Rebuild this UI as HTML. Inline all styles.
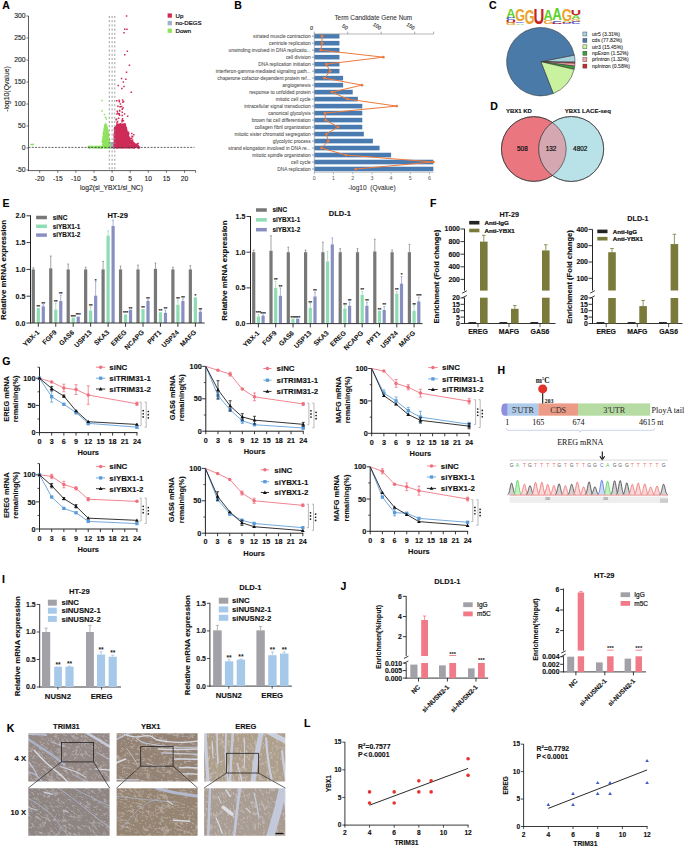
<!DOCTYPE html>
<html><head><meta charset="utf-8"><style>
html,body{margin:0;padding:0;background:#fff;}
body{width:685px;height:848px;overflow:hidden;position:relative;font-family:"Liberation Sans",sans-serif;}
svg{position:absolute;left:0;top:0;display:block;}

</style></head><body>
<svg width="685" height="848" viewBox="0 0 685 848" font-family="Liberation Sans, sans-serif">
<rect x="0" y="0" width="685" height="848" fill="#fff"/>
<text x="2.3" y="9.2" font-size="10.5" font-weight="bold" text-anchor="start" fill="#000" stroke="#000" stroke-width="0.12">A</text>
<path d="M109.2 146.6h1.5v1.5h-1.5zM110.4 143.0h1.5v1.5h-1.5zM108.8 145.7h1.5v1.5h-1.5zM114.1 142.6h1.5v1.5h-1.5zM109.2 145.2h1.5v1.5h-1.5zM111.2 145.4h1.5v1.5h-1.5zM109.7 146.4h1.5v1.5h-1.5zM113.3 147.2h1.5v1.5h-1.5zM112.8 145.8h1.5v1.5h-1.5zM110.8 144.8h1.5v1.5h-1.5zM110.2 146.1h1.5v1.5h-1.5zM110.9 145.4h1.5v1.5h-1.5zM110.1 144.4h1.5v1.5h-1.5zM108.9 146.8h1.5v1.5h-1.5zM109.7 147.2h1.5v1.5h-1.5zM110.9 147.2h1.5v1.5h-1.5zM113.6 146.8h1.5v1.5h-1.5zM114.2 147.2h1.5v1.5h-1.5zM113.3 147.2h1.5v1.5h-1.5zM109.9 146.8h1.5v1.5h-1.5zM110.5 145.7h1.5v1.5h-1.5zM109.2 147.2h1.5v1.5h-1.5zM112.6 145.2h1.5v1.5h-1.5zM109.9 142.1h1.5v1.5h-1.5zM110.4 144.5h1.5v1.5h-1.5zM110.1 146.2h1.5v1.5h-1.5zM113.7 146.7h1.5v1.5h-1.5zM110.9 147.1h1.5v1.5h-1.5zM111.1 143.1h1.5v1.5h-1.5zM111.5 144.1h1.5v1.5h-1.5zM112.6 146.9h1.5v1.5h-1.5zM110.7 145.4h1.5v1.5h-1.5zM109.0 142.0h1.5v1.5h-1.5zM112.6 143.7h1.5v1.5h-1.5zM111.2 145.0h1.5v1.5h-1.5zM108.7 144.7h1.5v1.5h-1.5zM113.5 145.3h1.5v1.5h-1.5zM112.7 146.7h1.5v1.5h-1.5zM111.4 145.1h1.5v1.5h-1.5zM111.3 144.5h1.5v1.5h-1.5zM111.5 147.2h1.5v1.5h-1.5zM109.4 144.7h1.5v1.5h-1.5zM113.3 146.5h1.5v1.5h-1.5zM113.5 147.2h1.5v1.5h-1.5zM110.6 146.9h1.5v1.5h-1.5zM111.8 145.1h1.5v1.5h-1.5zM109.4 147.0h1.5v1.5h-1.5zM113.6 146.6h1.5v1.5h-1.5zM112.6 142.0h1.5v1.5h-1.5zM112.4 145.1h1.5v1.5h-1.5zM109.4 143.0h1.5v1.5h-1.5zM113.3 147.2h1.5v1.5h-1.5zM111.5 147.2h1.5v1.5h-1.5zM113.8 146.7h1.5v1.5h-1.5zM109.8 145.6h1.5v1.5h-1.5zM111.2 147.2h1.5v1.5h-1.5zM111.2 146.1h1.5v1.5h-1.5zM108.8 145.9h1.5v1.5h-1.5zM113.3 146.8h1.5v1.5h-1.5zM109.5 147.0h1.5v1.5h-1.5zM113.9 147.2h1.5v1.5h-1.5zM110.8 143.5h1.5v1.5h-1.5zM110.6 146.9h1.5v1.5h-1.5zM113.7 143.4h1.5v1.5h-1.5zM113.4 142.6h1.5v1.5h-1.5zM109.1 145.2h1.5v1.5h-1.5zM109.4 142.7h1.5v1.5h-1.5zM110.5 144.8h1.5v1.5h-1.5zM112.3 147.2h1.5v1.5h-1.5zM113.6 147.1h1.5v1.5h-1.5zM112.3 147.2h1.5v1.5h-1.5zM108.7 146.6h1.5v1.5h-1.5zM110.2 147.0h1.5v1.5h-1.5zM112.9 144.5h1.5v1.5h-1.5zM109.4 142.8h1.5v1.5h-1.5zM110.6 147.1h1.5v1.5h-1.5zM109.6 146.9h1.5v1.5h-1.5zM108.5 144.7h1.5v1.5h-1.5zM109.2 146.1h1.5v1.5h-1.5zM110.1 147.0h1.5v1.5h-1.5zM113.9 146.5h1.5v1.5h-1.5zM110.9 144.8h1.5v1.5h-1.5zM109.9 142.1h1.5v1.5h-1.5zM112.1 147.2h1.5v1.5h-1.5zM112.6 144.5h1.5v1.5h-1.5zM112.6 146.3h1.5v1.5h-1.5zM113.9 146.9h1.5v1.5h-1.5zM113.1 144.8h1.5v1.5h-1.5zM113.8 146.1h1.5v1.5h-1.5zM114.0 146.5h1.5v1.5h-1.5zM114.0 146.6h1.5v1.5h-1.5zM111.4 146.9h1.5v1.5h-1.5zM111.6 146.0h1.5v1.5h-1.5zM113.4 143.8h1.5v1.5h-1.5zM112.5 147.2h1.5v1.5h-1.5zM110.8 146.2h1.5v1.5h-1.5zM113.7 147.2h1.5v1.5h-1.5zM112.6 142.1h1.5v1.5h-1.5zM108.9 145.9h1.5v1.5h-1.5zM110.4 146.9h1.5v1.5h-1.5zM110.6 147.2h1.5v1.5h-1.5zM110.8 146.8h1.5v1.5h-1.5zM109.2 147.2h1.5v1.5h-1.5zM111.7 142.6h1.5v1.5h-1.5zM111.1 147.1h1.5v1.5h-1.5zM111.3 146.8h1.5v1.5h-1.5zM112.8 147.2h1.5v1.5h-1.5zM112.1 142.8h1.5v1.5h-1.5zM113.2 142.5h1.5v1.5h-1.5zM111.5 146.1h1.5v1.5h-1.5zM110.6 145.2h1.5v1.5h-1.5zM111.1 147.2h1.5v1.5h-1.5zM112.4 144.1h1.5v1.5h-1.5zM113.2 147.2h1.5v1.5h-1.5zM111.5 147.2h1.5v1.5h-1.5zM110.2 147.2h1.5v1.5h-1.5zM112.0 147.1h1.5v1.5h-1.5zM113.6 145.0h1.5v1.5h-1.5zM108.8 146.3h1.5v1.5h-1.5zM108.9 147.2h1.5v1.5h-1.5zM109.5 147.2h1.5v1.5h-1.5zM109.3 147.0h1.5v1.5h-1.5zM110.5 143.7h1.5v1.5h-1.5zM113.0 146.4h1.5v1.5h-1.5zM111.4 147.2h1.5v1.5h-1.5zM111.3 147.2h1.5v1.5h-1.5zM111.7 142.9h1.5v1.5h-1.5zM112.1 147.0h1.5v1.5h-1.5zM111.3 146.3h1.5v1.5h-1.5zM112.6 145.5h1.5v1.5h-1.5zM114.1 143.3h1.5v1.5h-1.5zM113.1 142.5h1.5v1.5h-1.5zM113.1 145.2h1.5v1.5h-1.5zM109.6 147.2h1.5v1.5h-1.5zM111.0 143.8h1.5v1.5h-1.5zM112.8 147.2h1.5v1.5h-1.5zM110.0 147.2h1.5v1.5h-1.5zM109.6 142.9h1.5v1.5h-1.5zM110.0 144.0h1.5v1.5h-1.5zM110.7 144.3h1.5v1.5h-1.5zM112.4 146.0h1.5v1.5h-1.5zM109.7 144.9h1.5v1.5h-1.5zM109.4 145.3h1.5v1.5h-1.5zM113.0 147.1h1.5v1.5h-1.5zM110.9 147.2h1.5v1.5h-1.5zM111.8 147.2h1.5v1.5h-1.5zM110.5 147.2h1.5v1.5h-1.5zM111.0 142.2h1.5v1.5h-1.5zM108.6 146.3h1.5v1.5h-1.5zM109.1 147.1h1.5v1.5h-1.5zM109.3 145.7h1.5v1.5h-1.5zM109.3 147.2h1.5v1.5h-1.5zM112.2 144.8h1.5v1.5h-1.5zM110.3 147.0h1.5v1.5h-1.5zM111.6 147.0h1.5v1.5h-1.5zM109.2 146.0h1.5v1.5h-1.5zM112.1 147.2h1.5v1.5h-1.5zM112.3 147.0h1.5v1.5h-1.5zM109.0 147.2h1.5v1.5h-1.5zM113.4 147.2h1.5v1.5h-1.5zM115.0 147.2h1.5v1.5h-1.5zM105.9 147.0h1.5v1.5h-1.5zM98.9 146.9h1.5v1.5h-1.5zM88.1 147.0h1.5v1.5h-1.5zM116.9 147.2h1.5v1.5h-1.5zM137.8 147.0h1.5v1.5h-1.5zM94.4 146.9h1.5v1.5h-1.5zM89.2 146.9h1.5v1.5h-1.5zM130.1 147.0h1.5v1.5h-1.5zM89.0 147.2h1.5v1.5h-1.5zM129.9 146.9h1.5v1.5h-1.5zM101.5 146.8h1.5v1.5h-1.5zM129.0 147.2h1.5v1.5h-1.5zM132.7 147.2h1.5v1.5h-1.5zM104.3 147.2h1.5v1.5h-1.5zM98.5 147.0h1.5v1.5h-1.5zM90.1 146.8h1.5v1.5h-1.5zM98.5 146.9h1.5v1.5h-1.5zM105.6 146.8h1.5v1.5h-1.5zM116.2 147.0h1.5v1.5h-1.5zM126.4 147.0h1.5v1.5h-1.5zM110.7 147.2h1.5v1.5h-1.5zM128.3 147.0h1.5v1.5h-1.5zM111.3 146.8h1.5v1.5h-1.5zM111.4 146.9h1.5v1.5h-1.5zM96.1 147.1h1.5v1.5h-1.5zM119.8 147.1h1.5v1.5h-1.5zM138.3 146.8h1.5v1.5h-1.5zM120.5 146.9h1.5v1.5h-1.5zM101.6 146.9h1.5v1.5h-1.5zM131.4 147.0h1.5v1.5h-1.5zM116.5 147.0h1.5v1.5h-1.5zM100.4 147.2h1.5v1.5h-1.5zM97.1 147.0h1.5v1.5h-1.5zM120.1 146.9h1.5v1.5h-1.5zM101.4 147.2h1.5v1.5h-1.5zM109.1 147.2h1.5v1.5h-1.5zM100.9 147.0h1.5v1.5h-1.5zM122.5 147.2h1.5v1.5h-1.5zM96.6 147.0h1.5v1.5h-1.5z" fill="#9fb1c6" stroke="none" stroke-width="1"/>
<path d="M106.8 145.9h1.5v1.5h-1.5zM107.9 136.0h1.5v1.5h-1.5zM102.6 140.0h1.5v1.5h-1.5zM106.2 144.9h1.5v1.5h-1.5zM108.5 141.7h1.5v1.5h-1.5zM104.5 145.4h1.5v1.5h-1.5zM104.8 123.1h1.5v1.5h-1.5zM102.7 142.8h1.5v1.5h-1.5zM105.6 131.2h1.5v1.5h-1.5zM102.4 141.8h1.5v1.5h-1.5zM106.0 141.2h1.5v1.5h-1.5zM108.0 141.9h1.5v1.5h-1.5zM103.7 132.2h1.5v1.5h-1.5zM106.1 131.5h1.5v1.5h-1.5zM105.6 141.4h1.5v1.5h-1.5zM103.1 145.1h1.5v1.5h-1.5zM108.9 143.6h1.5v1.5h-1.5zM104.1 139.5h1.5v1.5h-1.5zM101.7 141.1h1.5v1.5h-1.5zM105.1 141.4h1.5v1.5h-1.5zM105.2 127.1h1.5v1.5h-1.5zM104.0 128.4h1.5v1.5h-1.5zM107.4 138.4h1.5v1.5h-1.5zM107.1 138.4h1.5v1.5h-1.5zM102.6 136.7h1.5v1.5h-1.5zM103.2 134.8h1.5v1.5h-1.5zM106.7 128.7h1.5v1.5h-1.5zM105.9 130.7h1.5v1.5h-1.5zM105.6 133.9h1.5v1.5h-1.5zM108.7 139.7h1.5v1.5h-1.5zM102.7 134.7h1.5v1.5h-1.5zM103.7 129.3h1.5v1.5h-1.5zM106.3 147.2h1.5v1.5h-1.5zM102.9 131.7h1.5v1.5h-1.5zM104.4 130.2h1.5v1.5h-1.5zM105.0 144.5h1.5v1.5h-1.5zM106.1 131.9h1.5v1.5h-1.5zM105.2 134.5h1.5v1.5h-1.5zM104.7 126.9h1.5v1.5h-1.5zM106.5 127.1h1.5v1.5h-1.5zM109.2 145.5h1.5v1.5h-1.5zM102.9 141.4h1.5v1.5h-1.5zM103.0 135.1h1.5v1.5h-1.5zM105.9 124.8h1.5v1.5h-1.5zM108.6 145.0h1.5v1.5h-1.5zM106.1 128.4h1.5v1.5h-1.5zM103.6 139.6h1.5v1.5h-1.5zM109.0 144.9h1.5v1.5h-1.5zM106.2 128.7h1.5v1.5h-1.5zM103.4 144.7h1.5v1.5h-1.5zM102.6 140.8h1.5v1.5h-1.5zM105.8 139.2h1.5v1.5h-1.5zM102.4 145.1h1.5v1.5h-1.5zM105.5 126.9h1.5v1.5h-1.5zM103.9 134.9h1.5v1.5h-1.5zM108.7 145.7h1.5v1.5h-1.5zM108.8 143.5h1.5v1.5h-1.5zM102.7 135.7h1.5v1.5h-1.5zM107.5 133.1h1.5v1.5h-1.5zM106.5 145.9h1.5v1.5h-1.5zM102.8 132.6h1.5v1.5h-1.5zM107.0 145.0h1.5v1.5h-1.5zM101.9 139.4h1.5v1.5h-1.5zM104.5 138.9h1.5v1.5h-1.5zM102.6 145.4h1.5v1.5h-1.5zM104.1 126.0h1.5v1.5h-1.5zM106.0 131.9h1.5v1.5h-1.5zM102.3 136.3h1.5v1.5h-1.5zM104.0 147.1h1.5v1.5h-1.5zM108.3 144.1h1.5v1.5h-1.5zM103.4 134.2h1.5v1.5h-1.5zM106.9 144.3h1.5v1.5h-1.5zM106.2 144.0h1.5v1.5h-1.5zM105.4 144.9h1.5v1.5h-1.5zM103.5 136.0h1.5v1.5h-1.5zM105.6 130.8h1.5v1.5h-1.5zM108.6 138.8h1.5v1.5h-1.5zM104.0 142.0h1.5v1.5h-1.5zM107.1 138.0h1.5v1.5h-1.5zM102.9 142.4h1.5v1.5h-1.5zM104.6 126.3h1.5v1.5h-1.5zM104.7 126.8h1.5v1.5h-1.5zM105.0 132.7h1.5v1.5h-1.5zM103.2 137.0h1.5v1.5h-1.5zM107.0 145.1h1.5v1.5h-1.5zM104.8 140.9h1.5v1.5h-1.5zM103.5 138.8h1.5v1.5h-1.5zM102.8 132.8h1.5v1.5h-1.5zM101.5 141.3h1.5v1.5h-1.5zM103.3 142.7h1.5v1.5h-1.5zM108.3 143.9h1.5v1.5h-1.5zM102.7 139.4h1.5v1.5h-1.5zM105.3 126.3h1.5v1.5h-1.5zM101.4 146.6h1.5v1.5h-1.5zM103.9 136.5h1.5v1.5h-1.5zM102.9 139.3h1.5v1.5h-1.5zM103.0 141.1h1.5v1.5h-1.5zM107.1 138.3h1.5v1.5h-1.5zM106.3 141.6h1.5v1.5h-1.5zM105.1 125.6h1.5v1.5h-1.5zM106.1 146.3h1.5v1.5h-1.5zM106.5 146.7h1.5v1.5h-1.5zM108.7 139.8h1.5v1.5h-1.5zM107.4 133.7h1.5v1.5h-1.5zM105.1 134.1h1.5v1.5h-1.5zM104.4 125.9h1.5v1.5h-1.5zM102.6 138.5h1.5v1.5h-1.5zM103.8 146.1h1.5v1.5h-1.5zM104.4 147.2h1.5v1.5h-1.5zM105.0 145.7h1.5v1.5h-1.5zM103.6 144.9h1.5v1.5h-1.5zM104.6 132.7h1.5v1.5h-1.5zM102.2 137.8h1.5v1.5h-1.5zM105.6 128.6h1.5v1.5h-1.5zM103.3 128.4h1.5v1.5h-1.5zM105.6 142.9h1.5v1.5h-1.5zM105.7 137.5h1.5v1.5h-1.5zM103.7 126.8h1.5v1.5h-1.5zM106.8 141.8h1.5v1.5h-1.5zM103.9 136.3h1.5v1.5h-1.5zM107.7 144.9h1.5v1.5h-1.5zM107.0 129.5h1.5v1.5h-1.5zM104.9 123.4h1.5v1.5h-1.5zM102.8 137.0h1.5v1.5h-1.5zM103.5 134.8h1.5v1.5h-1.5zM107.1 145.0h1.5v1.5h-1.5zM104.5 135.0h1.5v1.5h-1.5zM104.2 141.1h1.5v1.5h-1.5zM106.3 136.5h1.5v1.5h-1.5zM102.5 146.0h1.5v1.5h-1.5zM106.7 131.9h1.5v1.5h-1.5zM105.2 134.6h1.5v1.5h-1.5zM104.5 124.5h1.5v1.5h-1.5zM101.7 141.4h1.5v1.5h-1.5zM107.5 139.3h1.5v1.5h-1.5zM103.9 136.4h1.5v1.5h-1.5zM103.6 128.2h1.5v1.5h-1.5zM106.9 138.6h1.5v1.5h-1.5zM107.0 138.3h1.5v1.5h-1.5zM106.2 144.7h1.5v1.5h-1.5zM103.7 133.2h1.5v1.5h-1.5zM106.1 135.6h1.5v1.5h-1.5zM108.1 140.4h1.5v1.5h-1.5zM102.9 131.7h1.5v1.5h-1.5zM103.1 144.7h1.5v1.5h-1.5zM105.9 125.3h1.5v1.5h-1.5zM108.0 140.5h1.5v1.5h-1.5zM106.2 138.7h1.5v1.5h-1.5zM101.9 139.0h1.5v1.5h-1.5zM103.1 131.4h1.5v1.5h-1.5zM106.4 131.5h1.5v1.5h-1.5zM108.5 147.2h1.5v1.5h-1.5zM102.9 144.7h1.5v1.5h-1.5zM104.2 124.3h1.5v1.5h-1.5zM104.9 127.2h1.5v1.5h-1.5zM102.7 138.4h1.5v1.5h-1.5zM107.6 139.9h1.5v1.5h-1.5zM107.0 132.2h1.5v1.5h-1.5zM106.4 146.5h1.5v1.5h-1.5zM104.2 140.3h1.5v1.5h-1.5zM106.8 135.1h1.5v1.5h-1.5zM106.2 137.5h1.5v1.5h-1.5zM103.4 139.9h1.5v1.5h-1.5zM101.9 144.3h1.5v1.5h-1.5zM107.1 142.1h1.5v1.5h-1.5zM105.3 146.8h1.5v1.5h-1.5zM105.4 146.4h1.5v1.5h-1.5zM102.1 144.2h1.5v1.5h-1.5zM104.0 135.3h1.5v1.5h-1.5zM103.0 145.3h1.5v1.5h-1.5zM102.3 142.2h1.5v1.5h-1.5zM108.2 146.9h1.5v1.5h-1.5zM107.9 139.3h1.5v1.5h-1.5zM106.8 136.6h1.5v1.5h-1.5zM105.8 146.6h1.5v1.5h-1.5zM104.8 125.4h1.5v1.5h-1.5zM106.9 135.1h1.5v1.5h-1.5zM108.1 147.1h1.5v1.5h-1.5zM108.0 146.9h1.5v1.5h-1.5zM103.8 139.6h1.5v1.5h-1.5zM102.9 130.8h1.5v1.5h-1.5zM108.5 144.4h1.5v1.5h-1.5zM103.5 137.2h1.5v1.5h-1.5zM105.4 128.7h1.5v1.5h-1.5zM107.7 134.2h1.5v1.5h-1.5zM107.8 143.3h1.5v1.5h-1.5zM107.7 142.5h1.5v1.5h-1.5zM102.5 143.4h1.5v1.5h-1.5zM106.5 131.6h1.5v1.5h-1.5zM108.7 144.2h1.5v1.5h-1.5zM106.8 133.5h1.5v1.5h-1.5zM104.5 141.4h1.5v1.5h-1.5zM108.0 139.2h1.5v1.5h-1.5zM108.5 146.4h1.5v1.5h-1.5zM108.3 146.8h1.5v1.5h-1.5zM103.8 132.4h1.5v1.5h-1.5zM104.5 145.6h1.5v1.5h-1.5zM107.9 134.9h1.5v1.5h-1.5zM107.6 146.4h1.5v1.5h-1.5zM102.5 141.5h1.5v1.5h-1.5zM107.7 146.7h1.5v1.5h-1.5zM104.3 126.0h1.5v1.5h-1.5zM108.1 141.2h1.5v1.5h-1.5zM107.1 138.3h1.5v1.5h-1.5zM107.3 130.7h1.5v1.5h-1.5zM104.6 135.7h1.5v1.5h-1.5zM105.6 129.9h1.5v1.5h-1.5zM104.4 134.2h1.5v1.5h-1.5zM102.8 143.8h1.5v1.5h-1.5zM104.3 125.2h1.5v1.5h-1.5zM104.2 128.6h1.5v1.5h-1.5zM105.2 131.3h1.5v1.5h-1.5zM106.7 131.5h1.5v1.5h-1.5zM102.6 133.0h1.5v1.5h-1.5zM104.6 130.2h1.5v1.5h-1.5zM107.4 142.1h1.5v1.5h-1.5zM104.2 140.8h1.5v1.5h-1.5zM104.8 123.1h1.5v1.5h-1.5zM105.2 144.1h1.5v1.5h-1.5zM104.2 145.1h1.5v1.5h-1.5zM104.4 135.9h1.5v1.5h-1.5zM105.5 143.1h1.5v1.5h-1.5zM105.3 137.0h1.5v1.5h-1.5zM105.1 137.0h1.5v1.5h-1.5zM106.6 132.4h1.5v1.5h-1.5zM103.2 132.6h1.5v1.5h-1.5zM104.9 128.2h1.5v1.5h-1.5zM106.1 134.5h1.5v1.5h-1.5zM102.8 137.7h1.5v1.5h-1.5zM105.9 140.6h1.5v1.5h-1.5zM109.0 146.7h1.5v1.5h-1.5zM104.9 139.2h1.5v1.5h-1.5zM105.8 131.0h1.5v1.5h-1.5zM104.7 138.0h1.5v1.5h-1.5zM107.2 133.4h1.5v1.5h-1.5zM103.0 145.4h1.5v1.5h-1.5zM105.5 124.4h1.5v1.5h-1.5zM106.1 134.4h1.5v1.5h-1.5zM103.5 143.1h1.5v1.5h-1.5zM104.7 126.4h1.5v1.5h-1.5zM107.6 133.6h1.5v1.5h-1.5zM105.9 136.8h1.5v1.5h-1.5zM106.6 138.2h1.5v1.5h-1.5zM107.1 136.7h1.5v1.5h-1.5zM106.7 134.6h1.5v1.5h-1.5zM104.3 129.3h1.5v1.5h-1.5zM106.5 144.9h1.5v1.5h-1.5zM105.3 140.2h1.5v1.5h-1.5zM106.4 143.1h1.5v1.5h-1.5zM103.6 140.9h1.5v1.5h-1.5zM103.4 133.1h1.5v1.5h-1.5zM106.4 128.1h1.5v1.5h-1.5zM104.3 136.5h1.5v1.5h-1.5zM106.4 142.1h1.5v1.5h-1.5zM108.2 145.6h1.5v1.5h-1.5zM108.5 141.6h1.5v1.5h-1.5zM104.0 142.8h1.5v1.5h-1.5zM106.1 133.8h1.5v1.5h-1.5zM105.5 134.4h1.5v1.5h-1.5zM106.1 127.8h1.5v1.5h-1.5zM107.0 129.5h1.5v1.5h-1.5zM107.8 135.5h1.5v1.5h-1.5zM106.3 144.4h1.5v1.5h-1.5zM106.6 141.4h1.5v1.5h-1.5zM108.9 140.0h1.5v1.5h-1.5zM105.1 135.5h1.5v1.5h-1.5zM108.9 143.4h1.5v1.5h-1.5zM103.2 131.3h1.5v1.5h-1.5zM104.1 138.6h1.5v1.5h-1.5zM104.7 132.7h1.5v1.5h-1.5zM104.7 126.2h1.5v1.5h-1.5zM104.1 134.0h1.5v1.5h-1.5zM104.3 139.6h1.5v1.5h-1.5zM105.0 135.5h1.5v1.5h-1.5zM102.7 134.3h1.5v1.5h-1.5zM105.8 132.9h1.5v1.5h-1.5zM107.1 135.9h1.5v1.5h-1.5zM102.2 139.6h1.5v1.5h-1.5zM104.5 136.9h1.5v1.5h-1.5zM103.6 133.5h1.5v1.5h-1.5zM106.1 144.0h1.5v1.5h-1.5zM104.6 143.9h1.5v1.5h-1.5zM105.5 128.9h1.5v1.5h-1.5zM106.5 137.9h1.5v1.5h-1.5zM108.1 145.6h1.5v1.5h-1.5zM104.3 129.8h1.5v1.5h-1.5zM107.9 134.8h1.5v1.5h-1.5zM104.5 129.5h1.5v1.5h-1.5zM105.3 144.4h1.5v1.5h-1.5zM108.3 141.4h1.5v1.5h-1.5zM107.4 146.3h1.5v1.5h-1.5zM105.2 139.7h1.5v1.5h-1.5zM105.2 137.6h1.5v1.5h-1.5zM105.6 136.4h1.5v1.5h-1.5zM107.3 130.8h1.5v1.5h-1.5zM103.4 142.3h1.5v1.5h-1.5zM103.1 139.1h1.5v1.5h-1.5zM104.6 134.6h1.5v1.5h-1.5zM103.3 139.8h1.5v1.5h-1.5zM105.3 147.1h1.5v1.5h-1.5zM106.3 146.3h1.5v1.5h-1.5zM105.9 132.5h1.5v1.5h-1.5zM103.7 146.8h1.5v1.5h-1.5zM102.1 141.2h1.5v1.5h-1.5zM104.0 125.1h1.5v1.5h-1.5zM102.5 141.5h1.5v1.5h-1.5zM105.8 133.9h1.5v1.5h-1.5zM107.5 139.5h1.5v1.5h-1.5zM106.7 132.8h1.5v1.5h-1.5zM102.9 133.1h1.5v1.5h-1.5zM108.7 146.9h1.5v1.5h-1.5zM103.8 139.5h1.5v1.5h-1.5zM106.4 143.9h1.5v1.5h-1.5zM101.7 146.8h1.5v1.5h-1.5zM106.0 125.2h1.5v1.5h-1.5zM105.6 134.6h1.5v1.5h-1.5zM104.5 133.0h1.5v1.5h-1.5zM107.2 135.6h1.5v1.5h-1.5zM105.3 139.7h1.5v1.5h-1.5zM106.3 145.5h1.5v1.5h-1.5zM105.4 136.5h1.5v1.5h-1.5zM106.0 140.1h1.5v1.5h-1.5zM107.8 140.7h1.5v1.5h-1.5zM105.6 136.4h1.5v1.5h-1.5zM105.5 138.1h1.5v1.5h-1.5zM104.9 140.5h1.5v1.5h-1.5zM104.8 140.6h1.5v1.5h-1.5zM103.7 140.4h1.5v1.5h-1.5zM105.6 139.9h1.5v1.5h-1.5zM107.0 139.6h1.5v1.5h-1.5zM88.1 145.6h1.5v1.5h-1.5zM100.2 147.2h1.5v1.5h-1.5zM91.3 146.0h1.5v1.5h-1.5zM92.7 146.1h1.5v1.5h-1.5zM91.4 146.4h1.5v1.5h-1.5zM96.9 146.3h1.5v1.5h-1.5zM91.2 145.8h1.5v1.5h-1.5zM95.7 146.2h1.5v1.5h-1.5zM94.4 145.7h1.5v1.5h-1.5zM100.8 145.7h1.5v1.5h-1.5zM93.3 146.5h1.5v1.5h-1.5zM95.9 145.5h1.5v1.5h-1.5zM98.7 146.3h1.5v1.5h-1.5zM95.0 146.2h1.5v1.5h-1.5zM91.2 146.1h1.5v1.5h-1.5zM87.6 146.6h1.5v1.5h-1.5zM99.4 146.0h1.5v1.5h-1.5zM101.5 146.0h1.5v1.5h-1.5zM89.0 145.9h1.5v1.5h-1.5zM100.8 146.7h1.5v1.5h-1.5zM100.2 147.1h1.5v1.5h-1.5zM89.6 145.8h1.5v1.5h-1.5zM98.1 146.9h1.5v1.5h-1.5zM87.9 146.1h1.5v1.5h-1.5zM90.2 146.3h1.5v1.5h-1.5zM95.2 145.7h1.5v1.5h-1.5zM93.2 147.2h1.5v1.5h-1.5zM100.6 147.2h1.5v1.5h-1.5zM97.9 145.7h1.5v1.5h-1.5zM101.0 147.2h1.5v1.5h-1.5zM96.9 146.8h1.5v1.5h-1.5zM95.6 145.9h1.5v1.5h-1.5zM91.0 147.0h1.5v1.5h-1.5zM89.2 146.0h1.5v1.5h-1.5zM101.0 146.6h1.5v1.5h-1.5zM89.7 146.5h1.5v1.5h-1.5zM92.5 146.1h1.5v1.5h-1.5zM92.7 145.9h1.5v1.5h-1.5zM99.4 145.8h1.5v1.5h-1.5zM95.4 146.9h1.5v1.5h-1.5zM101.2 99.7h1.5v1.5h-1.5zM101.2 110.3h1.5v1.5h-1.5zM103.7 113.8h1.5v1.5h-1.5zM104.8 116.5h1.5v1.5h-1.5zM105.6 118.2h1.5v1.5h-1.5zM30.3 143.7h1.5v1.5h-1.5zM31.7 143.9h1.5v1.5h-1.5zM32.4 143.5h1.5v1.5h-1.5zM88.5 145.5h1.5v1.5h-1.5zM92.2 145.9h1.5v1.5h-1.5z" fill="#8fe35c" stroke="none" stroke-width="1"/>
<path d="M124.9 133.5h1.5v1.5h-1.5zM126.3 132.8h1.5v1.5h-1.5zM118.1 134.6h1.5v1.5h-1.5zM115.7 139.8h1.5v1.5h-1.5zM115.7 127.3h1.5v1.5h-1.5zM131.0 146.2h1.5v1.5h-1.5zM117.4 146.9h1.5v1.5h-1.5zM126.8 145.8h1.5v1.5h-1.5zM118.2 141.3h1.5v1.5h-1.5zM114.1 135.8h1.5v1.5h-1.5zM124.6 126.5h1.5v1.5h-1.5zM126.6 131.5h1.5v1.5h-1.5zM126.1 130.9h1.5v1.5h-1.5zM125.0 140.4h1.5v1.5h-1.5zM121.4 141.6h1.5v1.5h-1.5zM120.7 145.5h1.5v1.5h-1.5zM113.4 142.1h1.5v1.5h-1.5zM115.2 131.7h1.5v1.5h-1.5zM115.6 139.1h1.5v1.5h-1.5zM116.4 141.2h1.5v1.5h-1.5zM115.9 145.8h1.5v1.5h-1.5zM133.7 142.9h1.5v1.5h-1.5zM127.6 136.2h1.5v1.5h-1.5zM118.2 129.2h1.5v1.5h-1.5zM116.7 131.4h1.5v1.5h-1.5zM116.3 136.9h1.5v1.5h-1.5zM118.8 140.6h1.5v1.5h-1.5zM121.1 125.4h1.5v1.5h-1.5zM118.7 137.5h1.5v1.5h-1.5zM118.8 140.9h1.5v1.5h-1.5zM120.9 145.4h1.5v1.5h-1.5zM115.6 132.9h1.5v1.5h-1.5zM119.5 132.4h1.5v1.5h-1.5zM122.8 136.1h1.5v1.5h-1.5zM118.0 143.5h1.5v1.5h-1.5zM119.7 142.6h1.5v1.5h-1.5zM118.4 123.8h1.5v1.5h-1.5zM124.1 144.7h1.5v1.5h-1.5zM119.4 129.9h1.5v1.5h-1.5zM119.9 127.0h1.5v1.5h-1.5zM128.6 140.0h1.5v1.5h-1.5zM117.8 129.5h1.5v1.5h-1.5zM115.1 141.6h1.5v1.5h-1.5zM129.0 140.3h1.5v1.5h-1.5zM113.8 140.6h1.5v1.5h-1.5zM124.7 145.8h1.5v1.5h-1.5zM117.8 138.2h1.5v1.5h-1.5zM127.9 144.0h1.5v1.5h-1.5zM122.6 125.3h1.5v1.5h-1.5zM116.9 146.4h1.5v1.5h-1.5zM113.9 131.6h1.5v1.5h-1.5zM125.6 129.3h1.5v1.5h-1.5zM115.3 133.8h1.5v1.5h-1.5zM122.3 130.4h1.5v1.5h-1.5zM124.0 127.8h1.5v1.5h-1.5zM115.4 131.5h1.5v1.5h-1.5zM124.6 126.6h1.5v1.5h-1.5zM115.5 128.8h1.5v1.5h-1.5zM114.1 132.4h1.5v1.5h-1.5zM125.6 141.6h1.5v1.5h-1.5zM119.9 147.0h1.5v1.5h-1.5zM121.0 130.5h1.5v1.5h-1.5zM118.5 143.1h1.5v1.5h-1.5zM124.6 125.3h1.5v1.5h-1.5zM121.7 130.8h1.5v1.5h-1.5zM118.4 136.6h1.5v1.5h-1.5zM128.2 139.5h1.5v1.5h-1.5zM116.8 135.0h1.5v1.5h-1.5zM120.4 143.1h1.5v1.5h-1.5zM124.8 140.5h1.5v1.5h-1.5zM118.8 137.0h1.5v1.5h-1.5zM121.4 126.6h1.5v1.5h-1.5zM115.2 146.5h1.5v1.5h-1.5zM135.6 146.2h1.5v1.5h-1.5zM121.2 127.7h1.5v1.5h-1.5zM113.8 143.9h1.5v1.5h-1.5zM124.9 146.6h1.5v1.5h-1.5zM116.9 146.1h1.5v1.5h-1.5zM130.8 142.3h1.5v1.5h-1.5zM125.5 142.8h1.5v1.5h-1.5zM113.6 135.6h1.5v1.5h-1.5zM131.6 142.8h1.5v1.5h-1.5zM120.3 138.7h1.5v1.5h-1.5zM123.4 127.7h1.5v1.5h-1.5zM136.5 145.1h1.5v1.5h-1.5zM116.7 136.1h1.5v1.5h-1.5zM123.0 133.2h1.5v1.5h-1.5zM130.0 142.2h1.5v1.5h-1.5zM118.8 125.1h1.5v1.5h-1.5zM121.5 124.8h1.5v1.5h-1.5zM115.5 136.4h1.5v1.5h-1.5zM125.8 146.5h1.5v1.5h-1.5zM134.0 145.7h1.5v1.5h-1.5zM133.8 143.0h1.5v1.5h-1.5zM121.9 127.8h1.5v1.5h-1.5zM116.9 143.6h1.5v1.5h-1.5zM119.0 134.3h1.5v1.5h-1.5zM120.7 129.3h1.5v1.5h-1.5zM121.3 137.9h1.5v1.5h-1.5zM118.7 126.3h1.5v1.5h-1.5zM128.0 142.3h1.5v1.5h-1.5zM127.0 134.9h1.5v1.5h-1.5zM128.8 146.6h1.5v1.5h-1.5zM123.6 127.5h1.5v1.5h-1.5zM127.7 135.2h1.5v1.5h-1.5zM131.0 145.6h1.5v1.5h-1.5zM127.1 137.1h1.5v1.5h-1.5zM120.2 135.6h1.5v1.5h-1.5zM116.6 136.6h1.5v1.5h-1.5zM125.5 139.4h1.5v1.5h-1.5zM118.2 132.0h1.5v1.5h-1.5zM133.2 146.7h1.5v1.5h-1.5zM118.3 141.7h1.5v1.5h-1.5zM122.4 132.0h1.5v1.5h-1.5zM116.0 129.2h1.5v1.5h-1.5zM116.5 134.7h1.5v1.5h-1.5zM119.7 142.4h1.5v1.5h-1.5zM126.9 136.5h1.5v1.5h-1.5zM122.9 137.1h1.5v1.5h-1.5zM126.9 143.3h1.5v1.5h-1.5zM118.6 131.7h1.5v1.5h-1.5zM121.4 124.5h1.5v1.5h-1.5zM119.4 129.3h1.5v1.5h-1.5zM120.0 144.9h1.5v1.5h-1.5zM133.5 144.1h1.5v1.5h-1.5zM123.6 130.4h1.5v1.5h-1.5zM113.8 142.3h1.5v1.5h-1.5zM126.2 130.4h1.5v1.5h-1.5zM118.2 145.5h1.5v1.5h-1.5zM116.1 146.3h1.5v1.5h-1.5zM127.4 134.6h1.5v1.5h-1.5zM127.9 143.6h1.5v1.5h-1.5zM118.1 142.2h1.5v1.5h-1.5zM137.0 144.9h1.5v1.5h-1.5zM125.1 128.4h1.5v1.5h-1.5zM121.7 135.7h1.5v1.5h-1.5zM126.5 136.7h1.5v1.5h-1.5zM128.7 146.9h1.5v1.5h-1.5zM118.0 136.1h1.5v1.5h-1.5zM118.3 143.2h1.5v1.5h-1.5zM126.4 146.9h1.5v1.5h-1.5zM119.9 124.8h1.5v1.5h-1.5zM131.8 145.5h1.5v1.5h-1.5zM122.1 135.7h1.5v1.5h-1.5zM113.6 138.5h1.5v1.5h-1.5zM119.3 124.0h1.5v1.5h-1.5zM126.9 137.7h1.5v1.5h-1.5zM138.4 146.7h1.5v1.5h-1.5zM119.9 137.4h1.5v1.5h-1.5zM114.6 142.4h1.5v1.5h-1.5zM122.9 144.8h1.5v1.5h-1.5zM119.7 124.9h1.5v1.5h-1.5zM127.4 134.7h1.5v1.5h-1.5zM134.0 145.4h1.5v1.5h-1.5zM117.4 135.6h1.5v1.5h-1.5zM117.7 135.0h1.5v1.5h-1.5zM128.9 145.8h1.5v1.5h-1.5zM126.8 132.5h1.5v1.5h-1.5zM122.7 140.2h1.5v1.5h-1.5zM120.6 129.6h1.5v1.5h-1.5zM120.9 146.9h1.5v1.5h-1.5zM119.6 146.2h1.5v1.5h-1.5zM117.3 128.7h1.5v1.5h-1.5zM123.3 125.1h1.5v1.5h-1.5zM132.4 146.0h1.5v1.5h-1.5zM124.3 135.5h1.5v1.5h-1.5zM128.7 144.4h1.5v1.5h-1.5zM118.5 146.0h1.5v1.5h-1.5zM126.8 144.2h1.5v1.5h-1.5zM124.6 130.8h1.5v1.5h-1.5zM125.0 140.8h1.5v1.5h-1.5zM128.2 136.9h1.5v1.5h-1.5zM132.1 141.4h1.5v1.5h-1.5zM116.2 125.3h1.5v1.5h-1.5zM122.5 140.6h1.5v1.5h-1.5zM132.6 142.6h1.5v1.5h-1.5zM119.7 123.1h1.5v1.5h-1.5zM114.3 145.8h1.5v1.5h-1.5zM120.3 136.8h1.5v1.5h-1.5zM129.2 144.7h1.5v1.5h-1.5zM127.2 145.5h1.5v1.5h-1.5zM115.5 130.6h1.5v1.5h-1.5zM122.9 135.5h1.5v1.5h-1.5zM118.7 138.8h1.5v1.5h-1.5zM115.2 144.3h1.5v1.5h-1.5zM133.0 142.0h1.5v1.5h-1.5zM124.2 140.9h1.5v1.5h-1.5zM121.6 133.7h1.5v1.5h-1.5zM124.3 138.2h1.5v1.5h-1.5zM115.8 125.7h1.5v1.5h-1.5zM115.3 145.2h1.5v1.5h-1.5zM127.7 135.3h1.5v1.5h-1.5zM130.8 139.9h1.5v1.5h-1.5zM133.1 145.4h1.5v1.5h-1.5zM118.8 130.9h1.5v1.5h-1.5zM115.4 139.8h1.5v1.5h-1.5zM120.6 143.7h1.5v1.5h-1.5zM122.5 129.4h1.5v1.5h-1.5zM122.7 144.4h1.5v1.5h-1.5zM121.4 137.4h1.5v1.5h-1.5zM119.7 138.3h1.5v1.5h-1.5zM122.7 138.3h1.5v1.5h-1.5zM123.4 137.7h1.5v1.5h-1.5zM118.3 133.4h1.5v1.5h-1.5zM117.8 128.5h1.5v1.5h-1.5zM113.9 134.5h1.5v1.5h-1.5zM127.2 133.3h1.5v1.5h-1.5zM133.9 145.7h1.5v1.5h-1.5zM115.5 145.2h1.5v1.5h-1.5zM115.5 131.6h1.5v1.5h-1.5zM117.0 128.9h1.5v1.5h-1.5zM129.9 141.2h1.5v1.5h-1.5zM119.0 128.4h1.5v1.5h-1.5zM123.4 138.9h1.5v1.5h-1.5zM125.9 134.0h1.5v1.5h-1.5zM124.1 143.6h1.5v1.5h-1.5zM122.9 143.1h1.5v1.5h-1.5zM118.6 136.8h1.5v1.5h-1.5zM120.8 123.4h1.5v1.5h-1.5zM114.9 139.6h1.5v1.5h-1.5zM116.3 131.3h1.5v1.5h-1.5zM133.1 142.8h1.5v1.5h-1.5zM114.9 135.9h1.5v1.5h-1.5zM114.3 144.6h1.5v1.5h-1.5zM118.1 141.9h1.5v1.5h-1.5zM119.3 129.6h1.5v1.5h-1.5zM128.5 141.7h1.5v1.5h-1.5zM118.1 140.3h1.5v1.5h-1.5zM117.7 128.6h1.5v1.5h-1.5zM121.3 133.7h1.5v1.5h-1.5zM120.0 125.4h1.5v1.5h-1.5zM125.7 141.8h1.5v1.5h-1.5zM126.8 134.5h1.5v1.5h-1.5zM130.1 141.4h1.5v1.5h-1.5zM113.6 135.6h1.5v1.5h-1.5zM122.8 127.6h1.5v1.5h-1.5zM117.4 143.4h1.5v1.5h-1.5zM121.6 140.9h1.5v1.5h-1.5zM120.1 134.1h1.5v1.5h-1.5zM117.2 128.3h1.5v1.5h-1.5zM115.4 140.6h1.5v1.5h-1.5zM131.6 144.9h1.5v1.5h-1.5zM125.6 135.7h1.5v1.5h-1.5zM136.7 145.0h1.5v1.5h-1.5zM127.2 134.3h1.5v1.5h-1.5zM117.4 126.7h1.5v1.5h-1.5zM121.3 139.6h1.5v1.5h-1.5zM115.3 139.7h1.5v1.5h-1.5zM125.3 129.6h1.5v1.5h-1.5zM122.5 130.3h1.5v1.5h-1.5zM116.0 137.5h1.5v1.5h-1.5zM113.7 138.0h1.5v1.5h-1.5zM131.5 141.4h1.5v1.5h-1.5zM127.7 136.0h1.5v1.5h-1.5zM129.1 140.1h1.5v1.5h-1.5zM122.9 134.0h1.5v1.5h-1.5zM121.0 138.9h1.5v1.5h-1.5zM123.4 130.8h1.5v1.5h-1.5zM119.9 142.3h1.5v1.5h-1.5zM134.4 145.0h1.5v1.5h-1.5zM116.9 144.9h1.5v1.5h-1.5zM117.9 137.3h1.5v1.5h-1.5zM115.6 141.7h1.5v1.5h-1.5zM117.3 144.2h1.5v1.5h-1.5zM123.7 145.5h1.5v1.5h-1.5zM126.4 131.3h1.5v1.5h-1.5zM123.2 139.1h1.5v1.5h-1.5zM123.9 146.9h1.5v1.5h-1.5zM123.6 130.0h1.5v1.5h-1.5zM113.8 139.1h1.5v1.5h-1.5zM122.1 131.2h1.5v1.5h-1.5zM116.1 137.9h1.5v1.5h-1.5zM117.4 128.4h1.5v1.5h-1.5zM122.3 134.9h1.5v1.5h-1.5zM117.0 129.7h1.5v1.5h-1.5zM118.4 124.0h1.5v1.5h-1.5zM129.3 142.4h1.5v1.5h-1.5zM115.5 141.2h1.5v1.5h-1.5zM121.7 124.4h1.5v1.5h-1.5zM122.6 135.8h1.5v1.5h-1.5zM116.8 125.0h1.5v1.5h-1.5zM127.2 133.4h1.5v1.5h-1.5zM127.6 140.7h1.5v1.5h-1.5zM116.5 126.9h1.5v1.5h-1.5zM120.7 125.1h1.5v1.5h-1.5zM119.5 133.1h1.5v1.5h-1.5zM127.3 145.4h1.5v1.5h-1.5zM114.2 142.8h1.5v1.5h-1.5zM130.1 139.7h1.5v1.5h-1.5zM123.1 132.7h1.5v1.5h-1.5zM133.9 146.8h1.5v1.5h-1.5zM118.4 135.7h1.5v1.5h-1.5zM117.0 137.7h1.5v1.5h-1.5zM127.9 143.0h1.5v1.5h-1.5zM126.6 140.8h1.5v1.5h-1.5zM127.8 139.1h1.5v1.5h-1.5zM129.7 146.3h1.5v1.5h-1.5zM130.5 143.7h1.5v1.5h-1.5zM125.3 137.1h1.5v1.5h-1.5zM123.8 136.6h1.5v1.5h-1.5zM126.8 134.3h1.5v1.5h-1.5zM124.4 125.0h1.5v1.5h-1.5zM121.5 145.9h1.5v1.5h-1.5zM128.5 145.5h1.5v1.5h-1.5zM116.5 136.2h1.5v1.5h-1.5zM126.2 137.5h1.5v1.5h-1.5zM114.7 130.1h1.5v1.5h-1.5zM126.8 141.4h1.5v1.5h-1.5zM121.2 137.5h1.5v1.5h-1.5zM119.4 145.6h1.5v1.5h-1.5zM124.1 127.4h1.5v1.5h-1.5zM119.0 128.9h1.5v1.5h-1.5zM115.9 127.7h1.5v1.5h-1.5zM116.5 134.0h1.5v1.5h-1.5zM137.6 147.2h1.5v1.5h-1.5zM119.6 139.9h1.5v1.5h-1.5zM121.6 145.7h1.5v1.5h-1.5zM123.5 138.5h1.5v1.5h-1.5zM128.3 146.1h1.5v1.5h-1.5zM121.2 135.0h1.5v1.5h-1.5zM125.4 142.2h1.5v1.5h-1.5zM120.9 124.5h1.5v1.5h-1.5zM125.4 143.0h1.5v1.5h-1.5zM118.5 131.7h1.5v1.5h-1.5zM118.2 125.6h1.5v1.5h-1.5zM114.6 144.6h1.5v1.5h-1.5zM131.5 143.9h1.5v1.5h-1.5zM124.7 145.3h1.5v1.5h-1.5zM119.0 139.7h1.5v1.5h-1.5zM131.5 142.4h1.5v1.5h-1.5zM118.0 141.4h1.5v1.5h-1.5zM122.8 130.9h1.5v1.5h-1.5zM119.2 139.8h1.5v1.5h-1.5zM120.4 131.5h1.5v1.5h-1.5zM124.6 134.2h1.5v1.5h-1.5zM126.9 146.1h1.5v1.5h-1.5zM128.6 140.2h1.5v1.5h-1.5zM119.7 127.5h1.5v1.5h-1.5zM115.6 140.2h1.5v1.5h-1.5zM120.5 133.7h1.5v1.5h-1.5zM118.1 125.1h1.5v1.5h-1.5zM138.5 146.4h1.5v1.5h-1.5zM125.1 128.8h1.5v1.5h-1.5zM123.2 124.4h1.5v1.5h-1.5zM126.1 142.8h1.5v1.5h-1.5zM122.5 131.0h1.5v1.5h-1.5zM133.2 143.2h1.5v1.5h-1.5zM128.9 141.5h1.5v1.5h-1.5zM124.6 128.2h1.5v1.5h-1.5zM119.4 135.2h1.5v1.5h-1.5zM119.0 133.0h1.5v1.5h-1.5zM126.1 146.4h1.5v1.5h-1.5zM117.9 143.5h1.5v1.5h-1.5zM113.8 135.0h1.5v1.5h-1.5zM124.4 136.4h1.5v1.5h-1.5zM120.1 127.6h1.5v1.5h-1.5zM117.1 139.6h1.5v1.5h-1.5zM114.4 139.5h1.5v1.5h-1.5zM120.1 132.7h1.5v1.5h-1.5zM115.6 127.0h1.5v1.5h-1.5zM117.7 141.0h1.5v1.5h-1.5zM117.4 130.2h1.5v1.5h-1.5zM114.9 137.1h1.5v1.5h-1.5zM122.6 141.9h1.5v1.5h-1.5zM138.1 146.2h1.5v1.5h-1.5zM125.8 128.5h1.5v1.5h-1.5zM125.0 128.9h1.5v1.5h-1.5zM114.3 141.3h1.5v1.5h-1.5zM123.4 139.9h1.5v1.5h-1.5zM124.2 145.4h1.5v1.5h-1.5zM119.2 141.0h1.5v1.5h-1.5zM127.4 141.3h1.5v1.5h-1.5zM122.6 138.9h1.5v1.5h-1.5zM114.4 137.3h1.5v1.5h-1.5zM129.9 145.8h1.5v1.5h-1.5zM122.1 130.1h1.5v1.5h-1.5zM123.4 126.5h1.5v1.5h-1.5zM123.1 128.0h1.5v1.5h-1.5zM118.8 138.7h1.5v1.5h-1.5zM118.0 133.7h1.5v1.5h-1.5zM117.5 142.2h1.5v1.5h-1.5zM118.8 135.7h1.5v1.5h-1.5zM121.2 136.2h1.5v1.5h-1.5zM123.1 145.5h1.5v1.5h-1.5zM120.3 146.8h1.5v1.5h-1.5zM118.0 140.8h1.5v1.5h-1.5zM123.4 124.5h1.5v1.5h-1.5zM131.6 140.6h1.5v1.5h-1.5zM122.6 143.5h1.5v1.5h-1.5zM136.5 146.7h1.5v1.5h-1.5zM121.6 137.8h1.5v1.5h-1.5zM115.5 125.5h1.5v1.5h-1.5zM121.6 128.3h1.5v1.5h-1.5zM126.6 145.9h1.5v1.5h-1.5zM123.4 141.4h1.5v1.5h-1.5zM114.4 143.5h1.5v1.5h-1.5zM128.5 146.5h1.5v1.5h-1.5zM121.3 136.8h1.5v1.5h-1.5zM127.2 143.9h1.5v1.5h-1.5zM131.4 140.8h1.5v1.5h-1.5zM117.1 142.2h1.5v1.5h-1.5zM120.5 129.7h1.5v1.5h-1.5zM123.7 137.7h1.5v1.5h-1.5zM120.8 138.8h1.5v1.5h-1.5zM118.8 146.2h1.5v1.5h-1.5zM114.0 131.7h1.5v1.5h-1.5zM118.9 130.3h1.5v1.5h-1.5zM129.5 145.0h1.5v1.5h-1.5zM124.3 137.6h1.5v1.5h-1.5zM114.9 137.8h1.5v1.5h-1.5zM121.7 135.0h1.5v1.5h-1.5zM120.5 143.3h1.5v1.5h-1.5zM123.6 135.5h1.5v1.5h-1.5zM117.6 130.9h1.5v1.5h-1.5zM119.5 145.0h1.5v1.5h-1.5zM122.1 136.8h1.5v1.5h-1.5zM117.2 132.9h1.5v1.5h-1.5zM131.2 146.7h1.5v1.5h-1.5zM123.3 138.3h1.5v1.5h-1.5zM114.9 137.3h1.5v1.5h-1.5zM114.7 135.0h1.5v1.5h-1.5zM121.6 141.0h1.5v1.5h-1.5zM113.9 138.7h1.5v1.5h-1.5zM120.0 130.8h1.5v1.5h-1.5zM118.1 135.7h1.5v1.5h-1.5zM122.6 133.1h1.5v1.5h-1.5zM123.8 137.0h1.5v1.5h-1.5zM120.4 126.8h1.5v1.5h-1.5zM136.6 146.3h1.5v1.5h-1.5zM116.8 134.8h1.5v1.5h-1.5zM121.2 138.4h1.5v1.5h-1.5zM118.3 141.6h1.5v1.5h-1.5zM130.7 141.5h1.5v1.5h-1.5zM113.4 133.9h1.5v1.5h-1.5zM123.4 141.4h1.5v1.5h-1.5zM125.9 131.2h1.5v1.5h-1.5zM122.2 125.4h1.5v1.5h-1.5zM121.3 129.6h1.5v1.5h-1.5zM117.4 131.9h1.5v1.5h-1.5zM125.9 133.4h1.5v1.5h-1.5zM122.8 140.2h1.5v1.5h-1.5zM119.4 141.1h1.5v1.5h-1.5zM121.6 142.9h1.5v1.5h-1.5zM126.5 144.1h1.5v1.5h-1.5zM115.0 145.6h1.5v1.5h-1.5zM115.9 129.9h1.5v1.5h-1.5zM116.2 136.1h1.5v1.5h-1.5zM117.5 125.9h1.5v1.5h-1.5zM135.5 145.9h1.5v1.5h-1.5zM119.8 134.7h1.5v1.5h-1.5zM131.6 141.0h1.5v1.5h-1.5zM121.9 128.5h1.5v1.5h-1.5zM127.8 136.9h1.5v1.5h-1.5zM116.5 138.0h1.5v1.5h-1.5zM130.4 141.6h1.5v1.5h-1.5zM118.1 146.9h1.5v1.5h-1.5zM114.6 129.7h1.5v1.5h-1.5zM116.4 146.2h1.5v1.5h-1.5zM120.6 129.2h1.5v1.5h-1.5zM121.8 146.6h1.5v1.5h-1.5zM127.2 135.3h1.5v1.5h-1.5zM122.9 139.6h1.5v1.5h-1.5zM120.6 137.6h1.5v1.5h-1.5zM133.8 143.6h1.5v1.5h-1.5zM117.8 144.6h1.5v1.5h-1.5zM125.8 144.3h1.5v1.5h-1.5zM121.6 146.8h1.5v1.5h-1.5zM127.8 143.7h1.5v1.5h-1.5zM129.3 140.5h1.5v1.5h-1.5zM119.1 135.4h1.5v1.5h-1.5zM122.7 140.9h1.5v1.5h-1.5zM114.6 145.7h1.5v1.5h-1.5zM115.3 142.8h1.5v1.5h-1.5zM118.5 125.9h1.5v1.5h-1.5zM125.7 137.0h1.5v1.5h-1.5zM114.8 133.7h1.5v1.5h-1.5zM120.4 124.1h1.5v1.5h-1.5zM124.7 126.7h1.5v1.5h-1.5zM131.8 142.9h1.5v1.5h-1.5zM114.0 143.1h1.5v1.5h-1.5zM116.4 145.4h1.5v1.5h-1.5zM122.5 128.7h1.5v1.5h-1.5zM121.3 134.6h1.5v1.5h-1.5zM113.6 142.1h1.5v1.5h-1.5zM137.8 147.0h1.5v1.5h-1.5zM123.5 127.5h1.5v1.5h-1.5zM131.3 141.1h1.5v1.5h-1.5zM136.6 146.7h1.5v1.5h-1.5zM128.1 141.7h1.5v1.5h-1.5zM123.3 138.1h1.5v1.5h-1.5zM122.6 131.5h1.5v1.5h-1.5zM122.4 140.4h1.5v1.5h-1.5zM115.7 139.0h1.5v1.5h-1.5zM132.3 142.0h1.5v1.5h-1.5zM130.7 142.9h1.5v1.5h-1.5zM116.0 143.7h1.5v1.5h-1.5zM122.3 136.6h1.5v1.5h-1.5zM113.6 134.9h1.5v1.5h-1.5zM123.6 139.3h1.5v1.5h-1.5zM118.6 125.6h1.5v1.5h-1.5zM121.5 128.7h1.5v1.5h-1.5zM118.9 137.2h1.5v1.5h-1.5zM131.4 142.9h1.5v1.5h-1.5zM120.3 130.6h1.5v1.5h-1.5zM118.0 138.4h1.5v1.5h-1.5zM129.8 142.0h1.5v1.5h-1.5zM126.2 133.3h1.5v1.5h-1.5zM116.3 126.6h1.5v1.5h-1.5zM123.2 141.6h1.5v1.5h-1.5zM126.5 146.5h1.5v1.5h-1.5zM123.6 125.9h1.5v1.5h-1.5zM125.9 141.5h1.5v1.5h-1.5zM119.7 127.4h1.5v1.5h-1.5zM124.9 134.0h1.5v1.5h-1.5zM120.5 131.4h1.5v1.5h-1.5zM115.2 133.6h1.5v1.5h-1.5zM119.5 127.5h1.5v1.5h-1.5zM133.7 143.5h1.5v1.5h-1.5zM122.7 144.8h1.5v1.5h-1.5zM114.3 138.7h1.5v1.5h-1.5zM116.3 142.8h1.5v1.5h-1.5zM123.3 126.3h1.5v1.5h-1.5zM118.6 131.7h1.5v1.5h-1.5zM118.4 130.8h1.5v1.5h-1.5zM124.3 146.9h1.5v1.5h-1.5zM122.0 139.5h1.5v1.5h-1.5zM129.4 140.4h1.5v1.5h-1.5zM118.0 144.1h1.5v1.5h-1.5zM116.6 144.4h1.5v1.5h-1.5zM122.5 142.4h1.5v1.5h-1.5zM121.3 137.2h1.5v1.5h-1.5zM117.1 131.7h1.5v1.5h-1.5zM124.2 127.0h1.5v1.5h-1.5zM123.8 136.0h1.5v1.5h-1.5zM122.2 129.9h1.5v1.5h-1.5zM119.3 133.0h1.5v1.5h-1.5zM120.6 125.7h1.5v1.5h-1.5zM120.7 126.2h1.5v1.5h-1.5zM124.8 145.7h1.5v1.5h-1.5zM124.0 140.3h1.5v1.5h-1.5zM120.8 130.1h1.5v1.5h-1.5zM130.5 141.2h1.5v1.5h-1.5zM123.8 144.0h1.5v1.5h-1.5zM124.1 138.8h1.5v1.5h-1.5zM115.9 125.2h1.5v1.5h-1.5zM115.6 138.3h1.5v1.5h-1.5zM122.9 129.4h1.5v1.5h-1.5zM113.9 131.7h1.5v1.5h-1.5zM125.3 138.3h1.5v1.5h-1.5zM125.2 139.5h1.5v1.5h-1.5zM115.0 135.9h1.5v1.5h-1.5zM123.6 131.1h1.5v1.5h-1.5zM118.7 138.1h1.5v1.5h-1.5zM117.0 137.5h1.5v1.5h-1.5zM132.3 145.2h1.5v1.5h-1.5zM117.6 131.3h1.5v1.5h-1.5zM119.8 127.3h1.5v1.5h-1.5zM116.4 135.7h1.5v1.5h-1.5zM114.0 138.6h1.5v1.5h-1.5zM127.0 134.1h1.5v1.5h-1.5zM116.2 127.8h1.5v1.5h-1.5zM121.0 134.7h1.5v1.5h-1.5zM116.5 133.3h1.5v1.5h-1.5zM116.7 145.1h1.5v1.5h-1.5zM126.4 140.0h1.5v1.5h-1.5zM123.9 145.9h1.5v1.5h-1.5zM118.9 136.1h1.5v1.5h-1.5zM127.6 135.9h1.5v1.5h-1.5zM135.1 144.7h1.5v1.5h-1.5zM135.0 143.4h1.5v1.5h-1.5zM123.7 132.2h1.5v1.5h-1.5zM123.9 147.0h1.5v1.5h-1.5zM117.3 127.1h1.5v1.5h-1.5zM117.3 134.2h1.5v1.5h-1.5zM114.1 144.5h1.5v1.5h-1.5zM121.0 123.4h1.5v1.5h-1.5zM114.5 137.0h1.5v1.5h-1.5zM115.3 140.8h1.5v1.5h-1.5zM116.2 124.6h1.5v1.5h-1.5zM121.7 135.2h1.5v1.5h-1.5zM123.4 139.9h1.5v1.5h-1.5zM122.7 136.7h1.5v1.5h-1.5zM125.5 138.4h1.5v1.5h-1.5zM124.3 136.1h1.5v1.5h-1.5zM114.6 126.7h1.5v1.5h-1.5zM114.9 134.2h1.5v1.5h-1.5zM127.3 137.4h1.5v1.5h-1.5zM119.0 144.8h1.5v1.5h-1.5zM122.8 139.5h1.5v1.5h-1.5zM125.7 141.6h1.5v1.5h-1.5zM113.6 137.2h1.5v1.5h-1.5zM138.0 147.1h1.5v1.5h-1.5zM122.7 132.5h1.5v1.5h-1.5zM122.8 139.8h1.5v1.5h-1.5zM121.4 135.0h1.5v1.5h-1.5zM114.7 145.0h1.5v1.5h-1.5zM119.8 140.6h1.5v1.5h-1.5zM120.6 130.5h1.5v1.5h-1.5zM121.4 127.1h1.5v1.5h-1.5zM114.8 128.4h1.5v1.5h-1.5zM114.6 131.9h1.5v1.5h-1.5zM129.6 146.7h1.5v1.5h-1.5zM128.1 147.1h1.5v1.5h-1.5zM136.7 145.4h1.5v1.5h-1.5zM124.8 136.5h1.5v1.5h-1.5zM116.4 139.4h1.5v1.5h-1.5zM132.1 145.5h1.5v1.5h-1.5zM116.3 126.7h1.5v1.5h-1.5zM116.2 144.3h1.5v1.5h-1.5zM121.3 123.7h1.5v1.5h-1.5zM118.7 137.0h1.5v1.5h-1.5zM116.5 125.7h1.5v1.5h-1.5zM125.4 146.5h1.5v1.5h-1.5zM124.4 137.9h1.5v1.5h-1.5zM125.9 130.3h1.5v1.5h-1.5zM123.2 128.1h1.5v1.5h-1.5zM116.0 129.0h1.5v1.5h-1.5zM117.6 132.8h1.5v1.5h-1.5zM118.5 138.7h1.5v1.5h-1.5zM117.5 138.6h1.5v1.5h-1.5zM123.3 133.1h1.5v1.5h-1.5zM131.1 141.5h1.5v1.5h-1.5zM120.0 129.3h1.5v1.5h-1.5zM128.0 140.9h1.5v1.5h-1.5zM115.0 126.9h1.5v1.5h-1.5zM123.0 129.6h1.5v1.5h-1.5zM124.4 132.0h1.5v1.5h-1.5zM125.8 141.6h1.5v1.5h-1.5zM132.6 144.7h1.5v1.5h-1.5zM121.2 126.4h1.5v1.5h-1.5zM114.2 130.0h1.5v1.5h-1.5zM121.8 143.5h1.5v1.5h-1.5zM133.9 144.8h1.5v1.5h-1.5zM118.4 134.1h1.5v1.5h-1.5zM128.9 144.3h1.5v1.5h-1.5zM120.8 126.1h1.5v1.5h-1.5zM119.7 146.7h1.5v1.5h-1.5zM127.1 141.0h1.5v1.5h-1.5zM120.8 141.0h1.5v1.5h-1.5zM116.7 135.3h1.5v1.5h-1.5zM120.3 140.2h1.5v1.5h-1.5zM120.4 134.7h1.5v1.5h-1.5zM122.6 127.9h1.5v1.5h-1.5zM119.3 136.1h1.5v1.5h-1.5zM122.8 129.3h1.5v1.5h-1.5zM127.8 138.7h1.5v1.5h-1.5zM119.3 123.8h1.5v1.5h-1.5zM130.1 145.5h1.5v1.5h-1.5zM136.4 144.7h1.5v1.5h-1.5zM127.8 144.3h1.5v1.5h-1.5zM135.6 145.7h1.5v1.5h-1.5zM130.3 145.6h1.5v1.5h-1.5zM114.1 133.2h1.5v1.5h-1.5zM126.6 145.3h1.5v1.5h-1.5zM126.8 142.7h1.5v1.5h-1.5zM126.8 138.5h1.5v1.5h-1.5zM126.1 142.4h1.5v1.5h-1.5zM125.7 145.3h1.5v1.5h-1.5zM125.8 133.5h1.5v1.5h-1.5zM116.8 139.9h1.5v1.5h-1.5zM121.9 130.0h1.5v1.5h-1.5zM113.9 135.2h1.5v1.5h-1.5zM137.2 145.1h1.5v1.5h-1.5zM114.2 144.5h1.5v1.5h-1.5zM114.0 146.5h1.5v1.5h-1.5zM126.6 133.0h1.5v1.5h-1.5zM113.4 145.6h1.5v1.5h-1.5zM121.9 138.7h1.5v1.5h-1.5zM113.7 128.3h1.5v1.5h-1.5zM120.0 132.8h1.5v1.5h-1.5zM126.8 139.0h1.5v1.5h-1.5zM119.3 125.5h1.5v1.5h-1.5zM117.8 143.6h1.5v1.5h-1.5zM119.8 135.4h1.5v1.5h-1.5zM119.4 131.1h1.5v1.5h-1.5zM120.0 134.4h1.5v1.5h-1.5zM119.8 125.6h1.5v1.5h-1.5zM118.1 141.5h1.5v1.5h-1.5zM121.0 139.1h1.5v1.5h-1.5zM115.3 128.4h1.5v1.5h-1.5zM119.6 141.9h1.5v1.5h-1.5zM122.8 138.5h1.5v1.5h-1.5zM123.2 143.9h1.5v1.5h-1.5zM122.0 127.8h1.5v1.5h-1.5zM123.0 140.2h1.5v1.5h-1.5zM125.5 127.1h1.5v1.5h-1.5zM113.7 135.0h1.5v1.5h-1.5zM123.0 145.6h1.5v1.5h-1.5zM118.6 125.6h1.5v1.5h-1.5zM122.1 124.3h1.5v1.5h-1.5zM117.0 129.6h1.5v1.5h-1.5zM116.8 130.5h1.5v1.5h-1.5zM122.8 144.3h1.5v1.5h-1.5zM120.3 124.1h1.5v1.5h-1.5zM115.2 142.7h1.5v1.5h-1.5zM122.2 146.0h1.5v1.5h-1.5zM121.2 142.7h1.5v1.5h-1.5zM116.5 134.3h1.5v1.5h-1.5zM127.1 133.3h1.5v1.5h-1.5zM137.5 145.2h1.5v1.5h-1.5zM119.0 145.4h1.5v1.5h-1.5zM121.2 128.5h1.5v1.5h-1.5zM117.4 139.1h1.5v1.5h-1.5zM127.8 140.0h1.5v1.5h-1.5zM125.1 132.4h1.5v1.5h-1.5zM118.2 124.0h1.5v1.5h-1.5zM138.3 146.6h1.5v1.5h-1.5zM114.7 143.2h1.5v1.5h-1.5zM117.8 129.1h1.5v1.5h-1.5zM118.7 146.8h1.5v1.5h-1.5zM118.9 127.6h1.5v1.5h-1.5zM126.1 131.2h1.5v1.5h-1.5zM125.2 142.8h1.5v1.5h-1.5zM113.7 139.8h1.5v1.5h-1.5zM114.4 140.8h1.5v1.5h-1.5zM129.1 138.1h1.5v1.5h-1.5zM125.4 131.9h1.5v1.5h-1.5zM121.4 138.5h1.5v1.5h-1.5zM124.0 133.9h1.5v1.5h-1.5zM125.1 139.1h1.5v1.5h-1.5zM120.7 143.0h1.5v1.5h-1.5zM131.8 141.5h1.5v1.5h-1.5zM128.2 143.4h1.5v1.5h-1.5zM115.8 130.3h1.5v1.5h-1.5zM122.2 133.5h1.5v1.5h-1.5zM126.5 137.9h1.5v1.5h-1.5zM113.4 135.0h1.5v1.5h-1.5zM120.2 133.1h1.5v1.5h-1.5zM115.6 135.0h1.5v1.5h-1.5zM125.6 131.4h1.5v1.5h-1.5zM124.6 145.2h1.5v1.5h-1.5zM119.8 125.0h1.5v1.5h-1.5zM126.2 136.7h1.5v1.5h-1.5zM125.8 135.4h1.5v1.5h-1.5zM120.8 126.5h1.5v1.5h-1.5zM126.2 138.8h1.5v1.5h-1.5zM118.4 141.9h1.5v1.5h-1.5zM133.8 142.9h1.5v1.5h-1.5zM119.6 124.6h1.5v1.5h-1.5zM113.9 134.6h1.5v1.5h-1.5zM122.1 127.7h1.5v1.5h-1.5zM115.0 130.8h1.5v1.5h-1.5zM118.1 130.1h1.5v1.5h-1.5zM129.2 144.2h1.5v1.5h-1.5zM131.9 145.8h1.5v1.5h-1.5zM123.2 138.5h1.5v1.5h-1.5zM113.9 143.3h1.5v1.5h-1.5zM121.4 140.5h1.5v1.5h-1.5zM118.1 131.3h1.5v1.5h-1.5zM121.8 124.4h1.5v1.5h-1.5zM121.8 140.4h1.5v1.5h-1.5zM126.7 135.2h1.5v1.5h-1.5zM127.0 135.6h1.5v1.5h-1.5zM118.4 132.9h1.5v1.5h-1.5zM119.5 139.2h1.5v1.5h-1.5zM115.1 146.0h1.5v1.5h-1.5zM122.4 134.3h1.5v1.5h-1.5zM123.9 137.2h1.5v1.5h-1.5zM119.3 135.6h1.5v1.5h-1.5zM124.4 130.4h1.5v1.5h-1.5zM126.8 142.6h1.5v1.5h-1.5zM132.9 145.8h1.5v1.5h-1.5zM117.2 133.7h1.5v1.5h-1.5zM120.3 129.5h1.5v1.5h-1.5zM124.4 144.6h1.5v1.5h-1.5zM136.0 145.9h1.5v1.5h-1.5zM115.2 140.6h1.5v1.5h-1.5zM116.6 136.8h1.5v1.5h-1.5zM123.6 131.2h1.5v1.5h-1.5zM114.5 129.7h1.5v1.5h-1.5zM116.6 145.9h1.5v1.5h-1.5zM125.4 146.8h1.5v1.5h-1.5zM115.2 137.6h1.5v1.5h-1.5zM125.3 144.6h1.5v1.5h-1.5zM125.8 132.8h1.5v1.5h-1.5zM116.4 139.8h1.5v1.5h-1.5zM119.0 125.9h1.5v1.5h-1.5zM126.3 137.1h1.5v1.5h-1.5zM123.5 125.4h1.5v1.5h-1.5zM119.9 127.8h1.5v1.5h-1.5zM122.7 136.5h1.5v1.5h-1.5zM124.9 139.5h1.5v1.5h-1.5zM121.1 128.2h1.5v1.5h-1.5zM125.0 135.6h1.5v1.5h-1.5zM122.9 125.1h1.5v1.5h-1.5zM123.6 130.7h1.5v1.5h-1.5zM124.4 131.2h1.5v1.5h-1.5zM119.1 128.3h1.5v1.5h-1.5zM122.1 129.7h1.5v1.5h-1.5zM113.8 137.0h1.5v1.5h-1.5zM129.0 141.8h1.5v1.5h-1.5zM118.4 124.8h1.5v1.5h-1.5zM114.9 132.9h1.5v1.5h-1.5zM123.3 132.7h1.5v1.5h-1.5zM119.8 129.9h1.5v1.5h-1.5zM120.3 133.3h1.5v1.5h-1.5zM126.8 135.0h1.5v1.5h-1.5zM117.6 131.8h1.5v1.5h-1.5zM120.7 127.4h1.5v1.5h-1.5zM124.1 143.7h1.5v1.5h-1.5zM122.3 128.6h1.5v1.5h-1.5zM115.3 139.8h1.5v1.5h-1.5zM120.3 138.4h1.5v1.5h-1.5zM127.1 146.7h1.5v1.5h-1.5zM122.9 131.1h1.5v1.5h-1.5zM117.1 139.6h1.5v1.5h-1.5zM119.7 142.9h1.5v1.5h-1.5zM116.3 145.1h1.5v1.5h-1.5zM120.1 135.2h1.5v1.5h-1.5zM131.1 146.6h1.5v1.5h-1.5zM118.7 129.9h1.5v1.5h-1.5zM125.4 139.5h1.5v1.5h-1.5zM124.6 127.2h1.5v1.5h-1.5zM119.0 132.0h1.5v1.5h-1.5zM117.2 123.5h1.5v1.5h-1.5zM122.0 136.4h1.5v1.5h-1.5zM124.3 126.9h1.5v1.5h-1.5zM117.7 138.5h1.5v1.5h-1.5zM131.4 141.9h1.5v1.5h-1.5zM119.1 138.3h1.5v1.5h-1.5zM119.2 129.5h1.5v1.5h-1.5zM114.5 130.1h1.5v1.5h-1.5zM114.9 126.5h1.5v1.5h-1.5zM127.2 132.9h1.5v1.5h-1.5zM115.8 146.2h1.5v1.5h-1.5zM114.9 144.7h1.5v1.5h-1.5zM113.9 130.1h1.5v1.5h-1.5zM117.8 140.5h1.5v1.5h-1.5zM121.6 135.7h1.5v1.5h-1.5zM120.7 133.4h1.5v1.5h-1.5zM122.4 138.4h1.5v1.5h-1.5zM119.7 140.1h1.5v1.5h-1.5zM120.0 146.9h1.5v1.5h-1.5zM121.3 132.7h1.5v1.5h-1.5zM120.2 144.5h1.5v1.5h-1.5zM126.4 139.6h1.5v1.5h-1.5zM123.9 137.6h1.5v1.5h-1.5zM126.2 135.7h1.5v1.5h-1.5zM126.8 134.1h1.5v1.5h-1.5zM119.1 146.7h1.5v1.5h-1.5zM121.0 146.5h1.5v1.5h-1.5zM120.6 142.5h1.5v1.5h-1.5zM123.5 133.6h1.5v1.5h-1.5zM115.2 141.2h1.5v1.5h-1.5zM126.5 139.6h1.5v1.5h-1.5zM138.7 146.9h1.5v1.5h-1.5zM117.1 137.7h1.5v1.5h-1.5zM129.7 144.5h1.5v1.5h-1.5zM124.5 128.5h1.5v1.5h-1.5zM117.8 135.8h1.5v1.5h-1.5zM118.9 136.2h1.5v1.5h-1.5zM127.2 139.0h1.5v1.5h-1.5zM113.8 141.8h1.5v1.5h-1.5zM130.1 142.0h1.5v1.5h-1.5zM115.2 128.5h1.5v1.5h-1.5zM121.9 123.6h1.5v1.5h-1.5zM127.6 144.8h1.5v1.5h-1.5zM129.6 140.8h1.5v1.5h-1.5zM132.7 145.8h1.5v1.5h-1.5zM114.2 127.6h1.5v1.5h-1.5zM116.9 142.3h1.5v1.5h-1.5zM114.1 143.2h1.5v1.5h-1.5zM121.5 140.9h1.5v1.5h-1.5zM137.2 146.2h1.5v1.5h-1.5zM127.7 137.8h1.5v1.5h-1.5zM131.6 142.7h1.5v1.5h-1.5zM119.5 140.4h1.5v1.5h-1.5zM115.0 142.7h1.5v1.5h-1.5zM119.4 140.1h1.5v1.5h-1.5zM114.8 135.1h1.5v1.5h-1.5zM123.1 134.2h1.5v1.5h-1.5zM114.6 146.6h1.5v1.5h-1.5zM121.8 143.6h1.5v1.5h-1.5zM117.9 134.9h1.5v1.5h-1.5zM127.8 141.4h1.5v1.5h-1.5zM118.2 129.4h1.5v1.5h-1.5zM115.3 125.9h1.5v1.5h-1.5zM114.2 142.6h1.5v1.5h-1.5zM125.3 126.5h1.5v1.5h-1.5zM114.7 126.9h1.5v1.5h-1.5zM117.1 143.3h1.5v1.5h-1.5zM114.3 146.6h1.5v1.5h-1.5zM115.5 146.1h1.5v1.5h-1.5zM136.7 146.3h1.5v1.5h-1.5zM116.2 140.2h1.5v1.5h-1.5zM118.2 144.5h1.5v1.5h-1.5zM118.5 131.5h1.5v1.5h-1.5zM117.6 143.1h1.5v1.5h-1.5zM127.0 138.0h1.5v1.5h-1.5zM117.2 133.3h1.5v1.5h-1.5zM126.3 137.7h1.5v1.5h-1.5zM125.4 146.3h1.5v1.5h-1.5zM129.0 142.5h1.5v1.5h-1.5zM121.9 147.0h1.5v1.5h-1.5zM123.3 133.9h1.5v1.5h-1.5zM123.1 129.8h1.5v1.5h-1.5zM122.8 129.8h1.5v1.5h-1.5zM136.5 146.2h1.5v1.5h-1.5zM120.6 140.0h1.5v1.5h-1.5zM118.1 137.6h1.5v1.5h-1.5zM122.6 132.3h1.5v1.5h-1.5zM117.0 137.3h1.5v1.5h-1.5zM127.7 144.0h1.5v1.5h-1.5zM133.3 145.7h1.5v1.5h-1.5zM129.4 140.4h1.5v1.5h-1.5zM121.6 132.3h1.5v1.5h-1.5zM118.2 136.2h1.5v1.5h-1.5zM120.0 138.2h1.5v1.5h-1.5zM131.0 142.6h1.5v1.5h-1.5zM127.5 138.9h1.5v1.5h-1.5zM113.4 147.2h1.5v1.5h-1.5zM113.4 139.2h1.5v1.5h-1.5zM129.6 145.6h1.5v1.5h-1.5zM131.6 141.5h1.5v1.5h-1.5zM125.6 129.4h1.5v1.5h-1.5zM124.1 139.4h1.5v1.5h-1.5zM123.5 139.5h1.5v1.5h-1.5zM130.8 143.5h1.5v1.5h-1.5zM118.5 132.1h1.5v1.5h-1.5zM117.5 146.4h1.5v1.5h-1.5zM123.9 142.7h1.5v1.5h-1.5zM114.8 144.8h1.5v1.5h-1.5zM114.3 135.9h1.5v1.5h-1.5zM122.8 144.5h1.5v1.5h-1.5zM129.7 146.6h1.5v1.5h-1.5zM119.2 146.5h1.5v1.5h-1.5zM117.5 145.7h1.5v1.5h-1.5zM126.9 144.1h1.5v1.5h-1.5zM122.1 144.3h1.5v1.5h-1.5zM120.7 128.2h1.5v1.5h-1.5zM113.6 135.5h1.5v1.5h-1.5zM120.1 132.4h1.5v1.5h-1.5zM126.3 134.7h1.5v1.5h-1.5zM114.8 144.0h1.5v1.5h-1.5zM120.7 136.0h1.5v1.5h-1.5zM123.4 124.6h1.5v1.5h-1.5zM125.7 137.4h1.5v1.5h-1.5zM125.6 138.4h1.5v1.5h-1.5zM123.5 145.3h1.5v1.5h-1.5zM130.6 143.5h1.5v1.5h-1.5zM117.1 136.8h1.5v1.5h-1.5zM124.7 140.0h1.5v1.5h-1.5zM122.7 125.4h1.5v1.5h-1.5zM118.8 147.0h1.5v1.5h-1.5zM116.7 143.9h1.5v1.5h-1.5zM115.0 130.6h1.5v1.5h-1.5zM118.8 136.3h1.5v1.5h-1.5zM128.8 146.0h1.5v1.5h-1.5zM117.0 128.0h1.5v1.5h-1.5zM116.1 146.3h1.5v1.5h-1.5zM118.6 146.1h1.5v1.5h-1.5zM121.0 124.7h1.5v1.5h-1.5zM118.7 131.4h1.5v1.5h-1.5zM121.5 129.4h1.5v1.5h-1.5zM114.4 134.8h1.5v1.5h-1.5zM116.9 133.8h1.5v1.5h-1.5zM119.7 133.7h1.5v1.5h-1.5zM121.4 143.1h1.5v1.5h-1.5zM121.9 136.9h1.5v1.5h-1.5zM125.2 144.3h1.5v1.5h-1.5zM115.8 143.1h1.5v1.5h-1.5zM122.8 142.9h1.5v1.5h-1.5zM116.6 129.9h1.5v1.5h-1.5zM123.7 131.3h1.5v1.5h-1.5zM122.9 137.1h1.5v1.5h-1.5zM122.7 131.3h1.5v1.5h-1.5zM122.3 138.6h1.5v1.5h-1.5zM123.2 131.4h1.5v1.5h-1.5zM119.8 139.5h1.5v1.5h-1.5zM115.9 127.6h1.5v1.5h-1.5zM123.0 144.4h1.5v1.5h-1.5zM117.0 131.5h1.5v1.5h-1.5zM136.1 145.2h1.5v1.5h-1.5zM119.8 128.5h1.5v1.5h-1.5zM119.1 125.6h1.5v1.5h-1.5zM122.3 135.6h1.5v1.5h-1.5zM118.5 140.1h1.5v1.5h-1.5zM124.2 140.4h1.5v1.5h-1.5zM131.9 146.5h1.5v1.5h-1.5zM121.7 142.5h1.5v1.5h-1.5zM116.4 145.3h1.5v1.5h-1.5zM113.7 136.1h1.5v1.5h-1.5zM128.6 139.4h1.5v1.5h-1.5zM114.2 136.9h1.5v1.5h-1.5zM122.5 124.5h1.5v1.5h-1.5zM116.6 127.3h1.5v1.5h-1.5zM115.6 133.5h1.5v1.5h-1.5zM115.8 145.0h1.5v1.5h-1.5zM123.8 143.4h1.5v1.5h-1.5zM125.4 128.1h1.5v1.5h-1.5zM130.4 143.4h1.5v1.5h-1.5zM126.9 137.1h1.5v1.5h-1.5zM115.7 143.7h1.5v1.5h-1.5zM114.5 143.3h1.5v1.5h-1.5zM124.5 135.8h1.5v1.5h-1.5zM127.7 140.4h1.5v1.5h-1.5zM113.4 133.8h1.5v1.5h-1.5zM115.7 125.5h1.5v1.5h-1.5zM115.1 140.7h1.5v1.5h-1.5zM126.6 142.2h1.5v1.5h-1.5zM125.1 140.9h1.5v1.5h-1.5zM130.6 144.6h1.5v1.5h-1.5zM116.9 142.4h1.5v1.5h-1.5zM126.9 132.9h1.5v1.5h-1.5zM117.4 126.9h1.5v1.5h-1.5zM116.4 143.2h1.5v1.5h-1.5zM119.2 125.1h1.5v1.5h-1.5zM116.6 138.6h1.5v1.5h-1.5zM119.5 131.3h1.5v1.5h-1.5zM124.5 136.0h1.5v1.5h-1.5zM125.3 138.1h1.5v1.5h-1.5zM125.0 130.4h1.5v1.5h-1.5zM127.8 143.7h1.5v1.5h-1.5zM114.5 137.7h1.5v1.5h-1.5zM122.5 146.4h1.5v1.5h-1.5zM115.4 136.8h1.5v1.5h-1.5zM114.1 139.4h1.5v1.5h-1.5zM122.8 139.6h1.5v1.5h-1.5zM116.8 132.7h1.5v1.5h-1.5zM117.8 144.7h1.5v1.5h-1.5zM113.7 128.4h1.5v1.5h-1.5zM119.2 129.4h1.5v1.5h-1.5zM133.5 145.2h1.5v1.5h-1.5zM118.2 139.5h1.5v1.5h-1.5zM121.1 136.1h1.5v1.5h-1.5zM122.4 135.6h1.5v1.5h-1.5zM133.9 144.3h1.5v1.5h-1.5zM121.1 136.4h1.5v1.5h-1.5zM118.5 125.1h1.5v1.5h-1.5zM114.6 140.2h1.5v1.5h-1.5zM120.8 136.9h1.5v1.5h-1.5zM134.3 145.5h1.5v1.5h-1.5zM119.6 129.2h1.5v1.5h-1.5zM122.0 141.6h1.5v1.5h-1.5zM114.9 146.0h1.5v1.5h-1.5zM123.9 133.8h1.5v1.5h-1.5zM123.5 133.3h1.5v1.5h-1.5zM120.8 146.8h1.5v1.5h-1.5zM125.9 137.9h1.5v1.5h-1.5zM120.2 146.0h1.5v1.5h-1.5zM120.9 139.9h1.5v1.5h-1.5zM116.3 146.5h1.5v1.5h-1.5zM125.6 146.8h1.5v1.5h-1.5zM124.7 134.3h1.5v1.5h-1.5zM114.0 144.8h1.5v1.5h-1.5zM125.9 138.8h1.5v1.5h-1.5zM127.0 133.0h1.5v1.5h-1.5zM135.2 146.0h1.5v1.5h-1.5zM114.6 135.5h1.5v1.5h-1.5zM117.5 133.4h1.5v1.5h-1.5zM117.0 128.7h1.5v1.5h-1.5zM125.8 129.1h1.5v1.5h-1.5zM121.2 125.5h1.5v1.5h-1.5zM113.5 141.7h1.5v1.5h-1.5zM115.4 129.8h1.5v1.5h-1.5zM132.0 145.8h1.5v1.5h-1.5zM114.2 135.4h1.5v1.5h-1.5zM122.0 144.7h1.5v1.5h-1.5zM116.5 136.3h1.5v1.5h-1.5zM120.3 130.7h1.5v1.5h-1.5zM116.1 139.0h1.5v1.5h-1.5zM123.8 135.6h1.5v1.5h-1.5zM124.4 132.6h1.5v1.5h-1.5zM119.2 141.2h1.5v1.5h-1.5zM125.1 131.4h1.5v1.5h-1.5zM128.8 138.6h1.5v1.5h-1.5zM113.8 145.0h1.5v1.5h-1.5zM118.7 129.2h1.5v1.5h-1.5zM134.8 146.2h1.5v1.5h-1.5zM119.4 141.3h1.5v1.5h-1.5zM120.1 144.7h1.5v1.5h-1.5zM126.3 140.6h1.5v1.5h-1.5zM121.6 131.5h1.5v1.5h-1.5zM118.7 141.7h1.5v1.5h-1.5zM127.8 145.4h1.5v1.5h-1.5zM134.7 146.2h1.5v1.5h-1.5zM114.9 129.2h1.5v1.5h-1.5zM129.7 145.6h1.5v1.5h-1.5zM118.6 136.1h1.5v1.5h-1.5zM116.1 147.2h1.5v1.5h-1.5zM123.5 141.2h1.5v1.5h-1.5zM119.1 141.8h1.5v1.5h-1.5zM124.0 130.1h1.5v1.5h-1.5zM129.0 138.5h1.5v1.5h-1.5zM122.0 145.5h1.5v1.5h-1.5zM130.3 145.9h1.5v1.5h-1.5zM125.1 146.9h1.5v1.5h-1.5zM122.6 147.1h1.5v1.5h-1.5zM113.6 139.2h1.5v1.5h-1.5zM123.4 140.5h1.5v1.5h-1.5zM131.0 144.9h1.5v1.5h-1.5zM121.1 137.5h1.5v1.5h-1.5zM116.5 132.5h1.5v1.5h-1.5zM124.1 127.5h1.5v1.5h-1.5zM118.3 134.2h1.5v1.5h-1.5zM119.1 146.9h1.5v1.5h-1.5zM121.0 125.2h1.5v1.5h-1.5zM120.8 135.2h1.5v1.5h-1.5zM126.7 140.7h1.5v1.5h-1.5zM127.0 145.6h1.5v1.5h-1.5zM122.3 140.2h1.5v1.5h-1.5zM114.8 144.0h1.5v1.5h-1.5zM117.4 133.3h1.5v1.5h-1.5zM126.4 140.6h1.5v1.5h-1.5zM115.1 130.8h1.5v1.5h-1.5zM120.0 141.9h1.5v1.5h-1.5zM121.1 132.3h1.5v1.5h-1.5zM121.5 130.9h1.5v1.5h-1.5zM119.8 126.9h1.5v1.5h-1.5zM115.6 132.9h1.5v1.5h-1.5zM115.3 144.8h1.5v1.5h-1.5zM124.7 146.6h1.5v1.5h-1.5zM131.2 146.3h1.5v1.5h-1.5zM130.6 144.4h1.5v1.5h-1.5zM121.7 128.2h1.5v1.5h-1.5zM128.1 137.1h1.5v1.5h-1.5zM126.8 140.5h1.5v1.5h-1.5zM120.7 125.3h1.5v1.5h-1.5zM122.3 128.2h1.5v1.5h-1.5zM122.7 142.6h1.5v1.5h-1.5zM128.4 145.7h1.5v1.5h-1.5zM117.5 146.0h1.5v1.5h-1.5zM119.3 141.8h1.5v1.5h-1.5zM117.1 146.5h1.5v1.5h-1.5zM125.9 136.9h1.5v1.5h-1.5zM121.3 126.9h1.5v1.5h-1.5zM126.9 144.7h1.5v1.5h-1.5zM114.1 132.2h1.5v1.5h-1.5zM135.7 146.0h1.5v1.5h-1.5zM131.3 141.5h1.5v1.5h-1.5zM131.9 141.2h1.5v1.5h-1.5zM117.3 123.4h1.5v1.5h-1.5zM127.1 146.0h1.5v1.5h-1.5zM122.8 124.8h1.5v1.5h-1.5zM115.1 140.0h1.5v1.5h-1.5zM122.4 145.2h1.5v1.5h-1.5zM122.4 142.2h1.5v1.5h-1.5zM124.4 132.1h1.5v1.5h-1.5zM130.1 144.9h1.5v1.5h-1.5zM127.0 145.9h1.5v1.5h-1.5zM124.6 127.3h1.5v1.5h-1.5zM120.0 127.0h1.5v1.5h-1.5zM119.6 137.6h1.5v1.5h-1.5zM133.6 147.2h1.5v1.5h-1.5zM127.5 134.0h1.5v1.5h-1.5zM131.1 141.7h1.5v1.5h-1.5zM118.4 135.4h1.5v1.5h-1.5zM120.5 133.6h1.5v1.5h-1.5zM115.6 130.2h1.5v1.5h-1.5zM124.0 146.0h1.5v1.5h-1.5zM116.4 124.2h1.5v1.5h-1.5zM117.7 129.4h1.5v1.5h-1.5zM113.4 144.1h1.5v1.5h-1.5zM115.5 127.5h1.5v1.5h-1.5zM116.3 131.4h1.5v1.5h-1.5zM116.8 144.0h1.5v1.5h-1.5zM116.8 139.8h1.5v1.5h-1.5zM117.0 135.1h1.5v1.5h-1.5zM122.2 145.9h1.5v1.5h-1.5zM124.3 125.9h1.5v1.5h-1.5zM120.3 132.1h1.5v1.5h-1.5zM115.0 130.6h1.5v1.5h-1.5zM117.1 133.2h1.5v1.5h-1.5zM115.0 135.9h1.5v1.5h-1.5zM115.4 137.0h1.5v1.5h-1.5zM124.6 145.9h1.5v1.5h-1.5zM123.8 143.7h1.5v1.5h-1.5zM125.0 145.7h1.5v1.5h-1.5zM116.4 145.3h1.5v1.5h-1.5zM124.2 143.9h1.5v1.5h-1.5zM117.4 140.4h1.5v1.5h-1.5zM114.6 142.3h1.5v1.5h-1.5zM124.4 126.4h1.5v1.5h-1.5zM120.0 146.1h1.5v1.5h-1.5zM127.6 137.2h1.5v1.5h-1.5zM118.6 146.9h1.5v1.5h-1.5zM114.1 127.4h1.5v1.5h-1.5zM113.7 133.1h1.5v1.5h-1.5zM119.6 132.1h1.5v1.5h-1.5zM120.5 132.3h1.5v1.5h-1.5zM120.7 128.5h1.5v1.5h-1.5zM119.9 125.8h1.5v1.5h-1.5zM122.2 123.7h1.5v1.5h-1.5zM128.2 140.9h1.5v1.5h-1.5zM129.8 139.6h1.5v1.5h-1.5zM116.2 146.3h1.5v1.5h-1.5zM128.9 141.3h1.5v1.5h-1.5zM115.9 128.1h1.5v1.5h-1.5zM117.0 128.7h1.5v1.5h-1.5zM120.3 138.3h1.5v1.5h-1.5zM121.6 137.9h1.5v1.5h-1.5zM127.9 141.2h1.5v1.5h-1.5zM131.7 141.7h1.5v1.5h-1.5zM114.0 138.2h1.5v1.5h-1.5zM124.4 126.4h1.5v1.5h-1.5zM127.3 134.5h1.5v1.5h-1.5zM127.4 141.4h1.5v1.5h-1.5zM116.5 136.4h1.5v1.5h-1.5zM120.8 133.1h1.5v1.5h-1.5zM126.6 136.1h1.5v1.5h-1.5zM117.9 127.8h1.5v1.5h-1.5zM115.5 141.6h1.5v1.5h-1.5zM120.5 142.2h1.5v1.5h-1.5zM118.3 145.3h1.5v1.5h-1.5zM126.7 143.0h1.5v1.5h-1.5zM129.0 140.0h1.5v1.5h-1.5zM125.2 130.3h1.5v1.5h-1.5zM118.8 129.2h1.5v1.5h-1.5zM122.8 136.6h1.5v1.5h-1.5zM118.1 123.7h1.5v1.5h-1.5zM123.2 145.1h1.5v1.5h-1.5zM113.8 132.7h1.5v1.5h-1.5zM115.7 130.6h1.5v1.5h-1.5zM117.6 134.6h1.5v1.5h-1.5zM122.5 143.2h1.5v1.5h-1.5zM131.5 143.1h1.5v1.5h-1.5zM115.6 126.1h1.5v1.5h-1.5zM117.5 138.5h1.5v1.5h-1.5zM124.6 125.8h1.5v1.5h-1.5zM116.3 134.0h1.5v1.5h-1.5zM125.4 133.6h1.5v1.5h-1.5zM121.6 123.7h1.5v1.5h-1.5zM128.6 140.6h1.5v1.5h-1.5zM114.5 131.3h1.5v1.5h-1.5zM125.8 140.2h1.5v1.5h-1.5zM117.4 141.5h1.5v1.5h-1.5zM124.5 136.9h1.5v1.5h-1.5zM128.7 140.6h1.5v1.5h-1.5zM119.4 123.2h1.5v1.5h-1.5zM127.3 139.0h1.5v1.5h-1.5zM119.8 129.7h1.5v1.5h-1.5zM124.5 130.4h1.5v1.5h-1.5zM119.9 126.1h1.5v1.5h-1.5zM120.1 125.8h1.5v1.5h-1.5zM124.5 137.4h1.5v1.5h-1.5zM127.3 133.4h1.5v1.5h-1.5zM113.7 146.0h1.5v1.5h-1.5zM114.1 142.9h1.5v1.5h-1.5zM113.8 143.2h1.5v1.5h-1.5zM113.7 145.9h1.5v1.5h-1.5zM121.4 135.2h1.5v1.5h-1.5zM119.5 138.1h1.5v1.5h-1.5zM125.6 144.5h1.5v1.5h-1.5zM118.5 135.1h1.5v1.5h-1.5zM128.3 145.0h1.5v1.5h-1.5zM119.5 142.6h1.5v1.5h-1.5zM126.2 130.3h1.5v1.5h-1.5zM119.1 130.3h1.5v1.5h-1.5zM126.3 142.9h1.5v1.5h-1.5zM115.5 131.3h1.5v1.5h-1.5zM116.0 146.4h1.5v1.5h-1.5zM115.5 133.9h1.5v1.5h-1.5zM118.3 140.8h1.5v1.5h-1.5zM117.1 130.5h1.5v1.5h-1.5zM124.7 134.0h1.5v1.5h-1.5zM133.2 144.7h1.5v1.5h-1.5zM116.6 134.7h1.5v1.5h-1.5zM118.1 133.4h1.5v1.5h-1.5zM120.6 124.0h1.5v1.5h-1.5zM124.4 127.2h1.5v1.5h-1.5zM123.5 144.2h1.5v1.5h-1.5zM126.7 138.5h1.5v1.5h-1.5zM123.3 128.2h1.5v1.5h-1.5zM113.5 135.4h1.5v1.5h-1.5zM126.4 143.6h1.5v1.5h-1.5zM132.0 141.0h1.5v1.5h-1.5zM123.6 141.1h1.5v1.5h-1.5zM128.6 136.6h1.5v1.5h-1.5zM116.0 135.1h1.5v1.5h-1.5zM119.8 139.9h1.5v1.5h-1.5zM132.2 143.4h1.5v1.5h-1.5zM129.4 144.3h1.5v1.5h-1.5zM119.0 144.1h1.5v1.5h-1.5zM113.7 129.2h1.5v1.5h-1.5zM130.3 146.1h1.5v1.5h-1.5zM132.9 145.6h1.5v1.5h-1.5zM119.3 128.1h1.5v1.5h-1.5zM118.1 145.6h1.5v1.5h-1.5zM118.1 134.3h1.5v1.5h-1.5zM119.7 144.7h1.5v1.5h-1.5zM130.2 141.1h1.5v1.5h-1.5zM119.5 139.8h1.5v1.5h-1.5zM121.5 139.5h1.5v1.5h-1.5zM124.8 136.7h1.5v1.5h-1.5zM124.8 136.2h1.5v1.5h-1.5zM130.0 139.5h1.5v1.5h-1.5zM127.6 134.4h1.5v1.5h-1.5zM122.6 147.0h1.5v1.5h-1.5zM120.4 135.5h1.5v1.5h-1.5zM115.1 139.9h1.5v1.5h-1.5zM117.9 134.8h1.5v1.5h-1.5zM115.8 137.9h1.5v1.5h-1.5zM120.7 130.8h1.5v1.5h-1.5zM116.9 140.9h1.5v1.5h-1.5zM114.8 132.9h1.5v1.5h-1.5zM120.8 133.7h1.5v1.5h-1.5zM130.7 146.1h1.5v1.5h-1.5zM118.6 128.5h1.5v1.5h-1.5zM127.4 141.0h1.5v1.5h-1.5zM125.3 135.8h1.5v1.5h-1.5zM122.3 132.9h1.5v1.5h-1.5zM117.1 141.0h1.5v1.5h-1.5zM116.4 146.6h1.5v1.5h-1.5zM123.6 125.0h1.5v1.5h-1.5zM120.6 125.1h1.5v1.5h-1.5zM122.2 126.4h1.5v1.5h-1.5zM119.6 123.8h1.5v1.5h-1.5zM130.8 142.9h1.5v1.5h-1.5zM132.0 143.4h1.5v1.5h-1.5zM123.2 137.9h1.5v1.5h-1.5zM121.9 138.3h1.5v1.5h-1.5zM117.4 137.4h1.5v1.5h-1.5zM115.7 127.6h1.5v1.5h-1.5zM122.4 129.7h1.5v1.5h-1.5zM128.5 145.5h1.5v1.5h-1.5zM122.6 139.2h1.5v1.5h-1.5zM129.2 147.1h1.5v1.5h-1.5zM132.6 145.4h1.5v1.5h-1.5zM124.1 135.3h1.5v1.5h-1.5zM117.1 130.8h1.5v1.5h-1.5zM119.3 132.0h1.5v1.5h-1.5zM124.8 140.6h1.5v1.5h-1.5zM121.3 123.7h1.5v1.5h-1.5zM122.2 141.3h1.5v1.5h-1.5zM137.3 145.3h1.5v1.5h-1.5zM121.7 129.4h1.5v1.5h-1.5zM126.0 130.2h1.5v1.5h-1.5zM130.6 145.0h1.5v1.5h-1.5zM114.6 142.9h1.5v1.5h-1.5zM121.1 142.8h1.5v1.5h-1.5zM120.7 144.4h1.5v1.5h-1.5zM114.0 134.3h1.5v1.5h-1.5zM132.7 143.3h1.5v1.5h-1.5zM115.7 129.3h1.5v1.5h-1.5zM115.4 143.8h1.5v1.5h-1.5zM125.9 139.9h1.5v1.5h-1.5zM126.7 138.0h1.5v1.5h-1.5zM114.0 127.0h1.5v1.5h-1.5zM123.3 126.9h1.5v1.5h-1.5zM116.0 136.6h1.5v1.5h-1.5zM127.1 143.4h1.5v1.5h-1.5zM117.7 131.4h1.5v1.5h-1.5zM124.7 130.5h1.5v1.5h-1.5zM114.4 140.0h1.5v1.5h-1.5zM116.2 128.5h1.5v1.5h-1.5zM125.6 140.2h1.5v1.5h-1.5zM120.8 137.6h1.5v1.5h-1.5zM113.4 145.8h1.5v1.5h-1.5zM130.7 144.7h1.5v1.5h-1.5zM124.5 132.2h1.5v1.5h-1.5zM123.8 131.2h1.5v1.5h-1.5zM122.1 131.1h1.5v1.5h-1.5zM118.7 135.2h1.5v1.5h-1.5zM124.3 134.3h1.5v1.5h-1.5zM114.7 141.3h1.5v1.5h-1.5zM131.6 143.2h1.5v1.5h-1.5zM123.2 137.5h1.5v1.5h-1.5zM132.6 146.6h1.5v1.5h-1.5zM125.3 140.6h1.5v1.5h-1.5zM131.0 145.3h1.5v1.5h-1.5zM126.4 137.1h1.5v1.5h-1.5zM117.9 142.4h1.5v1.5h-1.5zM114.3 132.1h1.5v1.5h-1.5zM117.9 123.8h1.5v1.5h-1.5zM118.0 134.7h1.5v1.5h-1.5zM125.1 143.2h1.5v1.5h-1.5zM120.2 142.7h1.5v1.5h-1.5zM117.6 146.2h1.5v1.5h-1.5zM119.8 123.8h1.5v1.5h-1.5zM124.1 136.0h1.5v1.5h-1.5zM125.2 128.8h1.5v1.5h-1.5zM115.1 129.2h1.5v1.5h-1.5zM116.3 128.9h1.5v1.5h-1.5zM117.8 127.6h1.5v1.5h-1.5zM115.3 138.3h1.5v1.5h-1.5zM132.0 144.5h1.5v1.5h-1.5zM114.3 137.1h1.5v1.5h-1.5zM119.2 145.2h1.5v1.5h-1.5zM131.2 142.2h1.5v1.5h-1.5zM132.5 147.0h1.5v1.5h-1.5zM117.7 139.4h1.5v1.5h-1.5zM137.8 146.4h1.5v1.5h-1.5zM117.4 129.2h1.5v1.5h-1.5zM115.3 126.2h1.5v1.5h-1.5zM127.8 145.2h1.5v1.5h-1.5zM125.1 136.3h1.5v1.5h-1.5zM120.3 125.2h1.5v1.5h-1.5zM114.1 132.4h1.5v1.5h-1.5zM132.7 143.1h1.5v1.5h-1.5zM118.9 140.5h1.5v1.5h-1.5zM122.6 129.1h1.5v1.5h-1.5zM127.4 139.4h1.5v1.5h-1.5zM114.8 127.8h1.5v1.5h-1.5zM133.4 145.7h1.5v1.5h-1.5zM120.5 135.8h1.5v1.5h-1.5zM120.9 127.0h1.5v1.5h-1.5zM118.6 146.9h1.5v1.5h-1.5zM124.9 146.0h1.5v1.5h-1.5zM114.1 132.3h1.5v1.5h-1.5zM115.1 133.4h1.5v1.5h-1.5zM118.2 113.4h1.5v1.5h-1.5zM116.9 120.7h1.5v1.5h-1.5zM118.8 114.5h1.5v1.5h-1.5zM121.5 111.6h1.5v1.5h-1.5zM121.3 119.6h1.5v1.5h-1.5zM122.7 120.0h1.5v1.5h-1.5zM121.3 121.1h1.5v1.5h-1.5zM122.4 107.2h1.5v1.5h-1.5zM123.8 113.2h1.5v1.5h-1.5zM121.8 99.3h1.5v1.5h-1.5zM117.9 117.6h1.5v1.5h-1.5zM116.5 110.5h1.5v1.5h-1.5zM116.3 121.7h1.5v1.5h-1.5zM118.8 109.8h1.5v1.5h-1.5zM122.1 101.4h1.5v1.5h-1.5zM118.5 113.1h1.5v1.5h-1.5zM115.8 118.6h1.5v1.5h-1.5zM124.2 122.9h1.5v1.5h-1.5zM115.4 119.1h1.5v1.5h-1.5zM118.4 99.5h1.5v1.5h-1.5zM119.3 106.1h1.5v1.5h-1.5zM116.0 99.9h1.5v1.5h-1.5zM121.4 114.7h1.5v1.5h-1.5zM124.7 124.2h1.5v1.5h-1.5zM121.9 118.1h1.5v1.5h-1.5zM116.1 123.4h1.5v1.5h-1.5zM123.3 123.3h1.5v1.5h-1.5zM122.9 100.8h1.5v1.5h-1.5zM116.2 113.2h1.5v1.5h-1.5zM119.8 106.0h1.5v1.5h-1.5zM120.9 105.8h1.5v1.5h-1.5zM116.9 112.2h1.5v1.5h-1.5zM125.7 138.8h1.5v1.5h-1.5zM127.2 134.9h1.5v1.5h-1.5zM125.5 128.1h1.5v1.5h-1.5zM126.0 130.6h1.5v1.5h-1.5zM131.8 139.3h1.5v1.5h-1.5zM129.4 137.8h1.5v1.5h-1.5zM128.0 132.9h1.5v1.5h-1.5zM126.1 136.0h1.5v1.5h-1.5zM127.8 131.5h1.5v1.5h-1.5zM131.0 132.7h1.5v1.5h-1.5zM128.2 139.6h1.5v1.5h-1.5zM131.9 136.0h1.5v1.5h-1.5zM126.5 132.5h1.5v1.5h-1.5zM125.2 134.6h1.5v1.5h-1.5zM125.6 133.9h1.5v1.5h-1.5zM128.8 138.8h1.5v1.5h-1.5zM126.6 133.5h1.5v1.5h-1.5zM127.4 132.9h1.5v1.5h-1.5zM125.8 15.2h1.5v1.5h-1.5zM124.0 28.5h1.5v1.5h-1.5zM126.2 28.5h1.5v1.5h-1.5zM123.3 32.0h1.5v1.5h-1.5zM124.0 54.0h1.5v1.5h-1.5zM126.6 50.5h1.5v1.5h-1.5zM128.7 64.5h1.5v1.5h-1.5zM125.8 71.6h1.5v1.5h-1.5zM120.8 77.7h1.5v1.5h-1.5zM125.1 78.6h1.5v1.5h-1.5zM122.6 81.2h1.5v1.5h-1.5zM117.5 84.8h1.5v1.5h-1.5zM130.5 91.4h1.5v1.5h-1.5zM121.1 87.8h1.5v1.5h-1.5zM123.3 85.7h1.5v1.5h-1.5zM118.6 101.0h1.5v1.5h-1.5zM119.7 103.2h1.5v1.5h-1.5zM117.1 105.5h1.5v1.5h-1.5zM119.0 110.3h1.5v1.5h-1.5zM121.5 108.5h1.5v1.5h-1.5zM126.9 115.6h1.5v1.5h-1.5zM131.3 135.4h1.5v1.5h-1.5zM133.1 134.1h1.5v1.5h-1.5zM130.9 137.6h1.5v1.5h-1.5zM137.4 142.8h1.5v1.5h-1.5zM135.2 143.7h1.5v1.5h-1.5zM136.7 143.3h1.5v1.5h-1.5z" fill="#cf2b58" stroke="none" stroke-width="1"/>
<line x1="109.3" y1="16" x2="109.3" y2="170" stroke="#8a8a8a" stroke-width="0.85" stroke-dasharray="2 2.2"/>
<line x1="112.1" y1="16" x2="112.1" y2="170" stroke="#8a8a8a" stroke-width="0.85" stroke-dasharray="2 2.2"/>
<line x1="114.8" y1="16" x2="114.8" y2="170" stroke="#8a8a8a" stroke-width="0.85" stroke-dasharray="2 2.2"/>
<line x1="28.5" y1="147.4" x2="194.5" y2="147.4" stroke="#333" stroke-width="0.75" stroke-dasharray="2 1.3"/>
<line x1="28.5" y1="16" x2="28.5" y2="171" stroke="#333" stroke-width="0.8"/>
<line x1="28.1" y1="170.6" x2="195.8" y2="170.6" stroke="#333" stroke-width="0.8"/>
<line x1="26.5" y1="170" x2="28.5" y2="170" stroke="#333" stroke-width="0.7"/>
<text x="25.5" y="172.3" font-size="6.8" text-anchor="end" fill="#1a1a1a" stroke="#1a1a1a" stroke-width="0.12">-50</text>
<line x1="26.5" y1="148" x2="28.5" y2="148" stroke="#333" stroke-width="0.7"/>
<text x="25.5" y="150.3" font-size="6.8" text-anchor="end" fill="#1a1a1a" stroke="#1a1a1a" stroke-width="0.12">0</text>
<line x1="26.5" y1="126" x2="28.5" y2="126" stroke="#333" stroke-width="0.7"/>
<text x="25.5" y="128.3" font-size="6.8" text-anchor="end" fill="#1a1a1a" stroke="#1a1a1a" stroke-width="0.12">50</text>
<line x1="26.5" y1="104" x2="28.5" y2="104" stroke="#333" stroke-width="0.7"/>
<text x="25.5" y="106.3" font-size="6.8" text-anchor="end" fill="#1a1a1a" stroke="#1a1a1a" stroke-width="0.12">100</text>
<line x1="26.5" y1="82" x2="28.5" y2="82" stroke="#333" stroke-width="0.7"/>
<text x="25.5" y="84.3" font-size="6.8" text-anchor="end" fill="#1a1a1a" stroke="#1a1a1a" stroke-width="0.12">150</text>
<line x1="26.5" y1="60" x2="28.5" y2="60" stroke="#333" stroke-width="0.7"/>
<text x="25.5" y="62.3" font-size="6.8" text-anchor="end" fill="#1a1a1a" stroke="#1a1a1a" stroke-width="0.12">200</text>
<line x1="26.5" y1="38" x2="28.5" y2="38" stroke="#333" stroke-width="0.7"/>
<text x="25.5" y="40.3" font-size="6.8" text-anchor="end" fill="#1a1a1a" stroke="#1a1a1a" stroke-width="0.12">250</text>
<line x1="26.5" y1="16" x2="28.5" y2="16" stroke="#333" stroke-width="0.7"/>
<text x="25.5" y="18.3" font-size="6.8" text-anchor="end" fill="#1a1a1a" stroke="#1a1a1a" stroke-width="0.12">300</text>
<line x1="39.7" y1="170.6" x2="39.7" y2="172.8" stroke="#333" stroke-width="0.7"/>
<text x="39.7" y="180.6" font-size="6.7" text-anchor="middle" fill="#1a1a1a" stroke="#1a1a1a" stroke-width="0.12">-20</text>
<line x1="57.8" y1="170.6" x2="57.8" y2="172.8" stroke="#333" stroke-width="0.7"/>
<text x="57.8" y="180.6" font-size="6.7" text-anchor="middle" fill="#1a1a1a" stroke="#1a1a1a" stroke-width="0.12">-15</text>
<line x1="75.9" y1="170.6" x2="75.9" y2="172.8" stroke="#333" stroke-width="0.7"/>
<text x="75.9" y="180.6" font-size="6.7" text-anchor="middle" fill="#1a1a1a" stroke="#1a1a1a" stroke-width="0.12">-10</text>
<line x1="94" y1="170.6" x2="94" y2="172.8" stroke="#333" stroke-width="0.7"/>
<text x="94" y="180.6" font-size="6.7" text-anchor="middle" fill="#1a1a1a" stroke="#1a1a1a" stroke-width="0.12">-5</text>
<line x1="112.1" y1="170.6" x2="112.1" y2="172.8" stroke="#333" stroke-width="0.7"/>
<text x="112.1" y="180.6" font-size="6.7" text-anchor="middle" fill="#1a1a1a" stroke="#1a1a1a" stroke-width="0.12">0</text>
<line x1="130.2" y1="170.6" x2="130.2" y2="172.8" stroke="#333" stroke-width="0.7"/>
<text x="130.2" y="180.6" font-size="6.7" text-anchor="middle" fill="#1a1a1a" stroke="#1a1a1a" stroke-width="0.12">5</text>
<line x1="148.3" y1="170.6" x2="148.3" y2="172.8" stroke="#333" stroke-width="0.7"/>
<text x="148.3" y="180.6" font-size="6.7" text-anchor="middle" fill="#1a1a1a" stroke="#1a1a1a" stroke-width="0.12">10</text>
<line x1="166.4" y1="170.6" x2="166.4" y2="172.8" stroke="#333" stroke-width="0.7"/>
<text x="166.4" y="180.6" font-size="6.7" text-anchor="middle" fill="#1a1a1a" stroke="#1a1a1a" stroke-width="0.12">15</text>
<line x1="184.5" y1="170.6" x2="184.5" y2="172.8" stroke="#333" stroke-width="0.7"/>
<text x="184.5" y="180.6" font-size="6.7" text-anchor="middle" fill="#1a1a1a" stroke="#1a1a1a" stroke-width="0.12">20</text>
<line x1="195.6" y1="170.6" x2="195.6" y2="172.8" stroke="#333" stroke-width="0.7"/>
<text x="111.5" y="189.8" font-size="6.7" text-anchor="middle" fill="#1a1a1a" stroke="#1a1a1a" stroke-width="0.12">log2(si_YBX1/si_NC)</text>
<text x="9.3" y="89" font-size="6.9" text-anchor="middle" fill="#1a1a1a" stroke="#1a1a1a" stroke-width="0.12" transform="rotate(-90 9.3 89)">-log10(Qvalue)</text>
<rect x="167.6" y="13.4" width="4.3" height="4.3" fill="#cf2b58"/>
<text x="175.5" y="17.8" font-size="6.1" text-anchor="start" fill="#111" stroke="#111" stroke-width="0.22">Up</text>
<rect x="167.6" y="21" width="4.3" height="4.3" fill="#9fb1c6"/>
<text x="175.5" y="25.4" font-size="6.1" text-anchor="start" fill="#111" stroke="#111" stroke-width="0.22">no-DEGS</text>
<rect x="167.6" y="28.6" width="4.3" height="4.3" fill="#8fe35c"/>
<text x="175.5" y="33" font-size="6.1" text-anchor="start" fill="#111" stroke="#111" stroke-width="0.22">Down</text>
<text x="234.3" y="9.2" font-size="10.5" font-weight="bold" text-anchor="start" fill="#000" stroke="#000" stroke-width="0.12">B</text>
<rect x="314.3" y="33.9" width="25.15" height="4.6" fill="#4a7bb0"/>
<text x="310.7" y="37.9" font-size="4.85" text-anchor="end" fill="#505050" stroke="#505050" stroke-width="0.06">striated muscle contraction</text>
<line x1="312" y1="36.2" x2="314.3" y2="36.2" stroke="#777" stroke-width="0.7"/>
<rect x="314.3" y="40.89" width="25.15" height="4.6" fill="#4a7bb0"/>
<text x="310.7" y="44.89" font-size="4.85" text-anchor="end" fill="#505050" stroke="#505050" stroke-width="0.06">centriole replication</text>
<line x1="312" y1="43.19" x2="314.3" y2="43.19" stroke="#777" stroke-width="0.7"/>
<rect x="314.3" y="47.88" width="25.15" height="4.6" fill="#4a7bb0"/>
<text x="310.7" y="51.88" font-size="4.85" text-anchor="end" fill="#505050" stroke="#505050" stroke-width="0.06">unwinding involved in DNA replicatio...</text>
<line x1="312" y1="50.18" x2="314.3" y2="50.18" stroke="#777" stroke-width="0.7"/>
<rect x="314.3" y="54.87" width="25.15" height="4.6" fill="#4a7bb0"/>
<text x="310.7" y="58.87" font-size="4.85" text-anchor="end" fill="#505050" stroke="#505050" stroke-width="0.06">cell division</text>
<line x1="312" y1="57.17" x2="314.3" y2="57.17" stroke="#777" stroke-width="0.7"/>
<rect x="314.3" y="61.86" width="25.15" height="4.6" fill="#4a7bb0"/>
<text x="310.7" y="65.86" font-size="4.85" text-anchor="end" fill="#505050" stroke="#505050" stroke-width="0.06">DNA replication initiation</text>
<line x1="312" y1="64.16" x2="314.3" y2="64.16" stroke="#777" stroke-width="0.7"/>
<rect x="314.3" y="68.85" width="25.15" height="4.6" fill="#4a7bb0"/>
<text x="310.7" y="72.85" font-size="4.85" text-anchor="end" fill="#505050" stroke="#505050" stroke-width="0.06">interferon-gamma-mediated signaling path...</text>
<line x1="312" y1="71.15" x2="314.3" y2="71.15" stroke="#777" stroke-width="0.7"/>
<rect x="314.3" y="75.84" width="28.8" height="4.6" fill="#4a7bb0"/>
<text x="310.7" y="79.84" font-size="4.85" text-anchor="end" fill="#505050" stroke="#505050" stroke-width="0.06">chaperone cofactor-dependent protein ref...</text>
<line x1="312" y1="78.14" x2="314.3" y2="78.14" stroke="#777" stroke-width="0.7"/>
<rect x="314.3" y="82.83" width="28.8" height="4.6" fill="#4a7bb0"/>
<text x="310.7" y="86.83" font-size="4.85" text-anchor="end" fill="#505050" stroke="#505050" stroke-width="0.06">angiogenesis</text>
<line x1="312" y1="85.13" x2="314.3" y2="85.13" stroke="#777" stroke-width="0.7"/>
<rect x="314.3" y="89.82" width="38.4" height="4.6" fill="#4a7bb0"/>
<text x="310.7" y="93.82" font-size="4.85" text-anchor="end" fill="#505050" stroke="#505050" stroke-width="0.06">response to unfolded protein</text>
<line x1="312" y1="92.12" x2="314.3" y2="92.12" stroke="#777" stroke-width="0.7"/>
<rect x="314.3" y="96.81" width="43.58" height="4.6" fill="#4a7bb0"/>
<text x="310.7" y="100.81" font-size="4.85" text-anchor="end" fill="#505050" stroke="#505050" stroke-width="0.06">mitotic cell cycle</text>
<line x1="312" y1="99.11" x2="314.3" y2="99.11" stroke="#777" stroke-width="0.7"/>
<rect x="314.3" y="103.8" width="48" height="4.6" fill="#4a7bb0"/>
<text x="310.7" y="107.8" font-size="4.85" text-anchor="end" fill="#505050" stroke="#505050" stroke-width="0.06">intracellular signal transduction</text>
<line x1="312" y1="106.1" x2="314.3" y2="106.1" stroke="#777" stroke-width="0.7"/>
<rect x="314.3" y="110.79" width="48" height="4.6" fill="#4a7bb0"/>
<text x="310.7" y="114.79" font-size="4.85" text-anchor="end" fill="#505050" stroke="#505050" stroke-width="0.06">canonical glycolysis</text>
<line x1="312" y1="113.09" x2="314.3" y2="113.09" stroke="#777" stroke-width="0.7"/>
<rect x="314.3" y="117.78" width="48" height="4.6" fill="#4a7bb0"/>
<text x="310.7" y="121.78" font-size="4.85" text-anchor="end" fill="#505050" stroke="#505050" stroke-width="0.06">brown fat cell differentiation</text>
<line x1="312" y1="120.08" x2="314.3" y2="120.08" stroke="#777" stroke-width="0.7"/>
<rect x="314.3" y="124.77" width="48" height="4.6" fill="#4a7bb0"/>
<text x="310.7" y="128.77" font-size="4.85" text-anchor="end" fill="#505050" stroke="#505050" stroke-width="0.06">collagen fibril organization</text>
<line x1="312" y1="127.07" x2="314.3" y2="127.07" stroke="#777" stroke-width="0.7"/>
<rect x="314.3" y="131.76" width="49.54" height="4.6" fill="#4a7bb0"/>
<text x="310.7" y="135.76" font-size="4.85" text-anchor="end" fill="#505050" stroke="#505050" stroke-width="0.06">mitotic sister chromatid segregation</text>
<line x1="312" y1="134.06" x2="314.3" y2="134.06" stroke="#777" stroke-width="0.7"/>
<rect x="314.3" y="138.75" width="58.56" height="4.6" fill="#4a7bb0"/>
<text x="310.7" y="142.75" font-size="4.85" text-anchor="end" fill="#505050" stroke="#505050" stroke-width="0.06">glycolytic process</text>
<line x1="312" y1="141.05" x2="314.3" y2="141.05" stroke="#777" stroke-width="0.7"/>
<rect x="314.3" y="145.74" width="65.28" height="4.6" fill="#4a7bb0"/>
<text x="310.7" y="149.74" font-size="4.85" text-anchor="end" fill="#505050" stroke="#505050" stroke-width="0.06">strand elongation involved in DNA re...</text>
<line x1="312" y1="148.04" x2="314.3" y2="148.04" stroke="#777" stroke-width="0.7"/>
<rect x="314.3" y="152.73" width="76.8" height="4.6" fill="#4a7bb0"/>
<text x="310.7" y="156.73" font-size="4.85" text-anchor="end" fill="#505050" stroke="#505050" stroke-width="0.06">mitotic spindle organization</text>
<line x1="312" y1="155.03" x2="314.3" y2="155.03" stroke="#777" stroke-width="0.7"/>
<rect x="314.3" y="159.72" width="119.04" height="4.6" fill="#4a7bb0"/>
<text x="310.7" y="163.72" font-size="4.85" text-anchor="end" fill="#505050" stroke="#505050" stroke-width="0.06">cell cycle</text>
<line x1="312" y1="162.02" x2="314.3" y2="162.02" stroke="#777" stroke-width="0.7"/>
<rect x="314.3" y="166.71" width="119.04" height="4.6" fill="#4a7bb0"/>
<text x="310.7" y="170.71" font-size="4.85" text-anchor="end" fill="#505050" stroke="#505050" stroke-width="0.06">DNA replication</text>
<line x1="312" y1="169.01" x2="314.3" y2="169.01" stroke="#777" stroke-width="0.7"/>
<line x1="314.3" y1="33.5" x2="314.3" y2="172.5" stroke="#888" stroke-width="0.6"/>
<line x1="314.3" y1="172.4" x2="433.5" y2="172.4" stroke="#aaa" stroke-width="0.6"/>
<line x1="314.3" y1="172.4" x2="314.3" y2="174.3" stroke="#888" stroke-width="0.6"/>
<text x="314.3" y="180.2" font-size="5.3" text-anchor="middle" fill="#666" stroke="#666" stroke-width="0.05">0</text>
<line x1="333.5" y1="172.4" x2="333.5" y2="174.3" stroke="#888" stroke-width="0.6"/>
<text x="333.5" y="180.2" font-size="5.3" text-anchor="middle" fill="#666" stroke="#666" stroke-width="0.05">1</text>
<line x1="352.7" y1="172.4" x2="352.7" y2="174.3" stroke="#888" stroke-width="0.6"/>
<text x="352.7" y="180.2" font-size="5.3" text-anchor="middle" fill="#666" stroke="#666" stroke-width="0.05">2</text>
<line x1="371.9" y1="172.4" x2="371.9" y2="174.3" stroke="#888" stroke-width="0.6"/>
<text x="371.9" y="180.2" font-size="5.3" text-anchor="middle" fill="#666" stroke="#666" stroke-width="0.05">3</text>
<line x1="391.1" y1="172.4" x2="391.1" y2="174.3" stroke="#888" stroke-width="0.6"/>
<text x="391.1" y="180.2" font-size="5.3" text-anchor="middle" fill="#666" stroke="#666" stroke-width="0.05">4</text>
<line x1="410.3" y1="172.4" x2="410.3" y2="174.3" stroke="#888" stroke-width="0.6"/>
<text x="410.3" y="180.2" font-size="5.3" text-anchor="middle" fill="#666" stroke="#666" stroke-width="0.05">5</text>
<line x1="429.5" y1="172.4" x2="429.5" y2="174.3" stroke="#888" stroke-width="0.6"/>
<text x="429.5" y="180.2" font-size="5.3" text-anchor="middle" fill="#666" stroke="#666" stroke-width="0.05">6</text>
<text x="372" y="189.6" font-size="6.6" text-anchor="middle" fill="#333" stroke="#333" stroke-width="0.08">-log10  (Qvalue)</text>
<line x1="314.3" y1="34" x2="433.6" y2="34" stroke="#999" stroke-width="0.7"/>
<line x1="314.3" y1="31.6" x2="314.3" y2="34" stroke="#888" stroke-width="0.7"/>
<text x="312.8" y="30.2" font-size="5.2" text-anchor="end" fill="#555" stroke="#555" stroke-width="0.22" font-style="italic">0</text>
<line x1="347.75" y1="31.6" x2="347.75" y2="34" stroke="#888" stroke-width="0.7"/>
<text x="346.25" y="30.2" font-size="5.2" text-anchor="end" fill="#555" stroke="#555" stroke-width="0.22" transform="rotate(35 346.25 30.2)">50</text>
<line x1="381.2" y1="31.6" x2="381.2" y2="34" stroke="#888" stroke-width="0.7"/>
<text x="379.7" y="30.2" font-size="5.2" text-anchor="end" fill="#555" stroke="#555" stroke-width="0.22" transform="rotate(35 379.7 30.2)">100</text>
<line x1="414.65" y1="31.6" x2="414.65" y2="34" stroke="#888" stroke-width="0.7"/>
<text x="413.15" y="30.2" font-size="5.2" text-anchor="end" fill="#555" stroke="#555" stroke-width="0.22" transform="rotate(35 413.15 30.2)">150</text>
<line x1="433.6" y1="31.6" x2="433.6" y2="34" stroke="#888" stroke-width="0.7"/>
<text x="373.3" y="19.6" font-size="6.4" text-anchor="middle" fill="#333" stroke="#333" stroke-width="0.08">Term Candidate Gene Num</text>
<polyline points="322.06,36.2 322.06,43.19 320.66,50.18 383.37,57.17 326.26,64.16 330.12,71.15 324.51,78.14 362,85.13 331.87,92.12 347.63,99.11 396.69,106.1 324.86,113.09 325.56,120.08 338.17,127.07 326.26,134.06 328.36,141.05 321.36,148.04 345.88,155.03 433.48,162.02 355.69,169.01" fill="none" stroke="#ec7a3c" stroke-width="1"/>
<circle cx="322.06" cy="36.2" r="1.35" fill="#ec7a3c"/>
<circle cx="322.06" cy="43.19" r="1.35" fill="#ec7a3c"/>
<circle cx="320.66" cy="50.18" r="1.35" fill="#ec7a3c"/>
<circle cx="383.37" cy="57.17" r="1.35" fill="#ec7a3c"/>
<circle cx="326.26" cy="64.16" r="1.35" fill="#ec7a3c"/>
<circle cx="330.12" cy="71.15" r="1.35" fill="#ec7a3c"/>
<circle cx="324.51" cy="78.14" r="1.35" fill="#ec7a3c"/>
<circle cx="362" cy="85.13" r="1.35" fill="#ec7a3c"/>
<circle cx="331.87" cy="92.12" r="1.35" fill="#ec7a3c"/>
<circle cx="347.63" cy="99.11" r="1.35" fill="#ec7a3c"/>
<circle cx="396.69" cy="106.1" r="1.35" fill="#ec7a3c"/>
<circle cx="324.86" cy="113.09" r="1.35" fill="#ec7a3c"/>
<circle cx="325.56" cy="120.08" r="1.35" fill="#ec7a3c"/>
<circle cx="338.17" cy="127.07" r="1.35" fill="#ec7a3c"/>
<circle cx="326.26" cy="134.06" r="1.35" fill="#ec7a3c"/>
<circle cx="328.36" cy="141.05" r="1.35" fill="#ec7a3c"/>
<circle cx="321.36" cy="148.04" r="1.35" fill="#ec7a3c"/>
<circle cx="345.88" cy="155.03" r="1.35" fill="#ec7a3c"/>
<circle cx="433.48" cy="162.02" r="1.35" fill="#ec7a3c"/>
<circle cx="355.69" cy="169.01" r="1.35" fill="#ec7a3c"/>
<text x="489" y="9.2" font-size="10.5" font-weight="bold" text-anchor="start" fill="#000" stroke="#000" stroke-width="0.12">C</text>
<text x="0" y="0" font-size="100" font-weight="bold" fill="#5fd22c" transform="translate(506.18 17.61) scale(0.1269 0.1252)">A</text>
<text x="0" y="0" font-size="100" font-weight="bold" fill="#3a48c8" transform="translate(505.97 20.27) scale(0.1302 0.0354)">C</text>
<text x="0" y="0" font-size="100" font-weight="bold" fill="#c8231f" transform="translate(505.65 22.57) scale(0.1417 0.0301)">U</text>
<text x="0" y="0" font-size="100" font-weight="bold" fill="#eaa22e" transform="translate(505.98 24.77) scale(0.1261 0.0283)">G</text>
<text x="0" y="0" font-size="100" font-weight="bold" fill="#eaa22e" transform="translate(515.28 20.65) scale(0.1261 0.1641)">G</text>
<text x="0" y="0" font-size="100" font-weight="bold" fill="#3a48c8" transform="translate(515.27 22.78) scale(0.1302 0.0255)">C</text>
<text x="0" y="0" font-size="100" font-weight="bold" fill="#5fd22c" transform="translate(515.48 24.50) scale(0.1269 0.0233)">A</text>
<text x="0" y="0" font-size="100" font-weight="bold" fill="#eaa22e" transform="translate(524.78 23.81) scale(0.1261 0.2093)">G</text>
<text x="0" y="0" font-size="100" font-weight="bold" fill="#c8231f" transform="translate(533.40 23.81) scale(0.1500 0.2152)">U</text>
<text x="0" y="0" font-size="100" font-weight="bold" fill="#5fd22c" transform="translate(543.58 19.82) scale(0.1284 0.1528)">A</text>
<text x="0" y="0" font-size="100" font-weight="bold" fill="#eaa22e" transform="translate(543.38 23.95) scale(0.1276 0.0566)">G</text>
<text x="0" y="0" font-size="100" font-weight="bold" fill="#5fd22c" transform="translate(552.27 20.42) scale(0.1328 0.1616)">A</text>
<text x="0" y="0" font-size="100" font-weight="bold" fill="#eaa22e" transform="translate(552.06 21.59) scale(0.1320 0.0156)">G</text>
<text x="0" y="0" font-size="100" font-weight="bold" fill="#3a48c8" transform="translate(552.04 23.58) scale(0.1363 0.0269)">C</text>
<text x="0" y="0" font-size="100" font-weight="bold" fill="#c8231f" transform="translate(551.71 24.29) scale(0.1483 0.0086)">U</text>
<text x="0" y="0" font-size="100" font-weight="bold" fill="#eaa22e" transform="translate(561.76 21.25) scale(0.1320 0.1711)">G</text>
<text x="0" y="0" font-size="100" font-weight="bold" fill="#5fd22c" transform="translate(561.97 22.30) scale(0.1328 0.0116)">A</text>
<text x="0" y="0" font-size="100" font-weight="bold" fill="#c8231f" transform="translate(561.41 23.09) scale(0.1483 0.0100)">U</text>
<text x="0" y="0" font-size="100" font-weight="bold" fill="#3a48c8" transform="translate(561.74 24.19) scale(0.1363 0.0141)">C</text>
<text x="0" y="0" font-size="100" font-weight="bold" fill="#c8231f" transform="translate(570.74 14.53) scale(0.1433 0.0789)">U</text>
<text x="0" y="0" font-size="100" font-weight="bold" fill="#5fd22c" transform="translate(571.28 19.11) scale(0.1284 0.0597)">A</text>
<text x="0" y="0" font-size="100" font-weight="bold" fill="#eaa22e" transform="translate(571.08 21.57) scale(0.1276 0.0339)">G</text>
<text x="0" y="0" font-size="100" font-weight="bold" fill="#3a48c8" transform="translate(571.06 23.97) scale(0.1317 0.0297)">C</text>
<path d="M540.80 61.70 L574.35 55.06 A34.20 34.20 0 0 1 575.00 62.13 Z" fill="#a8d2de" stroke="#333" stroke-width="0.55"/>
<path d="M540.80 61.70 L575.00 62.13 A34.20 34.20 0 0 1 574.96 63.37 Z" fill="#c8282a" stroke="#333" stroke-width="0.55"/>
<path d="M540.80 61.70 L574.96 63.37 A34.20 34.20 0 0 1 574.70 66.20 Z" fill="#f4a3ab" stroke="#333" stroke-width="0.55"/>
<path d="M540.80 61.70 L574.70 66.20 A34.20 34.20 0 0 1 574.12 69.41 Z" fill="#3c9e3a" stroke="#333" stroke-width="0.55"/>
<path d="M540.80 61.70 L574.12 69.41 A34.20 34.20 0 0 1 553.25 93.55 Z" fill="#c9f2a0" stroke="#333" stroke-width="0.55"/>
<path d="M540.80 61.70 L553.25 93.55 A34.20 34.20 0 1 1 574.35 55.06 Z" fill="#4a7aa8" stroke="#333" stroke-width="0.55"/>
<rect x="582.9" y="32" width="4" height="4" fill="#a8d2de" stroke="#333" stroke-width="0.4"/>
<text x="592" y="35.8" font-size="5.1" text-anchor="start" fill="#222" stroke="#222" stroke-width="0.08">utr5 (3.31%)</text>
<rect x="582.9" y="38.42" width="4" height="4" fill="#4a7aa8" stroke="#333" stroke-width="0.4"/>
<text x="592" y="42.22" font-size="5.1" text-anchor="start" fill="#222" stroke="#222" stroke-width="0.08">cds (77.82%)</text>
<rect x="582.9" y="44.84" width="4" height="4" fill="#c9f2a0" stroke="#333" stroke-width="0.4"/>
<text x="592" y="48.64" font-size="5.1" text-anchor="start" fill="#222" stroke="#222" stroke-width="0.08">utr3 (15.45%)</text>
<rect x="582.9" y="51.26" width="4" height="4" fill="#3c9e3a" stroke="#333" stroke-width="0.4"/>
<text x="592" y="55.06" font-size="5.1" text-anchor="start" fill="#222" stroke="#222" stroke-width="0.08">npExon (1.52%)</text>
<rect x="582.9" y="57.68" width="4" height="4" fill="#f4a3ab" stroke="#333" stroke-width="0.4"/>
<text x="592" y="61.48" font-size="5.1" text-anchor="start" fill="#222" stroke="#222" stroke-width="0.08">prIntron (1.32%)</text>
<rect x="582.9" y="64.1" width="4" height="4" fill="#c8282a" stroke="#333" stroke-width="0.4"/>
<text x="592" y="67.9" font-size="5.1" text-anchor="start" fill="#222" stroke="#222" stroke-width="0.08">npIntron (0.58%)</text>
<text x="490.3" y="110" font-size="10.5" font-weight="bold" text-anchor="start" fill="#000" stroke="#000" stroke-width="0.12">D</text>
<circle cx="533.8" cy="149" r="32.4" fill="#ea7680" stroke="#333" stroke-width="0.6"/>
<circle cx="571.2" cy="149" r="32.5" fill="#b9e2e8" stroke="#333" stroke-width="0.6"/>
<clipPath id="cl1"><circle cx="533.8" cy="149" r="32.4"/></clipPath>
<circle cx="571.2" cy="149" r="32.5" fill="#d5a7b1" clip-path="url(#cl1)"/>
<circle cx="533.8" cy="149" r="32.4" fill="none" stroke="#333" stroke-width="0.6"/>
<circle cx="571.2" cy="149" r="32.5" fill="none" stroke="#333" stroke-width="0.6"/>
<text x="518.9" y="112.6" font-size="6" font-weight="bold" text-anchor="middle" fill="#111" stroke="#111" stroke-width="0.12">YBX1 KD</text>
<text x="587.8" y="112.6" font-size="6" font-weight="bold" text-anchor="middle" fill="#111" stroke="#111" stroke-width="0.12">YBX1 LACE-seq</text>
<text x="522.4" y="151.3" font-size="6.4" text-anchor="middle" fill="#111" stroke="#111" stroke-width="0.22">508</text>
<text x="551" y="151.3" font-size="6.4" text-anchor="middle" fill="#111" stroke="#111" stroke-width="0.22">132</text>
<text x="580.2" y="151.3" font-size="6.4" text-anchor="middle" fill="#111" stroke="#111" stroke-width="0.22">4802</text>
<text x="2.6" y="207.2" font-size="10.5" font-weight="bold" text-anchor="start" fill="#000" stroke="#000" stroke-width="0.12">E</text>
<rect x="31.7" y="269.4" width="3.2" height="53.6" fill="#787878"/>
<line x1="33.3" y1="269.4" x2="33.3" y2="267.79" stroke="#6a6a6a" stroke-width="0.6"/>
<line x1="32.4" y1="267.79" x2="34.2" y2="267.79" stroke="#6a6a6a" stroke-width="0.6"/>
<rect x="36.7" y="307.99" width="3.2" height="15.01" fill="#8edcb3"/>
<text x="38.3" y="307.89" font-size="4.4" font-weight="bold" text-anchor="middle" fill="#111" stroke="#111" stroke-width="0.15">**</text>
<rect x="41.7" y="306.38" width="3.2" height="16.62" fill="#8a8fc2"/>
<line x1="43.3" y1="306.38" x2="43.3" y2="304.78" stroke="#7a80b8" stroke-width="0.6"/>
<line x1="42.4" y1="304.78" x2="44.2" y2="304.78" stroke="#7a80b8" stroke-width="0.6"/>
<text x="43.3" y="304.68" font-size="4.4" font-weight="bold" text-anchor="middle" fill="#111" stroke="#111" stroke-width="0.15">**</text>
<line x1="38.3" y1="323" x2="38.3" y2="326.8" stroke="#222" stroke-width="0.9"/>
<text x="39.8" y="332.9" font-size="6.75" font-weight="bold" text-anchor="end" fill="#111" stroke="#111" stroke-width="0.05" transform="rotate(-45 39.8 332.9)">YBX-1</text>
<rect x="49.15" y="268.33" width="3.2" height="54.67" fill="#787878"/>
<line x1="50.75" y1="268.33" x2="50.75" y2="256" stroke="#6a6a6a" stroke-width="0.6"/>
<line x1="49.85" y1="256" x2="51.65" y2="256" stroke="#6a6a6a" stroke-width="0.6"/>
<rect x="54.15" y="309.6" width="3.2" height="13.4" fill="#8edcb3"/>
<line x1="55.75" y1="309.6" x2="55.75" y2="303.17" stroke="#7ccc9f" stroke-width="0.6"/>
<line x1="54.85" y1="303.17" x2="56.65" y2="303.17" stroke="#7ccc9f" stroke-width="0.6"/>
<text x="55.75" y="303.07" font-size="4.4" font-weight="bold" text-anchor="middle" fill="#111" stroke="#111" stroke-width="0.15">**</text>
<rect x="59.15" y="301.02" width="3.2" height="21.98" fill="#8a8fc2"/>
<line x1="60.75" y1="301.02" x2="60.75" y2="295.13" stroke="#7a80b8" stroke-width="0.6"/>
<line x1="59.85" y1="295.13" x2="61.65" y2="295.13" stroke="#7a80b8" stroke-width="0.6"/>
<text x="60.75" y="295.03" font-size="4.4" font-weight="bold" text-anchor="middle" fill="#111" stroke="#111" stroke-width="0.15">**</text>
<line x1="55.75" y1="323" x2="55.75" y2="326.8" stroke="#222" stroke-width="0.9"/>
<text x="57.25" y="332.9" font-size="6.75" font-weight="bold" text-anchor="end" fill="#111" stroke="#111" stroke-width="0.05" transform="rotate(-45 57.25 332.9)">FGF9</text>
<rect x="66.6" y="269.4" width="3.2" height="53.6" fill="#787878"/>
<line x1="68.2" y1="269.4" x2="68.2" y2="264.04" stroke="#6a6a6a" stroke-width="0.6"/>
<line x1="67.3" y1="264.04" x2="69.1" y2="264.04" stroke="#6a6a6a" stroke-width="0.6"/>
<rect x="71.6" y="317.64" width="3.2" height="5.36" fill="#8edcb3"/>
<text x="73.2" y="317.54" font-size="4.4" font-weight="bold" text-anchor="middle" fill="#111" stroke="#111" stroke-width="0.15">***</text>
<rect x="76.6" y="316.57" width="3.2" height="6.43" fill="#8a8fc2"/>
<text x="78.2" y="316.47" font-size="4.4" font-weight="bold" text-anchor="middle" fill="#111" stroke="#111" stroke-width="0.15">***</text>
<line x1="73.2" y1="323" x2="73.2" y2="326.8" stroke="#222" stroke-width="0.9"/>
<text x="74.7" y="332.9" font-size="6.75" font-weight="bold" text-anchor="end" fill="#111" stroke="#111" stroke-width="0.05" transform="rotate(-45 74.7 332.9)">GAS6</text>
<rect x="84.05" y="269.4" width="3.2" height="53.6" fill="#787878"/>
<line x1="85.65" y1="269.4" x2="85.65" y2="267.26" stroke="#6a6a6a" stroke-width="0.6"/>
<line x1="84.75" y1="267.26" x2="86.55" y2="267.26" stroke="#6a6a6a" stroke-width="0.6"/>
<rect x="89.05" y="310.67" width="3.2" height="12.33" fill="#8edcb3"/>
<line x1="90.65" y1="310.67" x2="90.65" y2="306.92" stroke="#7ccc9f" stroke-width="0.6"/>
<line x1="89.75" y1="306.92" x2="91.55" y2="306.92" stroke="#7ccc9f" stroke-width="0.6"/>
<text x="90.65" y="306.82" font-size="4.4" font-weight="bold" text-anchor="middle" fill="#111" stroke="#111" stroke-width="0.15">**</text>
<rect x="94.05" y="295.66" width="3.2" height="27.34" fill="#8a8fc2"/>
<line x1="95.65" y1="295.66" x2="95.65" y2="281.73" stroke="#7a80b8" stroke-width="0.6"/>
<line x1="94.75" y1="281.73" x2="96.55" y2="281.73" stroke="#7a80b8" stroke-width="0.6"/>
<text x="95.65" y="281.63" font-size="4.4" font-weight="bold" text-anchor="middle" fill="#111" stroke="#111" stroke-width="0.15">*</text>
<line x1="90.65" y1="323" x2="90.65" y2="326.8" stroke="#222" stroke-width="0.9"/>
<text x="92.15" y="332.9" font-size="6.75" font-weight="bold" text-anchor="end" fill="#111" stroke="#111" stroke-width="0.05" transform="rotate(-45 92.15 332.9)">USP13</text>
<rect x="101.5" y="269.4" width="3.2" height="53.6" fill="#787878"/>
<line x1="103.1" y1="269.4" x2="103.1" y2="261.36" stroke="#6a6a6a" stroke-width="0.6"/>
<line x1="102.2" y1="261.36" x2="104" y2="261.36" stroke="#6a6a6a" stroke-width="0.6"/>
<rect x="106.5" y="235.63" width="3.2" height="87.37" fill="#8edcb3"/>
<line x1="108.1" y1="235.63" x2="108.1" y2="230.81" stroke="#7ccc9f" stroke-width="0.6"/>
<line x1="107.2" y1="230.81" x2="109" y2="230.81" stroke="#7ccc9f" stroke-width="0.6"/>
<rect x="111.5" y="225.98" width="3.2" height="97.02" fill="#8a8fc2"/>
<line x1="113.1" y1="225.98" x2="113.1" y2="220.09" stroke="#7a80b8" stroke-width="0.6"/>
<line x1="112.2" y1="220.09" x2="114" y2="220.09" stroke="#7a80b8" stroke-width="0.6"/>
<line x1="108.1" y1="323" x2="108.1" y2="326.8" stroke="#222" stroke-width="0.9"/>
<text x="109.6" y="332.9" font-size="6.75" font-weight="bold" text-anchor="end" fill="#111" stroke="#111" stroke-width="0.05" transform="rotate(-45 109.6 332.9)">SKA3</text>
<rect x="118.95" y="269.4" width="3.2" height="53.6" fill="#787878"/>
<line x1="120.55" y1="269.4" x2="120.55" y2="266.18" stroke="#6a6a6a" stroke-width="0.6"/>
<line x1="119.65" y1="266.18" x2="121.45" y2="266.18" stroke="#6a6a6a" stroke-width="0.6"/>
<rect x="123.95" y="314.42" width="3.2" height="8.58" fill="#8edcb3"/>
<text x="125.55" y="314.32" font-size="4.4" font-weight="bold" text-anchor="middle" fill="#111" stroke="#111" stroke-width="0.15">***</text>
<rect x="128.95" y="309.6" width="3.2" height="13.4" fill="#8a8fc2"/>
<text x="130.55" y="309.5" font-size="4.4" font-weight="bold" text-anchor="middle" fill="#111" stroke="#111" stroke-width="0.15">**</text>
<line x1="125.55" y1="323" x2="125.55" y2="326.8" stroke="#222" stroke-width="0.9"/>
<text x="127.05" y="332.9" font-size="6.75" font-weight="bold" text-anchor="end" fill="#111" stroke="#111" stroke-width="0.05" transform="rotate(-45 127.05 332.9)">EREG</text>
<rect x="136.4" y="269.4" width="3.2" height="53.6" fill="#787878"/>
<line x1="138" y1="269.4" x2="138" y2="265.11" stroke="#6a6a6a" stroke-width="0.6"/>
<line x1="137.1" y1="265.11" x2="138.9" y2="265.11" stroke="#6a6a6a" stroke-width="0.6"/>
<rect x="141.4" y="309.06" width="3.2" height="13.94" fill="#8edcb3"/>
<text x="143" y="308.96" font-size="4.4" font-weight="bold" text-anchor="middle" fill="#111" stroke="#111" stroke-width="0.15">**</text>
<rect x="146.4" y="301.02" width="3.2" height="21.98" fill="#8a8fc2"/>
<line x1="148" y1="301.02" x2="148" y2="299.95" stroke="#7a80b8" stroke-width="0.6"/>
<line x1="147.1" y1="299.95" x2="148.9" y2="299.95" stroke="#7a80b8" stroke-width="0.6"/>
<text x="148" y="299.85" font-size="4.4" font-weight="bold" text-anchor="middle" fill="#111" stroke="#111" stroke-width="0.15">**</text>
<line x1="143" y1="323" x2="143" y2="326.8" stroke="#222" stroke-width="0.9"/>
<text x="144.5" y="332.9" font-size="6.75" font-weight="bold" text-anchor="end" fill="#111" stroke="#111" stroke-width="0.05" transform="rotate(-45 144.5 332.9)">NCAPG</text>
<rect x="153.85" y="268.86" width="3.2" height="54.14" fill="#787878"/>
<line x1="155.45" y1="268.86" x2="155.45" y2="262.97" stroke="#6a6a6a" stroke-width="0.6"/>
<line x1="154.55" y1="262.97" x2="156.35" y2="262.97" stroke="#6a6a6a" stroke-width="0.6"/>
<rect x="158.85" y="312.28" width="3.2" height="10.72" fill="#8edcb3"/>
<text x="160.45" y="312.18" font-size="4.4" font-weight="bold" text-anchor="middle" fill="#111" stroke="#111" stroke-width="0.15">**</text>
<rect x="163.85" y="312.82" width="3.2" height="10.18" fill="#8a8fc2"/>
<line x1="165.45" y1="312.82" x2="165.45" y2="310.14" stroke="#7a80b8" stroke-width="0.6"/>
<line x1="164.55" y1="310.14" x2="166.35" y2="310.14" stroke="#7a80b8" stroke-width="0.6"/>
<text x="165.45" y="310.04" font-size="4.4" font-weight="bold" text-anchor="middle" fill="#111" stroke="#111" stroke-width="0.15">**</text>
<line x1="160.45" y1="323" x2="160.45" y2="326.8" stroke="#222" stroke-width="0.9"/>
<text x="161.95" y="332.9" font-size="6.75" font-weight="bold" text-anchor="end" fill="#111" stroke="#111" stroke-width="0.05" transform="rotate(-45 161.95 332.9)">PPT1</text>
<rect x="171.3" y="269.4" width="3.2" height="53.6" fill="#787878"/>
<line x1="172.9" y1="269.4" x2="172.9" y2="267.26" stroke="#6a6a6a" stroke-width="0.6"/>
<line x1="172" y1="267.26" x2="173.8" y2="267.26" stroke="#6a6a6a" stroke-width="0.6"/>
<rect x="176.3" y="304.78" width="3.2" height="18.22" fill="#8edcb3"/>
<line x1="177.9" y1="304.78" x2="177.9" y2="299.95" stroke="#7ccc9f" stroke-width="0.6"/>
<line x1="177" y1="299.95" x2="178.8" y2="299.95" stroke="#7ccc9f" stroke-width="0.6"/>
<text x="177.9" y="299.85" font-size="4.4" font-weight="bold" text-anchor="middle" fill="#111" stroke="#111" stroke-width="0.15">**</text>
<rect x="181.3" y="301.02" width="3.2" height="21.98" fill="#8a8fc2"/>
<line x1="182.9" y1="301.02" x2="182.9" y2="298.88" stroke="#7a80b8" stroke-width="0.6"/>
<line x1="182" y1="298.88" x2="183.8" y2="298.88" stroke="#7a80b8" stroke-width="0.6"/>
<text x="182.9" y="298.78" font-size="4.4" font-weight="bold" text-anchor="middle" fill="#111" stroke="#111" stroke-width="0.15">**</text>
<line x1="177.9" y1="323" x2="177.9" y2="326.8" stroke="#222" stroke-width="0.9"/>
<text x="179.4" y="332.9" font-size="6.75" font-weight="bold" text-anchor="end" fill="#111" stroke="#111" stroke-width="0.05" transform="rotate(-45 179.4 332.9)">USP24</text>
<rect x="188.75" y="269.4" width="3.2" height="53.6" fill="#787878"/>
<line x1="190.35" y1="269.4" x2="190.35" y2="265.65" stroke="#6a6a6a" stroke-width="0.6"/>
<line x1="189.45" y1="265.65" x2="191.25" y2="265.65" stroke="#6a6a6a" stroke-width="0.6"/>
<rect x="193.75" y="297.27" width="3.2" height="25.73" fill="#8edcb3"/>
<text x="195.35" y="297.17" font-size="4.4" font-weight="bold" text-anchor="middle" fill="#111" stroke="#111" stroke-width="0.15">*</text>
<rect x="198.75" y="311.74" width="3.2" height="11.26" fill="#8a8fc2"/>
<line x1="200.35" y1="311.74" x2="200.35" y2="310.67" stroke="#7a80b8" stroke-width="0.6"/>
<line x1="199.45" y1="310.67" x2="201.25" y2="310.67" stroke="#7a80b8" stroke-width="0.6"/>
<text x="200.35" y="310.57" font-size="4.4" font-weight="bold" text-anchor="middle" fill="#111" stroke="#111" stroke-width="0.15">**</text>
<line x1="195.35" y1="323" x2="195.35" y2="326.8" stroke="#222" stroke-width="0.9"/>
<text x="196.85" y="332.9" font-size="6.75" font-weight="bold" text-anchor="end" fill="#111" stroke="#111" stroke-width="0.05" transform="rotate(-45 196.85 332.9)">MAFG</text>
<line x1="30.5" y1="215.3" x2="30.5" y2="323.5" stroke="#222" stroke-width="1"/>
<line x1="30" y1="323" x2="204.7" y2="323" stroke="#333" stroke-width="1"/>
<line x1="26.5" y1="323" x2="30.5" y2="323" stroke="#222" stroke-width="0.9"/>
<text x="25.3" y="325.5" font-size="7" font-weight="bold" text-anchor="end" fill="#111" stroke="#111" stroke-width="0.12">0.0</text>
<line x1="26.5" y1="296.2" x2="30.5" y2="296.2" stroke="#222" stroke-width="0.9"/>
<text x="25.3" y="298.7" font-size="7" font-weight="bold" text-anchor="end" fill="#111" stroke="#111" stroke-width="0.12">0.5</text>
<line x1="26.5" y1="269.4" x2="30.5" y2="269.4" stroke="#222" stroke-width="0.9"/>
<text x="25.3" y="271.9" font-size="7" font-weight="bold" text-anchor="end" fill="#111" stroke="#111" stroke-width="0.12">1.0</text>
<line x1="26.5" y1="242.6" x2="30.5" y2="242.6" stroke="#222" stroke-width="0.9"/>
<text x="25.3" y="245.1" font-size="7" font-weight="bold" text-anchor="end" fill="#111" stroke="#111" stroke-width="0.12">1.5</text>
<line x1="26.5" y1="215.8" x2="30.5" y2="215.8" stroke="#222" stroke-width="0.9"/>
<text x="25.3" y="218.3" font-size="7" font-weight="bold" text-anchor="end" fill="#111" stroke="#111" stroke-width="0.12">2.0</text>
<text x="117.6" y="217.6" font-size="7.5" font-weight="bold" text-anchor="middle" fill="#111" stroke="#111" stroke-width="0.12">HT-29</text>
<rect x="36.1" y="215.75" width="10.8" height="3.5" fill="#787878"/>
<text x="52.7" y="219.8" font-size="6.4" font-weight="bold" text-anchor="start" fill="#111" stroke="#111" stroke-width="0.12">siNC</text>
<rect x="36.1" y="224.55" width="10.8" height="3.5" fill="#8edcb3"/>
<text x="52.7" y="228.6" font-size="6.4" font-weight="bold" text-anchor="start" fill="#111" stroke="#111" stroke-width="0.12">siYBX1-1</text>
<rect x="36.1" y="233.35" width="10.8" height="3.5" fill="#8a8fc2"/>
<text x="52.7" y="237.4" font-size="6.4" font-weight="bold" text-anchor="start" fill="#111" stroke="#111" stroke-width="0.12">siYBX1-2</text>
<text x="6.5" y="269.9" font-size="7.9" font-weight="bold" text-anchor="middle" fill="#111" stroke="#111" stroke-width="0.12" transform="rotate(-90 6.5 269.9)">Relative mRNA expression</text>
<rect x="252.1" y="252.2" width="3.2" height="71.4" fill="#787878"/>
<line x1="253.7" y1="252.2" x2="253.7" y2="250.06" stroke="#6a6a6a" stroke-width="0.6"/>
<line x1="252.8" y1="250.06" x2="254.6" y2="250.06" stroke="#6a6a6a" stroke-width="0.6"/>
<rect x="256.8" y="316.46" width="3.2" height="7.14" fill="#8edcb3"/>
<line x1="258.4" y1="316.46" x2="258.4" y2="314.32" stroke="#7ccc9f" stroke-width="0.6"/>
<line x1="257.5" y1="314.32" x2="259.3" y2="314.32" stroke="#7ccc9f" stroke-width="0.6"/>
<text x="258.4" y="314.22" font-size="4.4" font-weight="bold" text-anchor="middle" fill="#111" stroke="#111" stroke-width="0.15">***</text>
<rect x="261.5" y="315.75" width="3.2" height="7.85" fill="#8a8fc2"/>
<line x1="263.1" y1="315.75" x2="263.1" y2="315.03" stroke="#7a80b8" stroke-width="0.6"/>
<line x1="262.2" y1="315.03" x2="264" y2="315.03" stroke="#7a80b8" stroke-width="0.6"/>
<text x="263.1" y="314.93" font-size="4.4" font-weight="bold" text-anchor="middle" fill="#111" stroke="#111" stroke-width="0.15">***</text>
<line x1="258.4" y1="323.6" x2="258.4" y2="327.4" stroke="#222" stroke-width="0.9"/>
<text x="259.9" y="333.5" font-size="6.75" font-weight="bold" text-anchor="end" fill="#111" stroke="#111" stroke-width="0.05" transform="rotate(-45 259.9 333.5)">YBX-1</text>
<rect x="269.4" y="250.77" width="3.2" height="72.83" fill="#787878"/>
<line x1="271" y1="250.77" x2="271" y2="235.78" stroke="#6a6a6a" stroke-width="0.6"/>
<line x1="270.1" y1="235.78" x2="271.9" y2="235.78" stroke="#6a6a6a" stroke-width="0.6"/>
<rect x="274.1" y="287.9" width="3.2" height="35.7" fill="#8edcb3"/>
<line x1="275.7" y1="287.9" x2="275.7" y2="281.47" stroke="#7ccc9f" stroke-width="0.6"/>
<line x1="274.8" y1="281.47" x2="276.6" y2="281.47" stroke="#7ccc9f" stroke-width="0.6"/>
<text x="275.7" y="281.37" font-size="4.4" font-weight="bold" text-anchor="middle" fill="#111" stroke="#111" stroke-width="0.15">**</text>
<rect x="278.8" y="295.75" width="3.2" height="27.85" fill="#8a8fc2"/>
<line x1="280.4" y1="295.75" x2="280.4" y2="287.9" stroke="#7a80b8" stroke-width="0.6"/>
<line x1="279.5" y1="287.9" x2="281.3" y2="287.9" stroke="#7a80b8" stroke-width="0.6"/>
<text x="280.4" y="287.8" font-size="4.4" font-weight="bold" text-anchor="middle" fill="#111" stroke="#111" stroke-width="0.15">**</text>
<line x1="275.7" y1="323.6" x2="275.7" y2="327.4" stroke="#222" stroke-width="0.9"/>
<text x="277.2" y="333.5" font-size="6.75" font-weight="bold" text-anchor="end" fill="#111" stroke="#111" stroke-width="0.05" transform="rotate(-45 277.2 333.5)">FGF9</text>
<rect x="286.7" y="252.2" width="3.2" height="71.4" fill="#787878"/>
<line x1="288.3" y1="252.2" x2="288.3" y2="247.2" stroke="#6a6a6a" stroke-width="0.6"/>
<line x1="287.4" y1="247.2" x2="289.2" y2="247.2" stroke="#6a6a6a" stroke-width="0.6"/>
<rect x="291.4" y="318.6" width="3.2" height="5" fill="#8edcb3"/>
<text x="293" y="318.5" font-size="4.4" font-weight="bold" text-anchor="middle" fill="#111" stroke="#111" stroke-width="0.15">***</text>
<rect x="296.1" y="318.6" width="3.2" height="5" fill="#8a8fc2"/>
<text x="297.7" y="318.5" font-size="4.4" font-weight="bold" text-anchor="middle" fill="#111" stroke="#111" stroke-width="0.15">***</text>
<line x1="293" y1="323.6" x2="293" y2="327.4" stroke="#222" stroke-width="0.9"/>
<text x="294.5" y="333.5" font-size="6.75" font-weight="bold" text-anchor="end" fill="#111" stroke="#111" stroke-width="0.05" transform="rotate(-45 294.5 333.5)">GAS6</text>
<rect x="304" y="252.2" width="3.2" height="71.4" fill="#787878"/>
<line x1="305.6" y1="252.2" x2="305.6" y2="250.06" stroke="#6a6a6a" stroke-width="0.6"/>
<line x1="304.7" y1="250.06" x2="306.5" y2="250.06" stroke="#6a6a6a" stroke-width="0.6"/>
<rect x="308.7" y="307.89" width="3.2" height="15.71" fill="#8edcb3"/>
<line x1="310.3" y1="307.89" x2="310.3" y2="303.61" stroke="#7ccc9f" stroke-width="0.6"/>
<line x1="309.4" y1="303.61" x2="311.2" y2="303.61" stroke="#7ccc9f" stroke-width="0.6"/>
<text x="310.3" y="303.51" font-size="4.4" font-weight="bold" text-anchor="middle" fill="#111" stroke="#111" stroke-width="0.15">**</text>
<rect x="313.4" y="296.47" width="3.2" height="27.13" fill="#8a8fc2"/>
<line x1="315" y1="296.47" x2="315" y2="292.18" stroke="#7a80b8" stroke-width="0.6"/>
<line x1="314.1" y1="292.18" x2="315.9" y2="292.18" stroke="#7a80b8" stroke-width="0.6"/>
<text x="315" y="292.08" font-size="4.4" font-weight="bold" text-anchor="middle" fill="#111" stroke="#111" stroke-width="0.15">**</text>
<line x1="310.3" y1="323.6" x2="310.3" y2="327.4" stroke="#222" stroke-width="0.9"/>
<text x="311.8" y="333.5" font-size="6.75" font-weight="bold" text-anchor="end" fill="#111" stroke="#111" stroke-width="0.05" transform="rotate(-45 311.8 333.5)">USP13</text>
<rect x="321.3" y="252.2" width="3.2" height="71.4" fill="#787878"/>
<line x1="322.9" y1="252.2" x2="322.9" y2="242.2" stroke="#6a6a6a" stroke-width="0.6"/>
<line x1="322" y1="242.2" x2="323.8" y2="242.2" stroke="#6a6a6a" stroke-width="0.6"/>
<rect x="326" y="261.48" width="3.2" height="62.12" fill="#8edcb3"/>
<line x1="327.6" y1="261.48" x2="327.6" y2="251.49" stroke="#7ccc9f" stroke-width="0.6"/>
<line x1="326.7" y1="251.49" x2="328.5" y2="251.49" stroke="#7ccc9f" stroke-width="0.6"/>
<rect x="330.7" y="244.35" width="3.2" height="79.25" fill="#8a8fc2"/>
<line x1="332.3" y1="244.35" x2="332.3" y2="237.92" stroke="#7a80b8" stroke-width="0.6"/>
<line x1="331.4" y1="237.92" x2="333.2" y2="237.92" stroke="#7a80b8" stroke-width="0.6"/>
<line x1="327.6" y1="323.6" x2="327.6" y2="327.4" stroke="#222" stroke-width="0.9"/>
<text x="329.1" y="333.5" font-size="6.75" font-weight="bold" text-anchor="end" fill="#111" stroke="#111" stroke-width="0.05" transform="rotate(-45 329.1 333.5)">SKA3</text>
<rect x="338.6" y="252.2" width="3.2" height="71.4" fill="#787878"/>
<line x1="340.2" y1="252.2" x2="340.2" y2="248.63" stroke="#6a6a6a" stroke-width="0.6"/>
<line x1="339.3" y1="248.63" x2="341.1" y2="248.63" stroke="#6a6a6a" stroke-width="0.6"/>
<rect x="343.3" y="308.61" width="3.2" height="14.99" fill="#8edcb3"/>
<line x1="344.9" y1="308.61" x2="344.9" y2="305.75" stroke="#7ccc9f" stroke-width="0.6"/>
<line x1="344" y1="305.75" x2="345.8" y2="305.75" stroke="#7ccc9f" stroke-width="0.6"/>
<text x="344.9" y="305.65" font-size="4.4" font-weight="bold" text-anchor="middle" fill="#111" stroke="#111" stroke-width="0.15">**</text>
<rect x="348" y="305.75" width="3.2" height="17.85" fill="#8a8fc2"/>
<line x1="349.6" y1="305.75" x2="349.6" y2="302.18" stroke="#7a80b8" stroke-width="0.6"/>
<line x1="348.7" y1="302.18" x2="350.5" y2="302.18" stroke="#7a80b8" stroke-width="0.6"/>
<text x="349.6" y="302.08" font-size="4.4" font-weight="bold" text-anchor="middle" fill="#111" stroke="#111" stroke-width="0.15">**</text>
<line x1="344.9" y1="323.6" x2="344.9" y2="327.4" stroke="#222" stroke-width="0.9"/>
<text x="346.4" y="333.5" font-size="6.75" font-weight="bold" text-anchor="end" fill="#111" stroke="#111" stroke-width="0.05" transform="rotate(-45 346.4 333.5)">EREG</text>
<rect x="355.9" y="252.2" width="3.2" height="71.4" fill="#787878"/>
<line x1="357.5" y1="252.2" x2="357.5" y2="248.63" stroke="#6a6a6a" stroke-width="0.6"/>
<line x1="356.6" y1="248.63" x2="358.4" y2="248.63" stroke="#6a6a6a" stroke-width="0.6"/>
<rect x="360.6" y="295.04" width="3.2" height="28.56" fill="#8edcb3"/>
<line x1="362.2" y1="295.04" x2="362.2" y2="291.47" stroke="#7ccc9f" stroke-width="0.6"/>
<line x1="361.3" y1="291.47" x2="363.1" y2="291.47" stroke="#7ccc9f" stroke-width="0.6"/>
<text x="362.2" y="291.37" font-size="4.4" font-weight="bold" text-anchor="middle" fill="#111" stroke="#111" stroke-width="0.15">**</text>
<rect x="365.3" y="305.75" width="3.2" height="17.85" fill="#8a8fc2"/>
<line x1="366.9" y1="305.75" x2="366.9" y2="302.18" stroke="#7a80b8" stroke-width="0.6"/>
<line x1="366" y1="302.18" x2="367.8" y2="302.18" stroke="#7a80b8" stroke-width="0.6"/>
<text x="366.9" y="302.08" font-size="4.4" font-weight="bold" text-anchor="middle" fill="#111" stroke="#111" stroke-width="0.15">**</text>
<line x1="362.2" y1="323.6" x2="362.2" y2="327.4" stroke="#222" stroke-width="0.9"/>
<text x="363.7" y="333.5" font-size="6.75" font-weight="bold" text-anchor="end" fill="#111" stroke="#111" stroke-width="0.05" transform="rotate(-45 363.7 333.5)">NCAPG</text>
<rect x="373.2" y="251.49" width="3.2" height="72.11" fill="#787878"/>
<line x1="374.8" y1="251.49" x2="374.8" y2="239.35" stroke="#6a6a6a" stroke-width="0.6"/>
<line x1="373.9" y1="239.35" x2="375.7" y2="239.35" stroke="#6a6a6a" stroke-width="0.6"/>
<rect x="377.9" y="310.75" width="3.2" height="12.85" fill="#8edcb3"/>
<text x="379.5" y="310.65" font-size="4.4" font-weight="bold" text-anchor="middle" fill="#111" stroke="#111" stroke-width="0.15">**</text>
<rect x="382.6" y="310.03" width="3.2" height="13.57" fill="#8a8fc2"/>
<line x1="384.2" y1="310.03" x2="384.2" y2="306.46" stroke="#7a80b8" stroke-width="0.6"/>
<line x1="383.3" y1="306.46" x2="385.1" y2="306.46" stroke="#7a80b8" stroke-width="0.6"/>
<text x="384.2" y="306.36" font-size="4.4" font-weight="bold" text-anchor="middle" fill="#111" stroke="#111" stroke-width="0.15">**</text>
<line x1="379.5" y1="323.6" x2="379.5" y2="327.4" stroke="#222" stroke-width="0.9"/>
<text x="381" y="333.5" font-size="6.75" font-weight="bold" text-anchor="end" fill="#111" stroke="#111" stroke-width="0.05" transform="rotate(-45 381 333.5)">PPT1</text>
<rect x="390.5" y="252.2" width="3.2" height="71.4" fill="#787878"/>
<line x1="392.1" y1="252.2" x2="392.1" y2="250.06" stroke="#6a6a6a" stroke-width="0.6"/>
<line x1="391.2" y1="250.06" x2="393" y2="250.06" stroke="#6a6a6a" stroke-width="0.6"/>
<rect x="395.2" y="293.61" width="3.2" height="29.99" fill="#8edcb3"/>
<line x1="396.8" y1="293.61" x2="396.8" y2="291.47" stroke="#7ccc9f" stroke-width="0.6"/>
<line x1="395.9" y1="291.47" x2="397.7" y2="291.47" stroke="#7ccc9f" stroke-width="0.6"/>
<text x="396.8" y="291.37" font-size="4.4" font-weight="bold" text-anchor="middle" fill="#111" stroke="#111" stroke-width="0.15">**</text>
<rect x="399.9" y="283.62" width="3.2" height="39.98" fill="#8a8fc2"/>
<line x1="401.5" y1="283.62" x2="401.5" y2="276.48" stroke="#7a80b8" stroke-width="0.6"/>
<line x1="400.6" y1="276.48" x2="402.4" y2="276.48" stroke="#7a80b8" stroke-width="0.6"/>
<text x="401.5" y="276.38" font-size="4.4" font-weight="bold" text-anchor="middle" fill="#111" stroke="#111" stroke-width="0.15">*</text>
<line x1="396.8" y1="323.6" x2="396.8" y2="327.4" stroke="#222" stroke-width="0.9"/>
<text x="398.3" y="333.5" font-size="6.75" font-weight="bold" text-anchor="end" fill="#111" stroke="#111" stroke-width="0.05" transform="rotate(-45 398.3 333.5)">USP24</text>
<rect x="407.8" y="252.2" width="3.2" height="71.4" fill="#787878"/>
<line x1="409.4" y1="252.2" x2="409.4" y2="244.35" stroke="#6a6a6a" stroke-width="0.6"/>
<line x1="408.5" y1="244.35" x2="410.3" y2="244.35" stroke="#6a6a6a" stroke-width="0.6"/>
<rect x="412.5" y="310.75" width="3.2" height="12.85" fill="#8edcb3"/>
<line x1="414.1" y1="310.75" x2="414.1" y2="305.75" stroke="#7ccc9f" stroke-width="0.6"/>
<line x1="413.2" y1="305.75" x2="415" y2="305.75" stroke="#7ccc9f" stroke-width="0.6"/>
<text x="414.1" y="305.65" font-size="4.4" font-weight="bold" text-anchor="middle" fill="#111" stroke="#111" stroke-width="0.15">**</text>
<rect x="417.2" y="301.47" width="3.2" height="22.13" fill="#8a8fc2"/>
<line x1="418.8" y1="301.47" x2="418.8" y2="297.18" stroke="#7a80b8" stroke-width="0.6"/>
<line x1="417.9" y1="297.18" x2="419.7" y2="297.18" stroke="#7a80b8" stroke-width="0.6"/>
<text x="418.8" y="297.08" font-size="4.4" font-weight="bold" text-anchor="middle" fill="#111" stroke="#111" stroke-width="0.15">***</text>
<line x1="414.1" y1="323.6" x2="414.1" y2="327.4" stroke="#222" stroke-width="0.9"/>
<text x="415.6" y="333.5" font-size="6.75" font-weight="bold" text-anchor="end" fill="#111" stroke="#111" stroke-width="0.05" transform="rotate(-45 415.6 333.5)">MAFG</text>
<line x1="250.5" y1="216" x2="250.5" y2="324.1" stroke="#222" stroke-width="1"/>
<line x1="250" y1="323.6" x2="422.6" y2="323.6" stroke="#333" stroke-width="1"/>
<line x1="246.5" y1="323.6" x2="250.5" y2="323.6" stroke="#222" stroke-width="0.9"/>
<text x="245.3" y="326.1" font-size="7" font-weight="bold" text-anchor="end" fill="#111" stroke="#111" stroke-width="0.12">0.0</text>
<line x1="246.5" y1="287.9" x2="250.5" y2="287.9" stroke="#222" stroke-width="0.9"/>
<text x="245.3" y="290.4" font-size="7" font-weight="bold" text-anchor="end" fill="#111" stroke="#111" stroke-width="0.12">0.5</text>
<line x1="246.5" y1="252.2" x2="250.5" y2="252.2" stroke="#222" stroke-width="0.9"/>
<text x="245.3" y="254.7" font-size="7" font-weight="bold" text-anchor="end" fill="#111" stroke="#111" stroke-width="0.12">1.0</text>
<line x1="246.5" y1="216.5" x2="250.5" y2="216.5" stroke="#222" stroke-width="0.9"/>
<text x="245.3" y="219" font-size="7" font-weight="bold" text-anchor="end" fill="#111" stroke="#111" stroke-width="0.12">1.5</text>
<text x="339.8" y="215.8" font-size="7.5" font-weight="bold" text-anchor="middle" fill="#111" stroke="#111" stroke-width="0.12">DLD-1</text>
<rect x="256" y="208.25" width="10.8" height="3.5" fill="#787878"/>
<text x="272.5" y="212.3" font-size="6.4" font-weight="bold" text-anchor="start" fill="#111" stroke="#111" stroke-width="0.12">siNC</text>
<rect x="256" y="218.1" width="10.8" height="3.5" fill="#8edcb3"/>
<text x="272.5" y="222.15" font-size="6.4" font-weight="bold" text-anchor="start" fill="#111" stroke="#111" stroke-width="0.12">siYBX1-1</text>
<rect x="256" y="227.95" width="10.8" height="3.5" fill="#8a8fc2"/>
<text x="272.5" y="232" font-size="6.4" font-weight="bold" text-anchor="start" fill="#111" stroke="#111" stroke-width="0.12">siYBX1-2</text>
<text x="226.6" y="270.55" font-size="7.9" font-weight="bold" text-anchor="middle" fill="#111" stroke="#111" stroke-width="0.12" transform="rotate(-90 226.6 270.55)">Relative mRNA expression</text>
<text x="430" y="207.4" font-size="10.5" font-weight="bold" text-anchor="start" fill="#000" stroke="#000" stroke-width="0.12">F</text>
<line x1="464.5" y1="228.8" x2="464.5" y2="290.6" stroke="#222" stroke-width="1"/>
<line x1="464.5" y1="297.7" x2="464.5" y2="324" stroke="#222" stroke-width="1"/>
<line x1="462.2" y1="293.2" x2="466.8" y2="290.8" stroke="#222" stroke-width="0.9"/>
<line x1="462.2" y1="297.9" x2="466.8" y2="295.5" stroke="#222" stroke-width="0.9"/>
<line x1="464" y1="323.5" x2="555.5" y2="323.5" stroke="#333" stroke-width="1"/>
<line x1="460.5" y1="279.4" x2="464.5" y2="279.4" stroke="#222" stroke-width="0.9"/>
<text x="459.9" y="281.8" font-size="6.9" font-weight="bold" text-anchor="end" fill="#111" stroke="#111" stroke-width="0.12">200</text>
<line x1="460.5" y1="266.8" x2="464.5" y2="266.8" stroke="#222" stroke-width="0.9"/>
<text x="459.9" y="269.2" font-size="6.9" font-weight="bold" text-anchor="end" fill="#111" stroke="#111" stroke-width="0.12">400</text>
<line x1="460.5" y1="254.2" x2="464.5" y2="254.2" stroke="#222" stroke-width="0.9"/>
<text x="459.9" y="256.6" font-size="6.9" font-weight="bold" text-anchor="end" fill="#111" stroke="#111" stroke-width="0.12">600</text>
<line x1="460.5" y1="241.6" x2="464.5" y2="241.6" stroke="#222" stroke-width="0.9"/>
<text x="459.9" y="244" font-size="6.9" font-weight="bold" text-anchor="end" fill="#111" stroke="#111" stroke-width="0.12">800</text>
<line x1="460.5" y1="229" x2="464.5" y2="229" stroke="#222" stroke-width="0.9"/>
<text x="459.9" y="231.4" font-size="6.9" font-weight="bold" text-anchor="end" fill="#111" stroke="#111" stroke-width="0.12">1000</text>
<line x1="460.5" y1="323.5" x2="464.5" y2="323.5" stroke="#222" stroke-width="0.9"/>
<text x="459.9" y="325.9" font-size="6.9" font-weight="bold" text-anchor="end" fill="#111" stroke="#111" stroke-width="0.12">0</text>
<line x1="460.5" y1="317.1" x2="464.5" y2="317.1" stroke="#222" stroke-width="0.9"/>
<text x="459.9" y="319.5" font-size="6.9" font-weight="bold" text-anchor="end" fill="#111" stroke="#111" stroke-width="0.12">5</text>
<line x1="460.5" y1="310.7" x2="464.5" y2="310.7" stroke="#222" stroke-width="0.9"/>
<text x="459.9" y="313.1" font-size="6.9" font-weight="bold" text-anchor="end" fill="#111" stroke="#111" stroke-width="0.12">10</text>
<line x1="460.5" y1="304.3" x2="464.5" y2="304.3" stroke="#222" stroke-width="0.9"/>
<text x="459.9" y="306.7" font-size="6.9" font-weight="bold" text-anchor="end" fill="#111" stroke="#111" stroke-width="0.12">15</text>
<line x1="460.5" y1="297.9" x2="464.5" y2="297.9" stroke="#222" stroke-width="0.9"/>
<text x="459.9" y="300.3" font-size="6.9" font-weight="bold" text-anchor="end" fill="#111" stroke="#111" stroke-width="0.12">20</text>
<rect x="468.4" y="322.1" width="7.8" height="1.4" fill="#1a1a1a"/>
<rect x="480" y="241.6" width="7.6" height="49" fill="#7a7a3b"/>
<rect x="480" y="297.7" width="7.6" height="25.8" fill="#7a7a3b"/>
<line x1="483.8" y1="241.6" x2="483.8" y2="235.3" stroke="#7a7a3b" stroke-width="0.8"/>
<line x1="482" y1="235.3" x2="485.6" y2="235.3" stroke="#7a7a3b" stroke-width="0.8"/>
<line x1="478" y1="323.5" x2="478" y2="327.2" stroke="#444" stroke-width="0.9"/>
<text x="478" y="334.3" font-size="6.9" font-weight="bold" text-anchor="middle" fill="#111" stroke="#111" stroke-width="0.12">EREG</text>
<rect x="499.4" y="322.1" width="7.8" height="1.4" fill="#1a1a1a"/>
<rect x="511" y="308.78" width="7.6" height="14.72" fill="#7a7a3b"/>
<line x1="514.8" y1="308.78" x2="514.8" y2="305.58" stroke="#7a7a3b" stroke-width="0.8"/>
<line x1="513" y1="305.58" x2="516.6" y2="305.58" stroke="#7a7a3b" stroke-width="0.8"/>
<line x1="509" y1="323.5" x2="509" y2="327.2" stroke="#444" stroke-width="0.9"/>
<text x="509" y="334.3" font-size="6.9" font-weight="bold" text-anchor="middle" fill="#111" stroke="#111" stroke-width="0.12">MAFG</text>
<rect x="530.4" y="322.1" width="7.8" height="1.4" fill="#1a1a1a"/>
<rect x="542" y="250.42" width="7.6" height="40.18" fill="#7a7a3b"/>
<rect x="542" y="297.7" width="7.6" height="25.8" fill="#7a7a3b"/>
<line x1="545.8" y1="250.42" x2="545.8" y2="244.75" stroke="#7a7a3b" stroke-width="0.8"/>
<line x1="544" y1="244.75" x2="547.6" y2="244.75" stroke="#7a7a3b" stroke-width="0.8"/>
<line x1="540" y1="323.5" x2="540" y2="327.2" stroke="#444" stroke-width="0.9"/>
<text x="540" y="334.3" font-size="6.9" font-weight="bold" text-anchor="middle" fill="#111" stroke="#111" stroke-width="0.12">GAS6</text>
<text x="509.2" y="216.6" font-size="7.2" font-weight="bold" text-anchor="middle" fill="#111" stroke="#111" stroke-width="0.12">HT-29</text>
<rect x="469.2" y="220.9" width="10.2" height="3.6" fill="#232323"/>
<text x="484.5" y="224.9" font-size="6.2" text-anchor="start" fill="#111" stroke="#111" stroke-width="0.22" font-weight="600">Anti-IgG</text>
<rect x="469.2" y="228.7" width="10.2" height="3.6" fill="#7a7a3b"/>
<text x="484.5" y="232.7" font-size="6.2" text-anchor="start" fill="#111" stroke="#111" stroke-width="0.22" font-weight="600">Anti-YBX1</text>
<text x="439.5" y="276.65" font-size="7.6" font-weight="bold" text-anchor="middle" fill="#111" stroke="#111" stroke-width="0.12" transform="rotate(-90 439.5 276.65)">Enrichment (Fold change)</text>
<line x1="592.5" y1="229.4" x2="592.5" y2="290.5" stroke="#222" stroke-width="1"/>
<line x1="592.5" y1="298" x2="592.5" y2="324" stroke="#222" stroke-width="1"/>
<line x1="590.2" y1="293.1" x2="594.8" y2="290.7" stroke="#222" stroke-width="0.9"/>
<line x1="590.2" y1="298.2" x2="594.8" y2="295.8" stroke="#222" stroke-width="0.9"/>
<line x1="592" y1="323.5" x2="682.4" y2="323.5" stroke="#333" stroke-width="1"/>
<line x1="588.5" y1="278.3" x2="592.5" y2="278.3" stroke="#222" stroke-width="0.9"/>
<text x="587.9" y="280.7" font-size="6.9" font-weight="bold" text-anchor="end" fill="#111" stroke="#111" stroke-width="0.12">100</text>
<line x1="588.5" y1="262" x2="592.5" y2="262" stroke="#222" stroke-width="0.9"/>
<text x="587.9" y="264.4" font-size="6.9" font-weight="bold" text-anchor="end" fill="#111" stroke="#111" stroke-width="0.12">200</text>
<line x1="588.5" y1="245.7" x2="592.5" y2="245.7" stroke="#222" stroke-width="0.9"/>
<text x="587.9" y="248.1" font-size="6.9" font-weight="bold" text-anchor="end" fill="#111" stroke="#111" stroke-width="0.12">300</text>
<line x1="588.5" y1="229.4" x2="592.5" y2="229.4" stroke="#222" stroke-width="0.9"/>
<text x="587.9" y="231.8" font-size="6.9" font-weight="bold" text-anchor="end" fill="#111" stroke="#111" stroke-width="0.12">400</text>
<line x1="588.5" y1="323.5" x2="592.5" y2="323.5" stroke="#222" stroke-width="0.9"/>
<text x="587.9" y="325.9" font-size="6.9" font-weight="bold" text-anchor="end" fill="#111" stroke="#111" stroke-width="0.12">0</text>
<line x1="588.5" y1="317.1" x2="592.5" y2="317.1" stroke="#222" stroke-width="0.9"/>
<text x="587.9" y="319.5" font-size="6.9" font-weight="bold" text-anchor="end" fill="#111" stroke="#111" stroke-width="0.12">5</text>
<line x1="588.5" y1="310.7" x2="592.5" y2="310.7" stroke="#222" stroke-width="0.9"/>
<text x="587.9" y="313.1" font-size="6.9" font-weight="bold" text-anchor="end" fill="#111" stroke="#111" stroke-width="0.12">10</text>
<line x1="588.5" y1="304.3" x2="592.5" y2="304.3" stroke="#222" stroke-width="0.9"/>
<text x="587.9" y="306.7" font-size="6.9" font-weight="bold" text-anchor="end" fill="#111" stroke="#111" stroke-width="0.12">15</text>
<line x1="588.5" y1="297.9" x2="592.5" y2="297.9" stroke="#222" stroke-width="0.9"/>
<text x="587.9" y="300.3" font-size="6.9" font-weight="bold" text-anchor="end" fill="#111" stroke="#111" stroke-width="0.12">20</text>
<rect x="596.6" y="322.1" width="7.8" height="1.4" fill="#1a1a1a"/>
<rect x="608.2" y="252.22" width="7.6" height="38.28" fill="#7a7a3b"/>
<rect x="608.2" y="298" width="7.6" height="25.5" fill="#7a7a3b"/>
<line x1="612" y1="252.22" x2="612" y2="248.47" stroke="#7a7a3b" stroke-width="0.8"/>
<line x1="610.2" y1="248.47" x2="613.8" y2="248.47" stroke="#7a7a3b" stroke-width="0.8"/>
<line x1="606.2" y1="323.5" x2="606.2" y2="327.2" stroke="#444" stroke-width="0.9"/>
<text x="606.2" y="334.3" font-size="6.9" font-weight="bold" text-anchor="middle" fill="#111" stroke="#111" stroke-width="0.12">EREG</text>
<rect x="627.7" y="322.1" width="7.8" height="1.4" fill="#1a1a1a"/>
<rect x="639.3" y="306.09" width="7.6" height="17.41" fill="#7a7a3b"/>
<line x1="643.1" y1="306.09" x2="643.1" y2="300.46" stroke="#7a7a3b" stroke-width="0.8"/>
<line x1="641.3" y1="300.46" x2="644.9" y2="300.46" stroke="#7a7a3b" stroke-width="0.8"/>
<line x1="637.3" y1="323.5" x2="637.3" y2="327.2" stroke="#444" stroke-width="0.9"/>
<text x="637.3" y="334.3" font-size="6.9" font-weight="bold" text-anchor="middle" fill="#111" stroke="#111" stroke-width="0.12">MAFG</text>
<rect x="659" y="322.1" width="7.8" height="1.4" fill="#1a1a1a"/>
<rect x="670.6" y="244.07" width="7.6" height="46.43" fill="#7a7a3b"/>
<rect x="670.6" y="298" width="7.6" height="25.5" fill="#7a7a3b"/>
<line x1="674.4" y1="244.07" x2="674.4" y2="234.29" stroke="#7a7a3b" stroke-width="0.8"/>
<line x1="672.6" y1="234.29" x2="676.2" y2="234.29" stroke="#7a7a3b" stroke-width="0.8"/>
<line x1="668.6" y1="323.5" x2="668.6" y2="327.2" stroke="#444" stroke-width="0.9"/>
<text x="668.6" y="334.3" font-size="6.9" font-weight="bold" text-anchor="middle" fill="#111" stroke="#111" stroke-width="0.12">GAS6</text>
<text x="637.9" y="220.5" font-size="7.2" font-weight="bold" text-anchor="middle" fill="#111" stroke="#111" stroke-width="0.12">DLD-1</text>
<rect x="597.3" y="229.6" width="10.2" height="3.6" fill="#232323"/>
<text x="612.7" y="233.6" font-size="6.2" text-anchor="start" fill="#111" stroke="#111" stroke-width="0.22" font-weight="600">Anti-IgG</text>
<rect x="597.3" y="236.9" width="10.2" height="3.6" fill="#7a7a3b"/>
<text x="612.7" y="240.9" font-size="6.2" text-anchor="start" fill="#111" stroke="#111" stroke-width="0.22" font-weight="600">Anti-YBX1</text>
<text x="572" y="276.95" font-size="7.6" font-weight="bold" text-anchor="middle" fill="#111" stroke="#111" stroke-width="0.12" transform="rotate(-90 572 276.95)">Enrichment (Fold change)</text>
<text x="2.3" y="365" font-size="10.5" font-weight="bold" text-anchor="start" fill="#000" stroke="#000" stroke-width="0.12">G</text>
<line x1="39.5" y1="367.2" x2="39.5" y2="433.1" stroke="#222" stroke-width="1"/>
<line x1="39" y1="432.6" x2="137.44" y2="432.6" stroke="#222" stroke-width="1"/>
<line x1="35.9" y1="432.6" x2="39.5" y2="432.6" stroke="#222" stroke-width="0.9"/>
<text x="35.5" y="435.2" font-size="7.3" font-weight="bold" text-anchor="end" fill="#111" stroke="#111" stroke-width="0.12">0</text>
<line x1="35.9" y1="405.4" x2="39.5" y2="405.4" stroke="#222" stroke-width="0.9"/>
<text x="35.5" y="408" font-size="7.3" font-weight="bold" text-anchor="end" fill="#111" stroke="#111" stroke-width="0.12">50</text>
<line x1="35.9" y1="378.2" x2="39.5" y2="378.2" stroke="#222" stroke-width="0.9"/>
<text x="35.5" y="380.8" font-size="7.3" font-weight="bold" text-anchor="end" fill="#111" stroke="#111" stroke-width="0.12">100</text>
<line x1="37.5" y1="419" x2="39.5" y2="419" stroke="#222" stroke-width="0.8"/>
<line x1="37.5" y1="391.8" x2="39.5" y2="391.8" stroke="#222" stroke-width="0.8"/>
<line x1="37.5" y1="367.2" x2="39.5" y2="367.2" stroke="#222" stroke-width="0.8"/>
<line x1="39.5" y1="432.6" x2="39.5" y2="435.6" stroke="#222" stroke-width="0.9"/>
<text x="39.5" y="444.1" font-size="7.2" font-weight="bold" text-anchor="middle" fill="#111" stroke="#111" stroke-width="0.12">0</text>
<line x1="51.68" y1="432.6" x2="51.68" y2="435.6" stroke="#222" stroke-width="0.9"/>
<text x="51.68" y="444.1" font-size="7.2" font-weight="bold" text-anchor="middle" fill="#111" stroke="#111" stroke-width="0.12">3</text>
<line x1="63.86" y1="432.6" x2="63.86" y2="435.6" stroke="#222" stroke-width="0.9"/>
<text x="63.86" y="444.1" font-size="7.2" font-weight="bold" text-anchor="middle" fill="#111" stroke="#111" stroke-width="0.12">6</text>
<line x1="76.04" y1="432.6" x2="76.04" y2="435.6" stroke="#222" stroke-width="0.9"/>
<text x="76.04" y="444.1" font-size="7.2" font-weight="bold" text-anchor="middle" fill="#111" stroke="#111" stroke-width="0.12">9</text>
<line x1="88.22" y1="432.6" x2="88.22" y2="435.6" stroke="#222" stroke-width="0.9"/>
<text x="88.22" y="444.1" font-size="7.2" font-weight="bold" text-anchor="middle" fill="#111" stroke="#111" stroke-width="0.12">12</text>
<line x1="100.4" y1="432.6" x2="100.4" y2="435.6" stroke="#222" stroke-width="0.9"/>
<text x="100.4" y="444.1" font-size="7.2" font-weight="bold" text-anchor="middle" fill="#111" stroke="#111" stroke-width="0.12">15</text>
<line x1="112.58" y1="432.6" x2="112.58" y2="435.6" stroke="#222" stroke-width="0.9"/>
<text x="112.58" y="444.1" font-size="7.2" font-weight="bold" text-anchor="middle" fill="#111" stroke="#111" stroke-width="0.12">18</text>
<line x1="124.76" y1="432.6" x2="124.76" y2="435.6" stroke="#222" stroke-width="0.9"/>
<text x="124.76" y="444.1" font-size="7.2" font-weight="bold" text-anchor="middle" fill="#111" stroke="#111" stroke-width="0.12">21</text>
<line x1="136.94" y1="432.6" x2="136.94" y2="435.6" stroke="#222" stroke-width="0.9"/>
<text x="136.94" y="444.1" font-size="7.2" font-weight="bold" text-anchor="middle" fill="#111" stroke="#111" stroke-width="0.12">24</text>
<text x="88.22" y="454.9" font-size="7.5" font-weight="bold" text-anchor="middle" fill="#111" stroke="#111" stroke-width="0.12">Hours</text>
<text x="8.6" y="398.9" font-size="7.4" font-weight="bold" text-anchor="middle" fill="#111" stroke="#111" stroke-width="0.12" transform="rotate(-90 8.6 398.9)">EREG mRNA</text>
<text x="18.1" y="398.9" font-size="7.4" font-weight="bold" text-anchor="middle" fill="#111" stroke="#111" stroke-width="0.12" transform="rotate(-90 18.1 398.9)">remaining(%)</text>
<polyline points="39.5,378.2 51.68,382.01 63.86,387.99 76.04,389.62 88.22,395.06 136.94,403.77" fill="none" stroke="#ef6f7d" stroke-width="0.85"/>
<circle cx="39.5" cy="378.2" r="1.75" fill="#ef6f7d"/>
<circle cx="51.68" cy="382.01" r="1.75" fill="#ef6f7d"/>
<line x1="63.86" y1="384.18" x2="63.86" y2="391.8" stroke="#ef6f7d" stroke-width="0.75"/>
<line x1="62.36" y1="384.18" x2="65.36" y2="384.18" stroke="#ef6f7d" stroke-width="0.75"/>
<line x1="62.36" y1="391.8" x2="65.36" y2="391.8" stroke="#ef6f7d" stroke-width="0.75"/>
<circle cx="63.86" cy="387.99" r="1.75" fill="#ef6f7d"/>
<line x1="76.04" y1="384.73" x2="76.04" y2="394.52" stroke="#ef6f7d" stroke-width="0.75"/>
<line x1="74.54" y1="384.73" x2="77.54" y2="384.73" stroke="#ef6f7d" stroke-width="0.75"/>
<line x1="74.54" y1="394.52" x2="77.54" y2="394.52" stroke="#ef6f7d" stroke-width="0.75"/>
<circle cx="76.04" cy="389.62" r="1.75" fill="#ef6f7d"/>
<line x1="88.22" y1="385.82" x2="88.22" y2="404.31" stroke="#ef6f7d" stroke-width="0.75"/>
<line x1="86.72" y1="385.82" x2="89.72" y2="385.82" stroke="#ef6f7d" stroke-width="0.75"/>
<line x1="86.72" y1="404.31" x2="89.72" y2="404.31" stroke="#ef6f7d" stroke-width="0.75"/>
<circle cx="88.22" cy="395.06" r="1.75" fill="#ef6f7d"/>
<line x1="136.94" y1="402.14" x2="136.94" y2="405.4" stroke="#ef6f7d" stroke-width="0.75"/>
<line x1="135.44" y1="402.14" x2="138.44" y2="402.14" stroke="#ef6f7d" stroke-width="0.75"/>
<line x1="135.44" y1="405.4" x2="138.44" y2="405.4" stroke="#ef6f7d" stroke-width="0.75"/>
<circle cx="136.94" cy="403.77" r="1.75" fill="#ef6f7d"/>
<polyline points="39.5,378.2 51.68,396.7 63.86,404.31 76.04,412.47 88.22,423.35 136.94,427.16" fill="none" stroke="#5b9bd8" stroke-width="0.85"/>
<rect x="37.85" y="376.55" width="3.3" height="3.3" fill="#5b9bd8"/>
<line x1="51.68" y1="391.26" x2="51.68" y2="402.14" stroke="#5b9bd8" stroke-width="0.75"/>
<line x1="50.18" y1="391.26" x2="53.18" y2="391.26" stroke="#5b9bd8" stroke-width="0.75"/>
<line x1="50.18" y1="402.14" x2="53.18" y2="402.14" stroke="#5b9bd8" stroke-width="0.75"/>
<rect x="50.03" y="395.05" width="3.3" height="3.3" fill="#5b9bd8"/>
<rect x="62.21" y="402.66" width="3.3" height="3.3" fill="#5b9bd8"/>
<line x1="76.04" y1="410.84" x2="76.04" y2="414.1" stroke="#5b9bd8" stroke-width="0.75"/>
<line x1="74.54" y1="410.84" x2="77.54" y2="410.84" stroke="#5b9bd8" stroke-width="0.75"/>
<line x1="74.54" y1="414.1" x2="77.54" y2="414.1" stroke="#5b9bd8" stroke-width="0.75"/>
<rect x="74.39" y="410.82" width="3.3" height="3.3" fill="#5b9bd8"/>
<line x1="88.22" y1="421.72" x2="88.22" y2="424.98" stroke="#5b9bd8" stroke-width="0.75"/>
<line x1="86.72" y1="421.72" x2="89.72" y2="421.72" stroke="#5b9bd8" stroke-width="0.75"/>
<line x1="86.72" y1="424.98" x2="89.72" y2="424.98" stroke="#5b9bd8" stroke-width="0.75"/>
<rect x="86.57" y="421.7" width="3.3" height="3.3" fill="#5b9bd8"/>
<line x1="136.94" y1="426.07" x2="136.94" y2="428.25" stroke="#5b9bd8" stroke-width="0.75"/>
<line x1="135.44" y1="426.07" x2="138.44" y2="426.07" stroke="#5b9bd8" stroke-width="0.75"/>
<line x1="135.44" y1="428.25" x2="138.44" y2="428.25" stroke="#5b9bd8" stroke-width="0.75"/>
<rect x="135.29" y="425.51" width="3.3" height="3.3" fill="#5b9bd8"/>
<polyline points="39.5,378.2 51.68,388.54 63.86,396.15 76.04,410.84 88.22,421.72 136.94,424.44" fill="none" stroke="#111111" stroke-width="0.85"/>
<path d="M39.50 376.30L41.40 379.60L37.60 379.60Z" fill="#111111" stroke="none" stroke-width="1"/>
<line x1="51.68" y1="386.36" x2="51.68" y2="390.71" stroke="#111111" stroke-width="0.75"/>
<line x1="50.18" y1="386.36" x2="53.18" y2="386.36" stroke="#111111" stroke-width="0.75"/>
<line x1="50.18" y1="390.71" x2="53.18" y2="390.71" stroke="#111111" stroke-width="0.75"/>
<path d="M51.68 386.64L53.58 389.94L49.78 389.94Z" fill="#111111" stroke="none" stroke-width="1"/>
<line x1="63.86" y1="395.06" x2="63.86" y2="397.24" stroke="#111111" stroke-width="0.75"/>
<line x1="62.36" y1="395.06" x2="65.36" y2="395.06" stroke="#111111" stroke-width="0.75"/>
<line x1="62.36" y1="397.24" x2="65.36" y2="397.24" stroke="#111111" stroke-width="0.75"/>
<path d="M63.86 394.25L65.76 397.55L61.96 397.55Z" fill="#111111" stroke="none" stroke-width="1"/>
<path d="M76.04 408.94L77.94 412.24L74.14 412.24Z" fill="#111111" stroke="none" stroke-width="1"/>
<path d="M88.22 419.82L90.12 423.12L86.32 423.12Z" fill="#111111" stroke="none" stroke-width="1"/>
<path d="M136.94 422.54L138.84 425.84L135.04 425.84Z" fill="#111111" stroke="none" stroke-width="1"/>
<line x1="96" y1="367.2" x2="105.3" y2="367.2" stroke="#ef6f7d" stroke-width="0.85"/>
<circle cx="100.65" cy="367.2" r="1.75" fill="#ef6f7d"/>
<text x="109.3" y="370" font-size="7.9" font-weight="bold" text-anchor="start" fill="#111" stroke="#111" stroke-width="0.12">siNC</text>
<line x1="96" y1="378.2" x2="105.3" y2="378.2" stroke="#5b9bd8" stroke-width="0.85"/>
<rect x="99" y="376.55" width="3.3" height="3.3" fill="#5b9bd8"/>
<text x="109.3" y="381" font-size="7.9" font-weight="bold" text-anchor="start" fill="#111" stroke="#111" stroke-width="0.12">siTRIM31-1</text>
<line x1="96" y1="389" x2="105.3" y2="389" stroke="#111111" stroke-width="0.85"/>
<path d="M100.65 387.10L102.55 390.40L98.75 390.40Z" fill="#111111" stroke="none" stroke-width="1"/>
<text x="109.3" y="391.8" font-size="7.9" font-weight="bold" text-anchor="start" fill="#111" stroke="#111" stroke-width="0.12">siTRIM31-2</text>
<path d="M139.50 402.00 H141.10 V425.60 H139.50" fill="none" stroke="#8a8a8a" stroke-width="0.6"/>
<circle cx="143.2" cy="410.65" r="0.85" fill="#1a1a1a"/>
<circle cx="143.2" cy="413.8" r="0.85" fill="#1a1a1a"/>
<circle cx="143.2" cy="416.95" r="0.85" fill="#1a1a1a"/>
<path d="M144.60 402.00 H146.20 V427.30 H144.60" fill="none" stroke="#8a8a8a" stroke-width="0.6"/>
<circle cx="148.3" cy="411.5" r="0.85" fill="#1a1a1a"/>
<circle cx="148.3" cy="414.65" r="0.85" fill="#1a1a1a"/>
<circle cx="148.3" cy="417.8" r="0.85" fill="#1a1a1a"/>
<line x1="205.8" y1="366.4" x2="205.8" y2="431.7" stroke="#222" stroke-width="1"/>
<line x1="205.3" y1="431.2" x2="303.74" y2="431.2" stroke="#222" stroke-width="1"/>
<line x1="202.2" y1="431.2" x2="205.8" y2="431.2" stroke="#222" stroke-width="0.9"/>
<text x="201.8" y="433.8" font-size="7.3" font-weight="bold" text-anchor="end" fill="#111" stroke="#111" stroke-width="0.12">0</text>
<line x1="202.2" y1="398.8" x2="205.8" y2="398.8" stroke="#222" stroke-width="0.9"/>
<text x="201.8" y="401.4" font-size="7.3" font-weight="bold" text-anchor="end" fill="#111" stroke="#111" stroke-width="0.12">50</text>
<line x1="202.2" y1="366.4" x2="205.8" y2="366.4" stroke="#222" stroke-width="0.9"/>
<text x="201.8" y="369" font-size="7.3" font-weight="bold" text-anchor="end" fill="#111" stroke="#111" stroke-width="0.12">100</text>
<line x1="203.8" y1="415" x2="205.8" y2="415" stroke="#222" stroke-width="0.8"/>
<line x1="203.8" y1="382.6" x2="205.8" y2="382.6" stroke="#222" stroke-width="0.8"/>
<line x1="205.8" y1="431.2" x2="205.8" y2="434.2" stroke="#222" stroke-width="0.9"/>
<text x="205.8" y="442.9" font-size="7.2" font-weight="bold" text-anchor="middle" fill="#111" stroke="#111" stroke-width="0.12">0</text>
<line x1="217.98" y1="431.2" x2="217.98" y2="434.2" stroke="#222" stroke-width="0.9"/>
<text x="217.98" y="442.9" font-size="7.2" font-weight="bold" text-anchor="middle" fill="#111" stroke="#111" stroke-width="0.12">3</text>
<line x1="230.16" y1="431.2" x2="230.16" y2="434.2" stroke="#222" stroke-width="0.9"/>
<text x="230.16" y="442.9" font-size="7.2" font-weight="bold" text-anchor="middle" fill="#111" stroke="#111" stroke-width="0.12">6</text>
<line x1="242.34" y1="431.2" x2="242.34" y2="434.2" stroke="#222" stroke-width="0.9"/>
<text x="242.34" y="442.9" font-size="7.2" font-weight="bold" text-anchor="middle" fill="#111" stroke="#111" stroke-width="0.12">9</text>
<line x1="254.52" y1="431.2" x2="254.52" y2="434.2" stroke="#222" stroke-width="0.9"/>
<text x="254.52" y="442.9" font-size="7.2" font-weight="bold" text-anchor="middle" fill="#111" stroke="#111" stroke-width="0.12">12</text>
<line x1="266.7" y1="431.2" x2="266.7" y2="434.2" stroke="#222" stroke-width="0.9"/>
<text x="266.7" y="442.9" font-size="7.2" font-weight="bold" text-anchor="middle" fill="#111" stroke="#111" stroke-width="0.12">15</text>
<line x1="278.88" y1="431.2" x2="278.88" y2="434.2" stroke="#222" stroke-width="0.9"/>
<text x="278.88" y="442.9" font-size="7.2" font-weight="bold" text-anchor="middle" fill="#111" stroke="#111" stroke-width="0.12">18</text>
<line x1="291.06" y1="431.2" x2="291.06" y2="434.2" stroke="#222" stroke-width="0.9"/>
<text x="291.06" y="442.9" font-size="7.2" font-weight="bold" text-anchor="middle" fill="#111" stroke="#111" stroke-width="0.12">21</text>
<line x1="303.24" y1="431.2" x2="303.24" y2="434.2" stroke="#222" stroke-width="0.9"/>
<text x="303.24" y="442.9" font-size="7.2" font-weight="bold" text-anchor="middle" fill="#111" stroke="#111" stroke-width="0.12">24</text>
<text x="254.52" y="454.2" font-size="7.5" font-weight="bold" text-anchor="middle" fill="#111" stroke="#111" stroke-width="0.12">Hours</text>
<text x="174.9" y="397.8" font-size="7.4" font-weight="bold" text-anchor="middle" fill="#111" stroke="#111" stroke-width="0.12" transform="rotate(-90 174.9 397.8)">GAS6 mRNA</text>
<text x="184.4" y="397.8" font-size="7.4" font-weight="bold" text-anchor="middle" fill="#111" stroke="#111" stroke-width="0.12" transform="rotate(-90 184.4 397.8)">remaining(%)</text>
<polyline points="205.8,366.4 217.98,370.29 230.16,374.18 242.34,389.08 254.52,396.86 303.24,403.98" fill="none" stroke="#ef6f7d" stroke-width="0.85"/>
<circle cx="217.98" cy="370.29" r="1.75" fill="#ef6f7d"/>
<line x1="230.16" y1="372.23" x2="230.16" y2="376.12" stroke="#ef6f7d" stroke-width="0.75"/>
<line x1="228.66" y1="372.23" x2="231.66" y2="372.23" stroke="#ef6f7d" stroke-width="0.75"/>
<line x1="228.66" y1="376.12" x2="231.66" y2="376.12" stroke="#ef6f7d" stroke-width="0.75"/>
<circle cx="230.16" cy="374.18" r="1.75" fill="#ef6f7d"/>
<circle cx="242.34" cy="389.08" r="1.75" fill="#ef6f7d"/>
<line x1="254.52" y1="392.97" x2="254.52" y2="400.74" stroke="#ef6f7d" stroke-width="0.75"/>
<line x1="253.02" y1="392.97" x2="256.02" y2="392.97" stroke="#ef6f7d" stroke-width="0.75"/>
<line x1="253.02" y1="400.74" x2="256.02" y2="400.74" stroke="#ef6f7d" stroke-width="0.75"/>
<circle cx="254.52" cy="396.86" r="1.75" fill="#ef6f7d"/>
<line x1="303.24" y1="402.69" x2="303.24" y2="405.28" stroke="#ef6f7d" stroke-width="0.75"/>
<line x1="301.74" y1="402.69" x2="304.74" y2="402.69" stroke="#ef6f7d" stroke-width="0.75"/>
<line x1="301.74" y1="405.28" x2="304.74" y2="405.28" stroke="#ef6f7d" stroke-width="0.75"/>
<circle cx="303.24" cy="403.98" r="1.75" fill="#ef6f7d"/>
<polyline points="205.8,366.4 217.98,395.56 230.16,409.82 242.34,420.83 254.52,424.72 303.24,427.96" fill="none" stroke="#5b9bd8" stroke-width="0.85"/>
<line x1="217.98" y1="391.67" x2="217.98" y2="399.45" stroke="#5b9bd8" stroke-width="0.75"/>
<line x1="216.48" y1="391.67" x2="219.48" y2="391.67" stroke="#5b9bd8" stroke-width="0.75"/>
<line x1="216.48" y1="399.45" x2="219.48" y2="399.45" stroke="#5b9bd8" stroke-width="0.75"/>
<rect x="216.33" y="393.91" width="3.3" height="3.3" fill="#5b9bd8"/>
<rect x="228.51" y="408.17" width="3.3" height="3.3" fill="#5b9bd8"/>
<line x1="242.34" y1="418.24" x2="242.34" y2="423.42" stroke="#5b9bd8" stroke-width="0.75"/>
<line x1="240.84" y1="418.24" x2="243.84" y2="418.24" stroke="#5b9bd8" stroke-width="0.75"/>
<line x1="240.84" y1="423.42" x2="243.84" y2="423.42" stroke="#5b9bd8" stroke-width="0.75"/>
<rect x="240.69" y="419.18" width="3.3" height="3.3" fill="#5b9bd8"/>
<rect x="252.87" y="423.07" width="3.3" height="3.3" fill="#5b9bd8"/>
<line x1="303.24" y1="426.66" x2="303.24" y2="429.26" stroke="#5b9bd8" stroke-width="0.75"/>
<line x1="301.74" y1="426.66" x2="304.74" y2="426.66" stroke="#5b9bd8" stroke-width="0.75"/>
<line x1="301.74" y1="429.26" x2="304.74" y2="429.26" stroke="#5b9bd8" stroke-width="0.75"/>
<rect x="301.59" y="426.31" width="3.3" height="3.3" fill="#5b9bd8"/>
<polyline points="205.8,366.4 217.98,389.73 230.16,405.93 242.34,416.94 254.52,420.18 303.24,424.33" fill="none" stroke="#111111" stroke-width="0.85"/>
<line x1="217.98" y1="380.66" x2="217.98" y2="398.8" stroke="#111111" stroke-width="0.75"/>
<line x1="216.48" y1="380.66" x2="219.48" y2="380.66" stroke="#111111" stroke-width="0.75"/>
<line x1="216.48" y1="398.8" x2="219.48" y2="398.8" stroke="#111111" stroke-width="0.75"/>
<path d="M217.98 387.83L219.88 391.13L216.08 391.13Z" fill="#111111" stroke="none" stroke-width="1"/>
<line x1="230.16" y1="400.74" x2="230.16" y2="411.11" stroke="#111111" stroke-width="0.75"/>
<line x1="228.66" y1="400.74" x2="231.66" y2="400.74" stroke="#111111" stroke-width="0.75"/>
<line x1="228.66" y1="411.11" x2="231.66" y2="411.11" stroke="#111111" stroke-width="0.75"/>
<path d="M230.16 404.03L232.06 407.33L228.26 407.33Z" fill="#111111" stroke="none" stroke-width="1"/>
<line x1="242.34" y1="413.7" x2="242.34" y2="420.18" stroke="#111111" stroke-width="0.75"/>
<line x1="240.84" y1="413.7" x2="243.84" y2="413.7" stroke="#111111" stroke-width="0.75"/>
<line x1="240.84" y1="420.18" x2="243.84" y2="420.18" stroke="#111111" stroke-width="0.75"/>
<path d="M242.34 415.04L244.24 418.34L240.44 418.34Z" fill="#111111" stroke="none" stroke-width="1"/>
<line x1="254.52" y1="416.3" x2="254.52" y2="424.07" stroke="#111111" stroke-width="0.75"/>
<line x1="253.02" y1="416.3" x2="256.02" y2="416.3" stroke="#111111" stroke-width="0.75"/>
<line x1="253.02" y1="424.07" x2="256.02" y2="424.07" stroke="#111111" stroke-width="0.75"/>
<path d="M254.52 418.28L256.42 421.58L252.62 421.58Z" fill="#111111" stroke="none" stroke-width="1"/>
<line x1="303.24" y1="422.39" x2="303.24" y2="426.28" stroke="#111111" stroke-width="0.75"/>
<line x1="301.74" y1="422.39" x2="304.74" y2="422.39" stroke="#111111" stroke-width="0.75"/>
<line x1="301.74" y1="426.28" x2="304.74" y2="426.28" stroke="#111111" stroke-width="0.75"/>
<path d="M303.24 422.43L305.14 425.73L301.34 425.73Z" fill="#111111" stroke="none" stroke-width="1"/>
<line x1="263.3" y1="368.5" x2="271.5" y2="368.5" stroke="#ef6f7d" stroke-width="0.85"/>
<circle cx="267.4" cy="368.5" r="1.75" fill="#ef6f7d"/>
<text x="276.6" y="371.3" font-size="7.9" font-weight="bold" text-anchor="start" fill="#111" stroke="#111" stroke-width="0.12">siNC</text>
<line x1="263.3" y1="380.2" x2="271.5" y2="380.2" stroke="#5b9bd8" stroke-width="0.85"/>
<rect x="265.75" y="378.55" width="3.3" height="3.3" fill="#5b9bd8"/>
<text x="276.6" y="383" font-size="7.9" font-weight="bold" text-anchor="start" fill="#111" stroke="#111" stroke-width="0.12">siTRIM31-1</text>
<line x1="263.3" y1="391.4" x2="271.5" y2="391.4" stroke="#111111" stroke-width="0.85"/>
<path d="M267.40 389.50L269.30 392.80L265.50 392.80Z" fill="#111111" stroke="none" stroke-width="1"/>
<text x="276.6" y="394.2" font-size="7.9" font-weight="bold" text-anchor="start" fill="#111" stroke="#111" stroke-width="0.12">siTRIM31-2</text>
<path d="M307.30 403.20 H308.90 V424.70 H307.30" fill="none" stroke="#8a8a8a" stroke-width="0.6"/>
<circle cx="311" cy="410.8" r="0.85" fill="#1a1a1a"/>
<circle cx="311" cy="413.95" r="0.85" fill="#1a1a1a"/>
<circle cx="311" cy="417.1" r="0.85" fill="#1a1a1a"/>
<path d="M312.40 403.20 H314.00 V427.80 H312.40" fill="none" stroke="#8a8a8a" stroke-width="0.6"/>
<circle cx="316.1" cy="412.35" r="0.85" fill="#1a1a1a"/>
<circle cx="316.1" cy="415.5" r="0.85" fill="#1a1a1a"/>
<circle cx="316.1" cy="418.65" r="0.85" fill="#1a1a1a"/>
<line x1="371.7" y1="368.5" x2="371.7" y2="433.8" stroke="#222" stroke-width="1"/>
<line x1="371.2" y1="433.3" x2="469.64" y2="433.3" stroke="#222" stroke-width="1"/>
<line x1="368.1" y1="433.3" x2="371.7" y2="433.3" stroke="#222" stroke-width="0.9"/>
<text x="367.7" y="435.9" font-size="7.3" font-weight="bold" text-anchor="end" fill="#111" stroke="#111" stroke-width="0.12">0</text>
<line x1="368.1" y1="400.9" x2="371.7" y2="400.9" stroke="#222" stroke-width="0.9"/>
<text x="367.7" y="403.5" font-size="7.3" font-weight="bold" text-anchor="end" fill="#111" stroke="#111" stroke-width="0.12">50</text>
<line x1="368.1" y1="368.5" x2="371.7" y2="368.5" stroke="#222" stroke-width="0.9"/>
<text x="367.7" y="371.1" font-size="7.3" font-weight="bold" text-anchor="end" fill="#111" stroke="#111" stroke-width="0.12">100</text>
<line x1="369.7" y1="417.1" x2="371.7" y2="417.1" stroke="#222" stroke-width="0.8"/>
<line x1="369.7" y1="384.7" x2="371.7" y2="384.7" stroke="#222" stroke-width="0.8"/>
<line x1="371.7" y1="433.3" x2="371.7" y2="436.3" stroke="#222" stroke-width="0.9"/>
<text x="371.7" y="445.2" font-size="7.2" font-weight="bold" text-anchor="middle" fill="#111" stroke="#111" stroke-width="0.12">0</text>
<line x1="383.88" y1="433.3" x2="383.88" y2="436.3" stroke="#222" stroke-width="0.9"/>
<text x="383.88" y="445.2" font-size="7.2" font-weight="bold" text-anchor="middle" fill="#111" stroke="#111" stroke-width="0.12">3</text>
<line x1="396.06" y1="433.3" x2="396.06" y2="436.3" stroke="#222" stroke-width="0.9"/>
<text x="396.06" y="445.2" font-size="7.2" font-weight="bold" text-anchor="middle" fill="#111" stroke="#111" stroke-width="0.12">6</text>
<line x1="408.24" y1="433.3" x2="408.24" y2="436.3" stroke="#222" stroke-width="0.9"/>
<text x="408.24" y="445.2" font-size="7.2" font-weight="bold" text-anchor="middle" fill="#111" stroke="#111" stroke-width="0.12">9</text>
<line x1="420.42" y1="433.3" x2="420.42" y2="436.3" stroke="#222" stroke-width="0.9"/>
<text x="420.42" y="445.2" font-size="7.2" font-weight="bold" text-anchor="middle" fill="#111" stroke="#111" stroke-width="0.12">12</text>
<line x1="432.6" y1="433.3" x2="432.6" y2="436.3" stroke="#222" stroke-width="0.9"/>
<text x="432.6" y="445.2" font-size="7.2" font-weight="bold" text-anchor="middle" fill="#111" stroke="#111" stroke-width="0.12">15</text>
<line x1="444.78" y1="433.3" x2="444.78" y2="436.3" stroke="#222" stroke-width="0.9"/>
<text x="444.78" y="445.2" font-size="7.2" font-weight="bold" text-anchor="middle" fill="#111" stroke="#111" stroke-width="0.12">18</text>
<line x1="456.96" y1="433.3" x2="456.96" y2="436.3" stroke="#222" stroke-width="0.9"/>
<text x="456.96" y="445.2" font-size="7.2" font-weight="bold" text-anchor="middle" fill="#111" stroke="#111" stroke-width="0.12">21</text>
<line x1="469.14" y1="433.3" x2="469.14" y2="436.3" stroke="#222" stroke-width="0.9"/>
<text x="469.14" y="445.2" font-size="7.2" font-weight="bold" text-anchor="middle" fill="#111" stroke="#111" stroke-width="0.12">24</text>
<text x="420.42" y="455.8" font-size="7.5" font-weight="bold" text-anchor="middle" fill="#111" stroke="#111" stroke-width="0.12">Hours</text>
<text x="340.8" y="399.9" font-size="7.4" font-weight="bold" text-anchor="middle" fill="#111" stroke="#111" stroke-width="0.12" transform="rotate(-90 340.8 399.9)">MAFG mRNA</text>
<text x="350.3" y="399.9" font-size="7.4" font-weight="bold" text-anchor="middle" fill="#111" stroke="#111" stroke-width="0.12" transform="rotate(-90 350.3 399.9)">remaining(%)</text>
<polyline points="371.7,368.5 383.88,371.09 396.06,383.4 408.24,387.29 420.42,393.12 469.14,401.22" fill="none" stroke="#ef6f7d" stroke-width="0.85"/>
<circle cx="383.88" cy="371.09" r="1.75" fill="#ef6f7d"/>
<line x1="396.06" y1="379.52" x2="396.06" y2="387.29" stroke="#ef6f7d" stroke-width="0.75"/>
<line x1="394.56" y1="379.52" x2="397.56" y2="379.52" stroke="#ef6f7d" stroke-width="0.75"/>
<line x1="394.56" y1="387.29" x2="397.56" y2="387.29" stroke="#ef6f7d" stroke-width="0.75"/>
<circle cx="396.06" cy="383.4" r="1.75" fill="#ef6f7d"/>
<line x1="408.24" y1="384.7" x2="408.24" y2="389.88" stroke="#ef6f7d" stroke-width="0.75"/>
<line x1="406.74" y1="384.7" x2="409.74" y2="384.7" stroke="#ef6f7d" stroke-width="0.75"/>
<line x1="406.74" y1="389.88" x2="409.74" y2="389.88" stroke="#ef6f7d" stroke-width="0.75"/>
<circle cx="408.24" cy="387.29" r="1.75" fill="#ef6f7d"/>
<line x1="420.42" y1="389.24" x2="420.42" y2="397.01" stroke="#ef6f7d" stroke-width="0.75"/>
<line x1="418.92" y1="389.24" x2="421.92" y2="389.24" stroke="#ef6f7d" stroke-width="0.75"/>
<line x1="418.92" y1="397.01" x2="421.92" y2="397.01" stroke="#ef6f7d" stroke-width="0.75"/>
<circle cx="420.42" cy="393.12" r="1.75" fill="#ef6f7d"/>
<line x1="469.14" y1="398.63" x2="469.14" y2="403.82" stroke="#ef6f7d" stroke-width="0.75"/>
<line x1="467.64" y1="398.63" x2="470.64" y2="398.63" stroke="#ef6f7d" stroke-width="0.75"/>
<line x1="467.64" y1="403.82" x2="470.64" y2="403.82" stroke="#ef6f7d" stroke-width="0.75"/>
<circle cx="469.14" cy="401.22" r="1.75" fill="#ef6f7d"/>
<polyline points="371.7,368.5 383.88,393.12 396.06,400.9 408.24,410.62 420.42,417.1 469.14,424.23" fill="none" stroke="#5b9bd8" stroke-width="0.85"/>
<line x1="383.88" y1="389.88" x2="383.88" y2="396.36" stroke="#5b9bd8" stroke-width="0.75"/>
<line x1="382.38" y1="389.88" x2="385.38" y2="389.88" stroke="#5b9bd8" stroke-width="0.75"/>
<line x1="382.38" y1="396.36" x2="385.38" y2="396.36" stroke="#5b9bd8" stroke-width="0.75"/>
<rect x="382.23" y="391.47" width="3.3" height="3.3" fill="#5b9bd8"/>
<line x1="396.06" y1="397.01" x2="396.06" y2="404.79" stroke="#5b9bd8" stroke-width="0.75"/>
<line x1="394.56" y1="397.01" x2="397.56" y2="397.01" stroke="#5b9bd8" stroke-width="0.75"/>
<line x1="394.56" y1="404.79" x2="397.56" y2="404.79" stroke="#5b9bd8" stroke-width="0.75"/>
<rect x="394.41" y="399.25" width="3.3" height="3.3" fill="#5b9bd8"/>
<line x1="408.24" y1="407.38" x2="408.24" y2="413.86" stroke="#5b9bd8" stroke-width="0.75"/>
<line x1="406.74" y1="407.38" x2="409.74" y2="407.38" stroke="#5b9bd8" stroke-width="0.75"/>
<line x1="406.74" y1="413.86" x2="409.74" y2="413.86" stroke="#5b9bd8" stroke-width="0.75"/>
<rect x="406.59" y="408.97" width="3.3" height="3.3" fill="#5b9bd8"/>
<line x1="420.42" y1="411.27" x2="420.42" y2="422.93" stroke="#5b9bd8" stroke-width="0.75"/>
<line x1="418.92" y1="411.27" x2="421.92" y2="411.27" stroke="#5b9bd8" stroke-width="0.75"/>
<line x1="418.92" y1="422.93" x2="421.92" y2="422.93" stroke="#5b9bd8" stroke-width="0.75"/>
<rect x="418.77" y="415.45" width="3.3" height="3.3" fill="#5b9bd8"/>
<line x1="469.14" y1="422.28" x2="469.14" y2="426.17" stroke="#5b9bd8" stroke-width="0.75"/>
<line x1="467.64" y1="422.28" x2="470.64" y2="422.28" stroke="#5b9bd8" stroke-width="0.75"/>
<line x1="467.64" y1="426.17" x2="470.64" y2="426.17" stroke="#5b9bd8" stroke-width="0.75"/>
<rect x="467.49" y="422.58" width="3.3" height="3.3" fill="#5b9bd8"/>
<polyline points="371.7,368.5 383.88,395.72 396.06,404.14 408.24,414.51 420.42,420.34 469.14,426.17" fill="none" stroke="#111111" stroke-width="0.85"/>
<path d="M383.88 393.82L385.78 397.12L381.98 397.12Z" fill="#111111" stroke="none" stroke-width="1"/>
<path d="M396.06 402.24L397.96 405.54L394.16 405.54Z" fill="#111111" stroke="none" stroke-width="1"/>
<path d="M408.24 412.61L410.14 415.91L406.34 415.91Z" fill="#111111" stroke="none" stroke-width="1"/>
<line x1="420.42" y1="417.75" x2="420.42" y2="422.93" stroke="#111111" stroke-width="0.75"/>
<line x1="418.92" y1="417.75" x2="421.92" y2="417.75" stroke="#111111" stroke-width="0.75"/>
<line x1="418.92" y1="422.93" x2="421.92" y2="422.93" stroke="#111111" stroke-width="0.75"/>
<path d="M420.42 418.44L422.32 421.74L418.52 421.74Z" fill="#111111" stroke="none" stroke-width="1"/>
<line x1="469.14" y1="423.58" x2="469.14" y2="428.76" stroke="#111111" stroke-width="0.75"/>
<line x1="467.64" y1="423.58" x2="470.64" y2="423.58" stroke="#111111" stroke-width="0.75"/>
<line x1="467.64" y1="428.76" x2="470.64" y2="428.76" stroke="#111111" stroke-width="0.75"/>
<path d="M469.14 424.27L471.04 427.57L467.24 427.57Z" fill="#111111" stroke="none" stroke-width="1"/>
<line x1="428.2" y1="367.6" x2="437.7" y2="367.6" stroke="#ef6f7d" stroke-width="0.85"/>
<circle cx="432.95" cy="367.6" r="1.75" fill="#ef6f7d"/>
<text x="442" y="370.4" font-size="7.9" font-weight="bold" text-anchor="start" fill="#111" stroke="#111" stroke-width="0.12">siNC</text>
<line x1="428.2" y1="378.9" x2="437.7" y2="378.9" stroke="#5b9bd8" stroke-width="0.85"/>
<rect x="431.3" y="377.25" width="3.3" height="3.3" fill="#5b9bd8"/>
<text x="442" y="381.7" font-size="7.9" font-weight="bold" text-anchor="start" fill="#111" stroke="#111" stroke-width="0.12">siTRIM31-1</text>
<line x1="428.2" y1="389.5" x2="437.7" y2="389.5" stroke="#111111" stroke-width="0.85"/>
<path d="M432.95 387.60L434.85 390.90L431.05 390.90Z" fill="#111111" stroke="none" stroke-width="1"/>
<text x="442" y="392.3" font-size="7.9" font-weight="bold" text-anchor="start" fill="#111" stroke="#111" stroke-width="0.12">siTRIM31-2</text>
<path d="M474.00 399.70 H475.60 V424.60 H474.00" fill="none" stroke="#8a8a8a" stroke-width="0.6"/>
<circle cx="477.7" cy="409" r="0.85" fill="#1a1a1a"/>
<circle cx="477.7" cy="412.15" r="0.85" fill="#1a1a1a"/>
<circle cx="477.7" cy="415.3" r="0.85" fill="#1a1a1a"/>
<path d="M478.60 399.70 H480.20 V427.50 H478.60" fill="none" stroke="#8a8a8a" stroke-width="0.6"/>
<circle cx="482.3" cy="410.45" r="0.85" fill="#1a1a1a"/>
<circle cx="482.3" cy="413.6" r="0.85" fill="#1a1a1a"/>
<circle cx="482.3" cy="416.75" r="0.85" fill="#1a1a1a"/>
<line x1="39.5" y1="463.6" x2="39.5" y2="529.5" stroke="#222" stroke-width="1"/>
<line x1="39" y1="529" x2="137.44" y2="529" stroke="#222" stroke-width="1"/>
<line x1="35.9" y1="529" x2="39.5" y2="529" stroke="#222" stroke-width="0.9"/>
<text x="35.5" y="531.6" font-size="7.3" font-weight="bold" text-anchor="end" fill="#111" stroke="#111" stroke-width="0.12">0</text>
<line x1="35.9" y1="501.9" x2="39.5" y2="501.9" stroke="#222" stroke-width="0.9"/>
<text x="35.5" y="504.5" font-size="7.3" font-weight="bold" text-anchor="end" fill="#111" stroke="#111" stroke-width="0.12">50</text>
<line x1="35.9" y1="474.8" x2="39.5" y2="474.8" stroke="#222" stroke-width="0.9"/>
<text x="35.5" y="477.4" font-size="7.3" font-weight="bold" text-anchor="end" fill="#111" stroke="#111" stroke-width="0.12">100</text>
<line x1="37.5" y1="515.45" x2="39.5" y2="515.45" stroke="#222" stroke-width="0.8"/>
<line x1="37.5" y1="488.35" x2="39.5" y2="488.35" stroke="#222" stroke-width="0.8"/>
<line x1="37.5" y1="463.6" x2="39.5" y2="463.6" stroke="#222" stroke-width="0.8"/>
<line x1="39.5" y1="529" x2="39.5" y2="532" stroke="#222" stroke-width="0.9"/>
<text x="39.5" y="541" font-size="7.2" font-weight="bold" text-anchor="middle" fill="#111" stroke="#111" stroke-width="0.12">0</text>
<line x1="51.68" y1="529" x2="51.68" y2="532" stroke="#222" stroke-width="0.9"/>
<text x="51.68" y="541" font-size="7.2" font-weight="bold" text-anchor="middle" fill="#111" stroke="#111" stroke-width="0.12">3</text>
<line x1="63.86" y1="529" x2="63.86" y2="532" stroke="#222" stroke-width="0.9"/>
<text x="63.86" y="541" font-size="7.2" font-weight="bold" text-anchor="middle" fill="#111" stroke="#111" stroke-width="0.12">6</text>
<line x1="76.04" y1="529" x2="76.04" y2="532" stroke="#222" stroke-width="0.9"/>
<text x="76.04" y="541" font-size="7.2" font-weight="bold" text-anchor="middle" fill="#111" stroke="#111" stroke-width="0.12">9</text>
<line x1="88.22" y1="529" x2="88.22" y2="532" stroke="#222" stroke-width="0.9"/>
<text x="88.22" y="541" font-size="7.2" font-weight="bold" text-anchor="middle" fill="#111" stroke="#111" stroke-width="0.12">12</text>
<line x1="100.4" y1="529" x2="100.4" y2="532" stroke="#222" stroke-width="0.9"/>
<text x="100.4" y="541" font-size="7.2" font-weight="bold" text-anchor="middle" fill="#111" stroke="#111" stroke-width="0.12">15</text>
<line x1="112.58" y1="529" x2="112.58" y2="532" stroke="#222" stroke-width="0.9"/>
<text x="112.58" y="541" font-size="7.2" font-weight="bold" text-anchor="middle" fill="#111" stroke="#111" stroke-width="0.12">18</text>
<line x1="124.76" y1="529" x2="124.76" y2="532" stroke="#222" stroke-width="0.9"/>
<text x="124.76" y="541" font-size="7.2" font-weight="bold" text-anchor="middle" fill="#111" stroke="#111" stroke-width="0.12">21</text>
<line x1="136.94" y1="529" x2="136.94" y2="532" stroke="#222" stroke-width="0.9"/>
<text x="136.94" y="541" font-size="7.2" font-weight="bold" text-anchor="middle" fill="#111" stroke="#111" stroke-width="0.12">24</text>
<text x="88.22" y="551.9" font-size="7.5" font-weight="bold" text-anchor="middle" fill="#111" stroke="#111" stroke-width="0.12">Hours</text>
<text x="8.6" y="495.3" font-size="7.4" font-weight="bold" text-anchor="middle" fill="#111" stroke="#111" stroke-width="0.12" transform="rotate(-90 8.6 495.3)">EREG mRNA</text>
<text x="18.1" y="495.3" font-size="7.4" font-weight="bold" text-anchor="middle" fill="#111" stroke="#111" stroke-width="0.12" transform="rotate(-90 18.1 495.3)">remaining(%)</text>
<polyline points="39.5,474.8 51.68,476.43 63.86,484.56 76.04,488.35 88.22,499.19 136.94,501.36" fill="none" stroke="#ef6f7d" stroke-width="0.85"/>
<circle cx="39.5" cy="474.8" r="1.75" fill="#ef6f7d"/>
<line x1="51.68" y1="474.26" x2="51.68" y2="478.59" stroke="#ef6f7d" stroke-width="0.75"/>
<line x1="50.18" y1="474.26" x2="53.18" y2="474.26" stroke="#ef6f7d" stroke-width="0.75"/>
<line x1="50.18" y1="478.59" x2="53.18" y2="478.59" stroke="#ef6f7d" stroke-width="0.75"/>
<circle cx="51.68" cy="476.43" r="1.75" fill="#ef6f7d"/>
<line x1="63.86" y1="481.3" x2="63.86" y2="487.81" stroke="#ef6f7d" stroke-width="0.75"/>
<line x1="62.36" y1="481.3" x2="65.36" y2="481.3" stroke="#ef6f7d" stroke-width="0.75"/>
<line x1="62.36" y1="487.81" x2="65.36" y2="487.81" stroke="#ef6f7d" stroke-width="0.75"/>
<circle cx="63.86" cy="484.56" r="1.75" fill="#ef6f7d"/>
<line x1="76.04" y1="486.72" x2="76.04" y2="489.98" stroke="#ef6f7d" stroke-width="0.75"/>
<line x1="74.54" y1="486.72" x2="77.54" y2="486.72" stroke="#ef6f7d" stroke-width="0.75"/>
<line x1="74.54" y1="489.98" x2="77.54" y2="489.98" stroke="#ef6f7d" stroke-width="0.75"/>
<circle cx="76.04" cy="488.35" r="1.75" fill="#ef6f7d"/>
<line x1="88.22" y1="497.56" x2="88.22" y2="500.82" stroke="#ef6f7d" stroke-width="0.75"/>
<line x1="86.72" y1="497.56" x2="89.72" y2="497.56" stroke="#ef6f7d" stroke-width="0.75"/>
<line x1="86.72" y1="500.82" x2="89.72" y2="500.82" stroke="#ef6f7d" stroke-width="0.75"/>
<circle cx="88.22" cy="499.19" r="1.75" fill="#ef6f7d"/>
<circle cx="136.94" cy="501.36" r="1.75" fill="#ef6f7d"/>
<polyline points="39.5,474.8 51.68,497.02 63.86,508.4 76.04,512.74 88.22,521.41 136.94,523.58" fill="none" stroke="#5b9bd8" stroke-width="0.85"/>
<rect x="37.85" y="473.15" width="3.3" height="3.3" fill="#5b9bd8"/>
<rect x="50.03" y="495.37" width="3.3" height="3.3" fill="#5b9bd8"/>
<rect x="62.21" y="506.75" width="3.3" height="3.3" fill="#5b9bd8"/>
<rect x="74.39" y="511.09" width="3.3" height="3.3" fill="#5b9bd8"/>
<rect x="86.57" y="519.76" width="3.3" height="3.3" fill="#5b9bd8"/>
<rect x="135.29" y="521.93" width="3.3" height="3.3" fill="#5b9bd8"/>
<polyline points="39.5,474.8 51.68,485.64 63.86,498.65 76.04,506.24 88.22,518.16 136.94,520.33" fill="none" stroke="#111111" stroke-width="0.85"/>
<path d="M39.50 472.90L41.40 476.20L37.60 476.20Z" fill="#111111" stroke="none" stroke-width="1"/>
<line x1="51.68" y1="483.47" x2="51.68" y2="487.81" stroke="#111111" stroke-width="0.75"/>
<line x1="50.18" y1="483.47" x2="53.18" y2="483.47" stroke="#111111" stroke-width="0.75"/>
<line x1="50.18" y1="487.81" x2="53.18" y2="487.81" stroke="#111111" stroke-width="0.75"/>
<path d="M51.68 483.74L53.58 487.04L49.78 487.04Z" fill="#111111" stroke="none" stroke-width="1"/>
<line x1="63.86" y1="497.56" x2="63.86" y2="499.73" stroke="#111111" stroke-width="0.75"/>
<line x1="62.36" y1="497.56" x2="65.36" y2="497.56" stroke="#111111" stroke-width="0.75"/>
<line x1="62.36" y1="499.73" x2="65.36" y2="499.73" stroke="#111111" stroke-width="0.75"/>
<path d="M63.86 496.75L65.76 500.05L61.96 500.05Z" fill="#111111" stroke="none" stroke-width="1"/>
<line x1="76.04" y1="504.61" x2="76.04" y2="507.86" stroke="#111111" stroke-width="0.75"/>
<line x1="74.54" y1="504.61" x2="77.54" y2="504.61" stroke="#111111" stroke-width="0.75"/>
<line x1="74.54" y1="507.86" x2="77.54" y2="507.86" stroke="#111111" stroke-width="0.75"/>
<path d="M76.04 504.34L77.94 507.64L74.14 507.64Z" fill="#111111" stroke="none" stroke-width="1"/>
<path d="M88.22 516.26L90.12 519.56L86.32 519.56Z" fill="#111111" stroke="none" stroke-width="1"/>
<path d="M136.94 518.43L138.84 521.73L135.04 521.73Z" fill="#111111" stroke="none" stroke-width="1"/>
<line x1="96" y1="466.6" x2="105.3" y2="466.6" stroke="#ef6f7d" stroke-width="0.85"/>
<circle cx="100.65" cy="466.6" r="1.75" fill="#ef6f7d"/>
<text x="109.3" y="469.4" font-size="7.9" font-weight="bold" text-anchor="start" fill="#111" stroke="#111" stroke-width="0.12">siNC</text>
<line x1="96" y1="477.9" x2="105.3" y2="477.9" stroke="#5b9bd8" stroke-width="0.85"/>
<rect x="99" y="476.25" width="3.3" height="3.3" fill="#5b9bd8"/>
<text x="109.3" y="480.7" font-size="7.9" font-weight="bold" text-anchor="start" fill="#111" stroke="#111" stroke-width="0.12">siYBX1-1</text>
<line x1="96" y1="488.7" x2="105.3" y2="488.7" stroke="#111111" stroke-width="0.85"/>
<path d="M100.65 486.80L102.55 490.10L98.75 490.10Z" fill="#111111" stroke="none" stroke-width="1"/>
<text x="109.3" y="491.5" font-size="7.9" font-weight="bold" text-anchor="start" fill="#111" stroke="#111" stroke-width="0.12">siYBX1-2</text>
<path d="M139.50 498.00 H141.10 V521.00 H139.50" fill="none" stroke="#8a8a8a" stroke-width="0.6"/>
<circle cx="143.2" cy="506.35" r="0.85" fill="#1a1a1a"/>
<circle cx="143.2" cy="509.5" r="0.85" fill="#1a1a1a"/>
<circle cx="143.2" cy="512.65" r="0.85" fill="#1a1a1a"/>
<path d="M144.60 498.00 H146.20 V523.50 H144.60" fill="none" stroke="#8a8a8a" stroke-width="0.6"/>
<circle cx="148.3" cy="507.6" r="0.85" fill="#1a1a1a"/>
<circle cx="148.3" cy="510.75" r="0.85" fill="#1a1a1a"/>
<circle cx="148.3" cy="513.9" r="0.85" fill="#1a1a1a"/>
<line x1="205.4" y1="468.4" x2="205.4" y2="533.7" stroke="#222" stroke-width="1"/>
<line x1="204.9" y1="533.2" x2="303.34" y2="533.2" stroke="#222" stroke-width="1"/>
<line x1="201.8" y1="533.2" x2="205.4" y2="533.2" stroke="#222" stroke-width="0.9"/>
<text x="201.4" y="535.8" font-size="7.3" font-weight="bold" text-anchor="end" fill="#111" stroke="#111" stroke-width="0.12">0</text>
<line x1="201.8" y1="500.8" x2="205.4" y2="500.8" stroke="#222" stroke-width="0.9"/>
<text x="201.4" y="503.4" font-size="7.3" font-weight="bold" text-anchor="end" fill="#111" stroke="#111" stroke-width="0.12">50</text>
<line x1="201.8" y1="468.4" x2="205.4" y2="468.4" stroke="#222" stroke-width="0.9"/>
<text x="201.4" y="471" font-size="7.3" font-weight="bold" text-anchor="end" fill="#111" stroke="#111" stroke-width="0.12">100</text>
<line x1="203.4" y1="517" x2="205.4" y2="517" stroke="#222" stroke-width="0.8"/>
<line x1="203.4" y1="484.6" x2="205.4" y2="484.6" stroke="#222" stroke-width="0.8"/>
<line x1="205.4" y1="533.2" x2="205.4" y2="536.2" stroke="#222" stroke-width="0.9"/>
<text x="205.4" y="544" font-size="7.2" font-weight="bold" text-anchor="middle" fill="#111" stroke="#111" stroke-width="0.12">0</text>
<line x1="217.58" y1="533.2" x2="217.58" y2="536.2" stroke="#222" stroke-width="0.9"/>
<text x="217.58" y="544" font-size="7.2" font-weight="bold" text-anchor="middle" fill="#111" stroke="#111" stroke-width="0.12">3</text>
<line x1="229.76" y1="533.2" x2="229.76" y2="536.2" stroke="#222" stroke-width="0.9"/>
<text x="229.76" y="544" font-size="7.2" font-weight="bold" text-anchor="middle" fill="#111" stroke="#111" stroke-width="0.12">6</text>
<line x1="241.94" y1="533.2" x2="241.94" y2="536.2" stroke="#222" stroke-width="0.9"/>
<text x="241.94" y="544" font-size="7.2" font-weight="bold" text-anchor="middle" fill="#111" stroke="#111" stroke-width="0.12">9</text>
<line x1="254.12" y1="533.2" x2="254.12" y2="536.2" stroke="#222" stroke-width="0.9"/>
<text x="254.12" y="544" font-size="7.2" font-weight="bold" text-anchor="middle" fill="#111" stroke="#111" stroke-width="0.12">12</text>
<line x1="266.3" y1="533.2" x2="266.3" y2="536.2" stroke="#222" stroke-width="0.9"/>
<text x="266.3" y="544" font-size="7.2" font-weight="bold" text-anchor="middle" fill="#111" stroke="#111" stroke-width="0.12">15</text>
<line x1="278.48" y1="533.2" x2="278.48" y2="536.2" stroke="#222" stroke-width="0.9"/>
<text x="278.48" y="544" font-size="7.2" font-weight="bold" text-anchor="middle" fill="#111" stroke="#111" stroke-width="0.12">18</text>
<line x1="290.66" y1="533.2" x2="290.66" y2="536.2" stroke="#222" stroke-width="0.9"/>
<text x="290.66" y="544" font-size="7.2" font-weight="bold" text-anchor="middle" fill="#111" stroke="#111" stroke-width="0.12">21</text>
<line x1="302.84" y1="533.2" x2="302.84" y2="536.2" stroke="#222" stroke-width="0.9"/>
<text x="302.84" y="544" font-size="7.2" font-weight="bold" text-anchor="middle" fill="#111" stroke="#111" stroke-width="0.12">24</text>
<text x="254.12" y="555.7" font-size="7.5" font-weight="bold" text-anchor="middle" fill="#111" stroke="#111" stroke-width="0.12">Hours</text>
<text x="174.5" y="499.8" font-size="7.4" font-weight="bold" text-anchor="middle" fill="#111" stroke="#111" stroke-width="0.12" transform="rotate(-90 174.5 499.8)">GAS6 mRNA</text>
<text x="184" y="499.8" font-size="7.4" font-weight="bold" text-anchor="middle" fill="#111" stroke="#111" stroke-width="0.12" transform="rotate(-90 184 499.8)">remaining(%)</text>
<polyline points="205.4,468.4 217.58,473.58 229.76,479.42 241.94,493.02 254.12,500.8 302.84,505.34" fill="none" stroke="#ef6f7d" stroke-width="0.85"/>
<circle cx="217.58" cy="473.58" r="1.75" fill="#ef6f7d"/>
<circle cx="229.76" cy="479.42" r="1.75" fill="#ef6f7d"/>
<line x1="241.94" y1="491.08" x2="241.94" y2="494.97" stroke="#ef6f7d" stroke-width="0.75"/>
<line x1="240.44" y1="491.08" x2="243.44" y2="491.08" stroke="#ef6f7d" stroke-width="0.75"/>
<line x1="240.44" y1="494.97" x2="243.44" y2="494.97" stroke="#ef6f7d" stroke-width="0.75"/>
<circle cx="241.94" cy="493.02" r="1.75" fill="#ef6f7d"/>
<line x1="254.12" y1="498.21" x2="254.12" y2="503.39" stroke="#ef6f7d" stroke-width="0.75"/>
<line x1="252.62" y1="498.21" x2="255.62" y2="498.21" stroke="#ef6f7d" stroke-width="0.75"/>
<line x1="252.62" y1="503.39" x2="255.62" y2="503.39" stroke="#ef6f7d" stroke-width="0.75"/>
<circle cx="254.12" cy="500.8" r="1.75" fill="#ef6f7d"/>
<line x1="302.84" y1="504.04" x2="302.84" y2="506.63" stroke="#ef6f7d" stroke-width="0.75"/>
<line x1="301.34" y1="504.04" x2="304.34" y2="504.04" stroke="#ef6f7d" stroke-width="0.75"/>
<line x1="301.34" y1="506.63" x2="304.34" y2="506.63" stroke="#ef6f7d" stroke-width="0.75"/>
<circle cx="302.84" cy="505.34" r="1.75" fill="#ef6f7d"/>
<polyline points="205.4,468.4 217.58,499.5 229.76,513.76 241.94,520.24 254.12,523.48 302.84,527.69" fill="none" stroke="#5b9bd8" stroke-width="0.85"/>
<rect x="215.93" y="497.85" width="3.3" height="3.3" fill="#5b9bd8"/>
<line x1="229.76" y1="511.82" x2="229.76" y2="515.7" stroke="#5b9bd8" stroke-width="0.75"/>
<line x1="228.26" y1="511.82" x2="231.26" y2="511.82" stroke="#5b9bd8" stroke-width="0.75"/>
<line x1="228.26" y1="515.7" x2="231.26" y2="515.7" stroke="#5b9bd8" stroke-width="0.75"/>
<rect x="228.11" y="512.11" width="3.3" height="3.3" fill="#5b9bd8"/>
<rect x="240.29" y="518.59" width="3.3" height="3.3" fill="#5b9bd8"/>
<rect x="252.47" y="521.83" width="3.3" height="3.3" fill="#5b9bd8"/>
<rect x="301.19" y="526.04" width="3.3" height="3.3" fill="#5b9bd8"/>
<polyline points="205.4,468.4 217.58,496.26 229.76,511.82 241.94,522.83 254.12,526.72 302.84,530.61" fill="none" stroke="#111111" stroke-width="0.85"/>
<line x1="217.58" y1="491.73" x2="217.58" y2="500.8" stroke="#111111" stroke-width="0.75"/>
<line x1="216.08" y1="491.73" x2="219.08" y2="491.73" stroke="#111111" stroke-width="0.75"/>
<line x1="216.08" y1="500.8" x2="219.08" y2="500.8" stroke="#111111" stroke-width="0.75"/>
<path d="M217.58 494.36L219.48 497.66L215.68 497.66Z" fill="#111111" stroke="none" stroke-width="1"/>
<path d="M229.76 509.92L231.66 513.22L227.86 513.22Z" fill="#111111" stroke="none" stroke-width="1"/>
<line x1="241.94" y1="520.24" x2="241.94" y2="525.42" stroke="#111111" stroke-width="0.75"/>
<line x1="240.44" y1="520.24" x2="243.44" y2="520.24" stroke="#111111" stroke-width="0.75"/>
<line x1="240.44" y1="525.42" x2="243.44" y2="525.42" stroke="#111111" stroke-width="0.75"/>
<path d="M241.94 520.93L243.84 524.23L240.04 524.23Z" fill="#111111" stroke="none" stroke-width="1"/>
<path d="M254.12 524.82L256.02 528.12L252.22 528.12Z" fill="#111111" stroke="none" stroke-width="1"/>
<path d="M302.84 528.71L304.74 532.01L300.94 532.01Z" fill="#111111" stroke="none" stroke-width="1"/>
<line x1="260.8" y1="469.8" x2="269" y2="469.8" stroke="#ef6f7d" stroke-width="0.85"/>
<circle cx="264.9" cy="469.8" r="1.75" fill="#ef6f7d"/>
<text x="274.3" y="472.6" font-size="7.9" font-weight="bold" text-anchor="start" fill="#111" stroke="#111" stroke-width="0.12">siNC</text>
<line x1="260.8" y1="481.7" x2="269" y2="481.7" stroke="#5b9bd8" stroke-width="0.85"/>
<rect x="263.25" y="480.05" width="3.3" height="3.3" fill="#5b9bd8"/>
<text x="274.3" y="484.5" font-size="7.9" font-weight="bold" text-anchor="start" fill="#111" stroke="#111" stroke-width="0.12">siYBX1-1</text>
<line x1="260.8" y1="492.5" x2="269" y2="492.5" stroke="#111111" stroke-width="0.85"/>
<path d="M264.90 490.60L266.80 493.90L263.00 493.90Z" fill="#111111" stroke="none" stroke-width="1"/>
<text x="274.3" y="495.3" font-size="7.9" font-weight="bold" text-anchor="start" fill="#111" stroke="#111" stroke-width="0.12">siYBX1-2</text>
<path d="M306.80 504.20 H308.40 V527.70 H306.80" fill="none" stroke="#8a8a8a" stroke-width="0.6"/>
<circle cx="310.5" cy="512.8" r="0.85" fill="#1a1a1a"/>
<circle cx="310.5" cy="515.95" r="0.85" fill="#1a1a1a"/>
<circle cx="310.5" cy="519.1" r="0.85" fill="#1a1a1a"/>
<path d="M311.90 504.20 H313.50 V530.30 H311.90" fill="none" stroke="#8a8a8a" stroke-width="0.6"/>
<circle cx="315.6" cy="514.1" r="0.85" fill="#1a1a1a"/>
<circle cx="315.6" cy="517.25" r="0.85" fill="#1a1a1a"/>
<circle cx="315.6" cy="520.4" r="0.85" fill="#1a1a1a"/>
<line x1="370.2" y1="466.8" x2="370.2" y2="531.8" stroke="#222" stroke-width="1"/>
<line x1="369.7" y1="531.3" x2="468.14" y2="531.3" stroke="#222" stroke-width="1"/>
<line x1="366.6" y1="531.3" x2="370.2" y2="531.3" stroke="#222" stroke-width="0.9"/>
<text x="366.2" y="533.9" font-size="7.3" font-weight="bold" text-anchor="end" fill="#111" stroke="#111" stroke-width="0.12">0</text>
<line x1="366.6" y1="499.05" x2="370.2" y2="499.05" stroke="#222" stroke-width="0.9"/>
<text x="366.2" y="501.65" font-size="7.3" font-weight="bold" text-anchor="end" fill="#111" stroke="#111" stroke-width="0.12">50</text>
<line x1="366.6" y1="466.8" x2="370.2" y2="466.8" stroke="#222" stroke-width="0.9"/>
<text x="366.2" y="469.4" font-size="7.3" font-weight="bold" text-anchor="end" fill="#111" stroke="#111" stroke-width="0.12">100</text>
<line x1="368.2" y1="515.17" x2="370.2" y2="515.17" stroke="#222" stroke-width="0.8"/>
<line x1="368.2" y1="482.93" x2="370.2" y2="482.93" stroke="#222" stroke-width="0.8"/>
<line x1="370.2" y1="531.3" x2="370.2" y2="534.3" stroke="#222" stroke-width="0.9"/>
<text x="370.2" y="542.5" font-size="7.2" font-weight="bold" text-anchor="middle" fill="#111" stroke="#111" stroke-width="0.12">0</text>
<line x1="382.38" y1="531.3" x2="382.38" y2="534.3" stroke="#222" stroke-width="0.9"/>
<text x="382.38" y="542.5" font-size="7.2" font-weight="bold" text-anchor="middle" fill="#111" stroke="#111" stroke-width="0.12">3</text>
<line x1="394.56" y1="531.3" x2="394.56" y2="534.3" stroke="#222" stroke-width="0.9"/>
<text x="394.56" y="542.5" font-size="7.2" font-weight="bold" text-anchor="middle" fill="#111" stroke="#111" stroke-width="0.12">6</text>
<line x1="406.74" y1="531.3" x2="406.74" y2="534.3" stroke="#222" stroke-width="0.9"/>
<text x="406.74" y="542.5" font-size="7.2" font-weight="bold" text-anchor="middle" fill="#111" stroke="#111" stroke-width="0.12">9</text>
<line x1="418.92" y1="531.3" x2="418.92" y2="534.3" stroke="#222" stroke-width="0.9"/>
<text x="418.92" y="542.5" font-size="7.2" font-weight="bold" text-anchor="middle" fill="#111" stroke="#111" stroke-width="0.12">12</text>
<line x1="431.1" y1="531.3" x2="431.1" y2="534.3" stroke="#222" stroke-width="0.9"/>
<text x="431.1" y="542.5" font-size="7.2" font-weight="bold" text-anchor="middle" fill="#111" stroke="#111" stroke-width="0.12">15</text>
<line x1="443.28" y1="531.3" x2="443.28" y2="534.3" stroke="#222" stroke-width="0.9"/>
<text x="443.28" y="542.5" font-size="7.2" font-weight="bold" text-anchor="middle" fill="#111" stroke="#111" stroke-width="0.12">18</text>
<line x1="455.46" y1="531.3" x2="455.46" y2="534.3" stroke="#222" stroke-width="0.9"/>
<text x="455.46" y="542.5" font-size="7.2" font-weight="bold" text-anchor="middle" fill="#111" stroke="#111" stroke-width="0.12">21</text>
<line x1="467.64" y1="531.3" x2="467.64" y2="534.3" stroke="#222" stroke-width="0.9"/>
<text x="467.64" y="542.5" font-size="7.2" font-weight="bold" text-anchor="middle" fill="#111" stroke="#111" stroke-width="0.12">24</text>
<text x="418.92" y="554.1" font-size="7.5" font-weight="bold" text-anchor="middle" fill="#111" stroke="#111" stroke-width="0.12">Hours</text>
<text x="339.3" y="498.05" font-size="7.4" font-weight="bold" text-anchor="middle" fill="#111" stroke="#111" stroke-width="0.12" transform="rotate(-90 339.3 498.05)">MAFG mRNA</text>
<text x="348.8" y="498.05" font-size="7.4" font-weight="bold" text-anchor="middle" fill="#111" stroke="#111" stroke-width="0.12" transform="rotate(-90 348.8 498.05)">remaining(%)</text>
<polyline points="370.2,466.8 382.38,471.31 394.56,484.21 406.74,486.8 418.92,490.66 467.64,499.05" fill="none" stroke="#ef6f7d" stroke-width="0.85"/>
<line x1="382.38" y1="468.74" x2="382.38" y2="473.89" stroke="#ef6f7d" stroke-width="0.75"/>
<line x1="380.88" y1="468.74" x2="383.88" y2="468.74" stroke="#ef6f7d" stroke-width="0.75"/>
<line x1="380.88" y1="473.89" x2="383.88" y2="473.89" stroke="#ef6f7d" stroke-width="0.75"/>
<circle cx="382.38" cy="471.31" r="1.75" fill="#ef6f7d"/>
<circle cx="394.56" cy="484.21" r="1.75" fill="#ef6f7d"/>
<line x1="406.74" y1="482.93" x2="406.74" y2="490.66" stroke="#ef6f7d" stroke-width="0.75"/>
<line x1="405.24" y1="482.93" x2="408.24" y2="482.93" stroke="#ef6f7d" stroke-width="0.75"/>
<line x1="405.24" y1="490.66" x2="408.24" y2="490.66" stroke="#ef6f7d" stroke-width="0.75"/>
<circle cx="406.74" cy="486.8" r="1.75" fill="#ef6f7d"/>
<line x1="418.92" y1="486.15" x2="418.92" y2="495.18" stroke="#ef6f7d" stroke-width="0.75"/>
<line x1="417.42" y1="486.15" x2="420.42" y2="486.15" stroke="#ef6f7d" stroke-width="0.75"/>
<line x1="417.42" y1="495.18" x2="420.42" y2="495.18" stroke="#ef6f7d" stroke-width="0.75"/>
<circle cx="418.92" cy="490.66" r="1.75" fill="#ef6f7d"/>
<line x1="467.64" y1="497.12" x2="467.64" y2="500.98" stroke="#ef6f7d" stroke-width="0.75"/>
<line x1="466.14" y1="497.12" x2="469.14" y2="497.12" stroke="#ef6f7d" stroke-width="0.75"/>
<line x1="466.14" y1="500.98" x2="469.14" y2="500.98" stroke="#ef6f7d" stroke-width="0.75"/>
<circle cx="467.64" cy="499.05" r="1.75" fill="#ef6f7d"/>
<polyline points="370.2,466.8 382.38,497.12 394.56,512.6 406.74,513.24 418.92,518.4 467.64,522.27" fill="none" stroke="#5b9bd8" stroke-width="0.85"/>
<rect x="380.73" y="495.47" width="3.3" height="3.3" fill="#5b9bd8"/>
<line x1="394.56" y1="509.37" x2="394.56" y2="515.82" stroke="#5b9bd8" stroke-width="0.75"/>
<line x1="393.06" y1="509.37" x2="396.06" y2="509.37" stroke="#5b9bd8" stroke-width="0.75"/>
<line x1="393.06" y1="515.82" x2="396.06" y2="515.82" stroke="#5b9bd8" stroke-width="0.75"/>
<rect x="392.91" y="510.95" width="3.3" height="3.3" fill="#5b9bd8"/>
<rect x="405.09" y="511.59" width="3.3" height="3.3" fill="#5b9bd8"/>
<rect x="417.27" y="516.75" width="3.3" height="3.3" fill="#5b9bd8"/>
<rect x="465.99" y="520.62" width="3.3" height="3.3" fill="#5b9bd8"/>
<polyline points="370.2,466.8 382.38,492.6 394.56,507.43 406.74,514.53 418.92,521.62 467.64,525.5" fill="none" stroke="#111111" stroke-width="0.85"/>
<path d="M382.38 490.70L384.28 494.00L380.48 494.00Z" fill="#111111" stroke="none" stroke-width="1"/>
<path d="M394.56 505.53L396.46 508.83L392.66 508.83Z" fill="#111111" stroke="none" stroke-width="1"/>
<path d="M406.74 512.63L408.64 515.93L404.84 515.93Z" fill="#111111" stroke="none" stroke-width="1"/>
<path d="M418.92 519.73L420.82 523.02L417.02 523.02Z" fill="#111111" stroke="none" stroke-width="1"/>
<path d="M467.64 523.60L469.54 526.89L465.74 526.89Z" fill="#111111" stroke="none" stroke-width="1"/>
<line x1="426.9" y1="466" x2="436.1" y2="466" stroke="#ef6f7d" stroke-width="0.85"/>
<circle cx="431.5" cy="466" r="1.75" fill="#ef6f7d"/>
<text x="440.8" y="468.8" font-size="7.9" font-weight="bold" text-anchor="start" fill="#111" stroke="#111" stroke-width="0.12">siNC</text>
<line x1="426.9" y1="477" x2="436.1" y2="477" stroke="#5b9bd8" stroke-width="0.85"/>
<rect x="429.85" y="475.35" width="3.3" height="3.3" fill="#5b9bd8"/>
<text x="440.8" y="479.8" font-size="7.9" font-weight="bold" text-anchor="start" fill="#111" stroke="#111" stroke-width="0.12">siYBX1-1</text>
<line x1="426.9" y1="488.4" x2="436.1" y2="488.4" stroke="#111111" stroke-width="0.85"/>
<path d="M431.50 486.50L433.40 489.80L429.60 489.80Z" fill="#111111" stroke="none" stroke-width="1"/>
<text x="440.8" y="491.2" font-size="7.9" font-weight="bold" text-anchor="start" fill="#111" stroke="#111" stroke-width="0.12">siYBX1-2</text>
<path d="M471.20 499.70 H472.80 V521.50 H471.20" fill="none" stroke="#8a8a8a" stroke-width="0.6"/>
<circle cx="474.9" cy="507.45" r="0.85" fill="#1a1a1a"/>
<circle cx="474.9" cy="510.6" r="0.85" fill="#1a1a1a"/>
<circle cx="474.9" cy="513.75" r="0.85" fill="#1a1a1a"/>
<path d="M476.40 499.70 H478.00 V525.20 H476.40" fill="none" stroke="#8a8a8a" stroke-width="0.6"/>
<circle cx="480.1" cy="509.3" r="0.85" fill="#1a1a1a"/>
<circle cx="480.1" cy="512.45" r="0.85" fill="#1a1a1a"/>
<circle cx="480.1" cy="515.6" r="0.85" fill="#1a1a1a"/>
<text x="497.6" y="374.1" font-size="10.5" font-weight="bold" text-anchor="start" fill="#000" stroke="#000" stroke-width="0.12">H</text>
<path d="M507.8 403.4 L504.5 403.4 Q501.3 403.4 501.3 409.5 Q501.3 415.7 504.5 415.7 L507.8 415.7 Z" fill="#8f8fdf" stroke="none" stroke-width="1"/>
<rect x="507.5" y="403.4" width="31" height="12.3" fill="#aecbe9"/>
<rect x="538.4" y="403.4" width="39.6" height="12.3" fill="#ec9c86"/>
<rect x="578" y="403.4" width="72.2" height="12.3" fill="#b7dca3"/>
<text x="522.9" y="412.6" font-size="8.2" text-anchor="middle" fill="#333" stroke="#333" stroke-width="0.05" font-family="Liberation Serif">5'UTR</text>
<text x="558.2" y="412.6" font-size="8.2" text-anchor="middle" fill="#333" stroke="#333" stroke-width="0.05" font-family="Liberation Serif">CDS</text>
<text x="614.3" y="412.6" font-size="8.2" text-anchor="middle" fill="#333" stroke="#333" stroke-width="0.05" font-family="Liberation Serif">3'UTR</text>
<text x="651.6" y="412.6" font-size="8.1" text-anchor="start" fill="#222" stroke="#222" stroke-width="0.05" font-family="Liberation Serif">PloyA tail</text>
<text x="507.2" y="424.6" font-size="8.1" text-anchor="middle" fill="#222" stroke="#222" stroke-width="0.05" font-family="Liberation Serif">1</text>
<text x="538.2" y="424.6" font-size="8.1" text-anchor="middle" fill="#222" stroke="#222" stroke-width="0.05" font-family="Liberation Serif">165</text>
<text x="578.5" y="424.6" font-size="8.1" text-anchor="middle" fill="#222" stroke="#222" stroke-width="0.05" font-family="Liberation Serif">674</text>
<text x="639" y="424.6" font-size="8.1" text-anchor="start" fill="#222" stroke="#222" stroke-width="0.05" font-family="Liberation Serif">4615 nt</text>
<line x1="542.7" y1="392.5" x2="542.7" y2="403.4" stroke="#111" stroke-width="1.1"/>
<circle cx="542.7" cy="388.9" r="4.5" fill="#e2322a"/>
<text x="542.7" y="382.6" font-size="7.4" font-weight="bold" text-anchor="middle" fill="#111" font-family="Liberation Serif">m<tspan font-size="4.4" dy="-2.2">5</tspan><tspan dy="2.2">C</tspan></text>
<text x="544.4" y="402.6" font-size="6.1" font-weight="bold" text-anchor="start" fill="#111" font-family="Liberation Serif">203</text>
<path d="M505.9 428.3 Q506 430.3 508 430.3 L577.8 430.3 Q580 430.3 580.1 432.2 Q580.2 430.3 582.4 430.3 L652.5 430.3 Q654.5 430.3 654.6 428.3" fill="none" stroke="#a9b6e0" stroke-width="0.6"/>
<text x="580.2" y="445.3" font-size="8" text-anchor="middle" fill="#222" stroke="#222" stroke-width="0.05" font-family="Liberation Serif">EREG mRNA</text>
<line x1="602.3" y1="451.4" x2="602.3" y2="458.8" stroke="#111" stroke-width="1.1"/>
<path d="M599.9 456.2 L602.3 459.8 L604.7 456.2" fill="none" stroke="#111" stroke-width="1.1"/>
<line x1="509.6" y1="460.1" x2="668" y2="460.1" stroke="#cfcfcf" stroke-width="0.8"/>
<text x="511.6" y="466.5" font-size="4.9" text-anchor="middle" fill="#555">G</text>
<text x="517.5" y="466.5" font-size="4.9" text-anchor="middle" fill="#55c855">A</text>
<text x="524.4" y="466.5" font-size="4.9" text-anchor="middle" fill="#ee7070">T</text>
<text x="530" y="466.5" font-size="4.9" text-anchor="middle" fill="#555">G</text>
<text x="535.5" y="466.5" font-size="4.9" text-anchor="middle" fill="#ee7070">T</text>
<text x="541.8" y="466.5" font-size="4.9" text-anchor="middle" fill="#ee7070">T</text>
<text x="547.7" y="466.5" font-size="4.9" text-anchor="middle" fill="#ee7070">T</text>
<text x="553.9" y="466.5" font-size="4.9" text-anchor="middle" fill="#ee7070">T</text>
<text x="559.1" y="466.5" font-size="4.9" text-anchor="middle" fill="#555">G</text>
<text x="565.4" y="466.5" font-size="4.9" text-anchor="middle" fill="#ee7070">T</text>
<text x="571.7" y="466.5" font-size="4.9" text-anchor="middle" fill="#555">G</text>
<text x="577.3" y="466.5" font-size="4.9" text-anchor="middle" fill="#ee7070">T</text>
<text x="583.6" y="466.5" font-size="4.9" text-anchor="middle" fill="#ee7070">T</text>
<text x="589.1" y="466.5" font-size="4.9" text-anchor="middle" fill="#555">G</text>
<text x="594.9" y="466.5" font-size="4.9" text-anchor="middle" fill="#555">G</text>
<text x="601.8" y="466.5" font-size="4.9" text-anchor="middle" fill="#5570d8">C</text>
<text x="607.6" y="466.5" font-size="4.9" text-anchor="middle" fill="#55c855">A</text>
<text x="614.6" y="466.5" font-size="4.9" text-anchor="middle" fill="#555">G</text>
<text x="620.2" y="466.5" font-size="4.9" text-anchor="middle" fill="#555">G</text>
<text x="626.8" y="466.5" font-size="4.9" text-anchor="middle" fill="#555">G</text>
<text x="632.3" y="466.5" font-size="4.9" text-anchor="middle" fill="#ee7070">T</text>
<text x="638.2" y="466.5" font-size="4.9" text-anchor="middle" fill="#ee7070">T</text>
<text x="644.8" y="466.5" font-size="4.9" text-anchor="middle" fill="#ee7070">T</text>
<text x="650.7" y="466.5" font-size="4.9" text-anchor="middle" fill="#ee7070">T</text>
<text x="657" y="466.5" font-size="4.9" text-anchor="middle" fill="#ee7070">T</text>
<text x="663.6" y="466.5" font-size="4.9" text-anchor="middle" fill="#555">G</text>
<path d="M507.60 494.64 L507.85 494.48 L508.10 494.26 L508.35 493.94 L508.60 493.51 L508.85 492.95 L509.10 492.23 L509.35 491.36 L509.60 490.34 L509.85 489.20 L510.10 487.99 L510.35 486.76 L510.60 485.60 L510.85 484.58 L511.10 483.78 L511.35 483.27 L511.60 483.10 L511.85 483.27 L512.10 483.78 L512.35 484.58 L512.60 485.60 L512.85 486.76 L513.10 487.99 L513.35 489.20 L513.60 490.34 L513.85 491.36 L514.10 492.23 L514.35 492.95 L514.60 493.51 L514.85 493.94 L515.10 494.26 L515.35 494.48 L515.60 494.64 Z" fill="#d4d4d4" stroke="none" stroke-width="1"/>
<path d="M507.60 494.64 L507.85 494.48 L508.10 494.26 L508.35 493.94 L508.60 493.51 L508.85 492.95 L509.10 492.23 L509.35 491.36 L509.60 490.34 L509.85 489.20 L510.10 487.99 L510.35 486.76 L510.60 485.60 L510.85 484.58 L511.10 483.78 L511.35 483.27 L511.60 483.10 L511.85 483.27 L512.10 483.78 L512.35 484.58 L512.60 485.60 L512.85 486.76 L513.10 487.99 L513.35 489.20 L513.60 490.34 L513.85 491.36 L514.10 492.23 L514.35 492.95 L514.60 493.51 L514.85 493.94 L515.10 494.26 L515.35 494.48 L515.60 494.64" fill="none" stroke="#222" stroke-width="0.7"/>
<path d="M513.50 494.57 L513.75 494.38 L514.00 494.10 L514.25 493.71 L514.50 493.17 L514.75 492.47 L515.00 491.57 L515.25 490.49 L515.50 489.22 L515.75 487.80 L516.00 486.29 L516.25 484.76 L516.50 483.31 L516.75 482.04 L517.00 481.05 L517.25 480.42 L517.50 480.20 L517.75 480.42 L518.00 481.05 L518.25 482.04 L518.50 483.31 L518.75 484.76 L519.00 486.29 L519.25 487.80 L519.50 489.22 L519.75 490.49 L520.00 491.57 L520.25 492.47 L520.50 493.17 L520.75 493.71 L521.00 494.10 L521.25 494.38 L521.50 494.57 Z" fill="#c4eec4" stroke="none" stroke-width="1"/>
<path d="M513.50 494.57 L513.75 494.38 L514.00 494.10 L514.25 493.71 L514.50 493.17 L514.75 492.47 L515.00 491.57 L515.25 490.49 L515.50 489.22 L515.75 487.80 L516.00 486.29 L516.25 484.76 L516.50 483.31 L516.75 482.04 L517.00 481.05 L517.25 480.42 L517.50 480.20 L517.75 480.42 L518.00 481.05 L518.25 482.04 L518.50 483.31 L518.75 484.76 L519.00 486.29 L519.25 487.80 L519.50 489.22 L519.75 490.49 L520.00 491.57 L520.25 492.47 L520.50 493.17 L520.75 493.71 L521.00 494.10 L521.25 494.38 L521.50 494.57" fill="none" stroke="#3ad13a" stroke-width="0.7"/>
<path d="M520.40 494.66 L520.65 494.52 L520.90 494.32 L521.15 494.03 L521.40 493.64 L521.65 493.13 L521.90 492.48 L522.15 491.69 L522.40 490.77 L522.65 489.73 L522.90 488.63 L523.15 487.52 L523.40 486.46 L523.65 485.54 L523.90 484.82 L524.15 484.36 L524.40 484.20 L524.65 484.36 L524.90 484.82 L525.15 485.54 L525.40 486.46 L525.65 487.52 L525.90 488.63 L526.15 489.73 L526.40 490.77 L526.65 491.69 L526.90 492.48 L527.15 493.13 L527.40 493.64 L527.65 494.03 L527.90 494.32 L528.15 494.52 L528.40 494.66 Z" fill="#f8d8d8" stroke="none" stroke-width="1"/>
<path d="M520.40 494.66 L520.65 494.52 L520.90 494.32 L521.15 494.03 L521.40 493.64 L521.65 493.13 L521.90 492.48 L522.15 491.69 L522.40 490.77 L522.65 489.73 L522.90 488.63 L523.15 487.52 L523.40 486.46 L523.65 485.54 L523.90 484.82 L524.15 484.36 L524.40 484.20 L524.65 484.36 L524.90 484.82 L525.15 485.54 L525.40 486.46 L525.65 487.52 L525.90 488.63 L526.15 489.73 L526.40 490.77 L526.65 491.69 L526.90 492.48 L527.15 493.13 L527.40 493.64 L527.65 494.03 L527.90 494.32 L528.15 494.52 L528.40 494.66" fill="none" stroke="#ee5a5a" stroke-width="0.7"/>
<path d="M526.00 494.70 L526.25 494.58 L526.50 494.40 L526.75 494.15 L527.00 493.82 L527.25 493.38 L527.50 492.82 L527.75 492.14 L528.00 491.35 L528.25 490.46 L528.50 489.51 L528.75 488.56 L529.00 487.65 L529.25 486.85 L529.50 486.23 L529.75 485.84 L530.00 485.70 L530.25 485.84 L530.50 486.23 L530.75 486.85 L531.00 487.65 L531.25 488.56 L531.50 489.51 L531.75 490.46 L532.00 491.35 L532.25 492.14 L532.50 492.82 L532.75 493.38 L533.00 493.82 L533.25 494.15 L533.50 494.40 L533.75 494.58 L534.00 494.70 Z" fill="#d4d4d4" stroke="none" stroke-width="1"/>
<path d="M526.00 494.70 L526.25 494.58 L526.50 494.40 L526.75 494.15 L527.00 493.82 L527.25 493.38 L527.50 492.82 L527.75 492.14 L528.00 491.35 L528.25 490.46 L528.50 489.51 L528.75 488.56 L529.00 487.65 L529.25 486.85 L529.50 486.23 L529.75 485.84 L530.00 485.70 L530.25 485.84 L530.50 486.23 L530.75 486.85 L531.00 487.65 L531.25 488.56 L531.50 489.51 L531.75 490.46 L532.00 491.35 L532.25 492.14 L532.50 492.82 L532.75 493.38 L533.00 493.82 L533.25 494.15 L533.50 494.40 L533.75 494.58 L534.00 494.70" fill="none" stroke="#222" stroke-width="0.7"/>
<path d="M531.50 494.62 L531.75 494.46 L532.00 494.22 L532.25 493.89 L532.50 493.43 L532.75 492.83 L533.00 492.07 L533.25 491.15 L533.50 490.07 L533.75 488.87 L534.00 487.58 L534.25 486.28 L534.50 485.05 L534.75 483.97 L535.00 483.12 L535.25 482.58 L535.50 482.40 L535.75 482.58 L536.00 483.12 L536.25 483.97 L536.50 485.05 L536.75 486.28 L537.00 487.58 L537.25 488.87 L537.50 490.07 L537.75 491.15 L538.00 492.07 L538.25 492.83 L538.50 493.43 L538.75 493.89 L539.00 494.22 L539.25 494.46 L539.50 494.62 Z" fill="#f8d8d8" stroke="none" stroke-width="1"/>
<path d="M531.50 494.62 L531.75 494.46 L532.00 494.22 L532.25 493.89 L532.50 493.43 L532.75 492.83 L533.00 492.07 L533.25 491.15 L533.50 490.07 L533.75 488.87 L534.00 487.58 L534.25 486.28 L534.50 485.05 L534.75 483.97 L535.00 483.12 L535.25 482.58 L535.50 482.40 L535.75 482.58 L536.00 483.12 L536.25 483.97 L536.50 485.05 L536.75 486.28 L537.00 487.58 L537.25 488.87 L537.50 490.07 L537.75 491.15 L538.00 492.07 L538.25 492.83 L538.50 493.43 L538.75 493.89 L539.00 494.22 L539.25 494.46 L539.50 494.62" fill="none" stroke="#ee5a5a" stroke-width="0.7"/>
<path d="M537.80 494.62 L538.05 494.45 L538.30 494.21 L538.55 493.87 L538.80 493.41 L539.05 492.80 L539.30 492.03 L539.55 491.09 L539.80 489.99 L540.05 488.77 L540.30 487.46 L540.55 486.14 L540.80 484.89 L541.05 483.79 L541.30 482.93 L541.55 482.39 L541.80 482.20 L542.05 482.39 L542.30 482.93 L542.55 483.79 L542.80 484.89 L543.05 486.14 L543.30 487.46 L543.55 488.77 L543.80 489.99 L544.05 491.09 L544.30 492.03 L544.55 492.80 L544.80 493.41 L545.05 493.87 L545.30 494.21 L545.55 494.45 L545.80 494.62 Z" fill="#f8d8d8" stroke="none" stroke-width="1"/>
<path d="M537.80 494.62 L538.05 494.45 L538.30 494.21 L538.55 493.87 L538.80 493.41 L539.05 492.80 L539.30 492.03 L539.55 491.09 L539.80 489.99 L540.05 488.77 L540.30 487.46 L540.55 486.14 L540.80 484.89 L541.05 483.79 L541.30 482.93 L541.55 482.39 L541.80 482.20 L542.05 482.39 L542.30 482.93 L542.55 483.79 L542.80 484.89 L543.05 486.14 L543.30 487.46 L543.55 488.77 L543.80 489.99 L544.05 491.09 L544.30 492.03 L544.55 492.80 L544.80 493.41 L545.05 493.87 L545.30 494.21 L545.55 494.45 L545.80 494.62" fill="none" stroke="#ee5a5a" stroke-width="0.7"/>
<path d="M543.70 494.67 L543.95 494.53 L544.20 494.33 L544.45 494.05 L544.70 493.67 L544.95 493.16 L545.20 492.52 L545.45 491.75 L545.70 490.84 L545.95 489.83 L546.20 488.75 L546.45 487.66 L546.70 486.62 L546.95 485.71 L547.20 485.01 L547.45 484.55 L547.70 484.40 L547.95 484.55 L548.20 485.01 L548.45 485.71 L548.70 486.62 L548.95 487.66 L549.20 488.75 L549.45 489.83 L549.70 490.84 L549.95 491.75 L550.20 492.52 L550.45 493.16 L550.70 493.67 L550.95 494.05 L551.20 494.33 L551.45 494.53 L551.70 494.67 Z" fill="#f8d8d8" stroke="none" stroke-width="1"/>
<path d="M543.70 494.67 L543.95 494.53 L544.20 494.33 L544.45 494.05 L544.70 493.67 L544.95 493.16 L545.20 492.52 L545.45 491.75 L545.70 490.84 L545.95 489.83 L546.20 488.75 L546.45 487.66 L546.70 486.62 L546.95 485.71 L547.20 485.01 L547.45 484.55 L547.70 484.40 L547.95 484.55 L548.20 485.01 L548.45 485.71 L548.70 486.62 L548.95 487.66 L549.20 488.75 L549.45 489.83 L549.70 490.84 L549.95 491.75 L550.20 492.52 L550.45 493.16 L550.70 493.67 L550.95 494.05 L551.20 494.33 L551.45 494.53 L551.70 494.67" fill="none" stroke="#ee5a5a" stroke-width="0.7"/>
<path d="M549.90 494.69 L550.15 494.57 L550.40 494.39 L550.65 494.14 L550.90 493.79 L551.15 493.34 L551.40 492.77 L551.65 492.08 L551.90 491.27 L552.15 490.36 L552.40 489.40 L552.65 488.42 L552.90 487.49 L553.15 486.68 L553.40 486.04 L553.65 485.64 L553.90 485.50 L554.15 485.64 L554.40 486.04 L554.65 486.68 L554.90 487.49 L555.15 488.42 L555.40 489.40 L555.65 490.36 L555.90 491.27 L556.15 492.08 L556.40 492.77 L556.65 493.34 L556.90 493.79 L557.15 494.14 L557.40 494.39 L557.65 494.57 L557.90 494.69 Z" fill="#f8d8d8" stroke="none" stroke-width="1"/>
<path d="M549.90 494.69 L550.15 494.57 L550.40 494.39 L550.65 494.14 L550.90 493.79 L551.15 493.34 L551.40 492.77 L551.65 492.08 L551.90 491.27 L552.15 490.36 L552.40 489.40 L552.65 488.42 L552.90 487.49 L553.15 486.68 L553.40 486.04 L553.65 485.64 L553.90 485.50 L554.15 485.64 L554.40 486.04 L554.65 486.68 L554.90 487.49 L555.15 488.42 L555.40 489.40 L555.65 490.36 L555.90 491.27 L556.15 492.08 L556.40 492.77 L556.65 493.34 L556.90 493.79 L557.15 494.14 L557.40 494.39 L557.65 494.57 L557.90 494.69" fill="none" stroke="#ee5a5a" stroke-width="0.7"/>
<path d="M555.10 494.65 L555.35 494.51 L555.60 494.30 L555.85 494.00 L556.10 493.59 L556.35 493.06 L556.60 492.39 L556.85 491.57 L557.10 490.61 L557.35 489.54 L557.60 488.40 L557.85 487.24 L558.10 486.15 L558.35 485.19 L558.60 484.44 L558.85 483.96 L559.10 483.80 L559.35 483.96 L559.60 484.44 L559.85 485.19 L560.10 486.15 L560.35 487.24 L560.60 488.40 L560.85 489.54 L561.10 490.61 L561.35 491.57 L561.60 492.39 L561.85 493.06 L562.10 493.59 L562.35 494.00 L562.60 494.30 L562.85 494.51 L563.10 494.65 Z" fill="#d4d4d4" stroke="none" stroke-width="1"/>
<path d="M555.10 494.65 L555.35 494.51 L555.60 494.30 L555.85 494.00 L556.10 493.59 L556.35 493.06 L556.60 492.39 L556.85 491.57 L557.10 490.61 L557.35 489.54 L557.60 488.40 L557.85 487.24 L558.10 486.15 L558.35 485.19 L558.60 484.44 L558.85 483.96 L559.10 483.80 L559.35 483.96 L559.60 484.44 L559.85 485.19 L560.10 486.15 L560.35 487.24 L560.60 488.40 L560.85 489.54 L561.10 490.61 L561.35 491.57 L561.60 492.39 L561.85 493.06 L562.10 493.59 L562.35 494.00 L562.60 494.30 L562.85 494.51 L563.10 494.65" fill="none" stroke="#222" stroke-width="0.7"/>
<path d="M561.40 494.70 L561.65 494.58 L561.90 494.40 L562.15 494.15 L562.40 493.82 L562.65 493.38 L562.90 492.82 L563.15 492.14 L563.40 491.35 L563.65 490.46 L563.90 489.51 L564.15 488.56 L564.40 487.65 L564.65 486.85 L564.90 486.23 L565.15 485.84 L565.40 485.70 L565.65 485.84 L565.90 486.23 L566.15 486.85 L566.40 487.65 L566.65 488.56 L566.90 489.51 L567.15 490.46 L567.40 491.35 L567.65 492.14 L567.90 492.82 L568.15 493.38 L568.40 493.82 L568.65 494.15 L568.90 494.40 L569.15 494.58 L569.40 494.70 Z" fill="#f8d8d8" stroke="none" stroke-width="1"/>
<path d="M561.40 494.70 L561.65 494.58 L561.90 494.40 L562.15 494.15 L562.40 493.82 L562.65 493.38 L562.90 492.82 L563.15 492.14 L563.40 491.35 L563.65 490.46 L563.90 489.51 L564.15 488.56 L564.40 487.65 L564.65 486.85 L564.90 486.23 L565.15 485.84 L565.40 485.70 L565.65 485.84 L565.90 486.23 L566.15 486.85 L566.40 487.65 L566.65 488.56 L566.90 489.51 L567.15 490.46 L567.40 491.35 L567.65 492.14 L567.90 492.82 L568.15 493.38 L568.40 493.82 L568.65 494.15 L568.90 494.40 L569.15 494.58 L569.40 494.70" fill="none" stroke="#ee5a5a" stroke-width="0.7"/>
<path d="M567.70 494.66 L567.95 494.52 L568.20 494.32 L568.45 494.03 L568.70 493.64 L568.95 493.13 L569.20 492.48 L569.45 491.69 L569.70 490.77 L569.95 489.73 L570.20 488.63 L570.45 487.52 L570.70 486.46 L570.95 485.54 L571.20 484.82 L571.45 484.36 L571.70 484.20 L571.95 484.36 L572.20 484.82 L572.45 485.54 L572.70 486.46 L572.95 487.52 L573.20 488.63 L573.45 489.73 L573.70 490.77 L573.95 491.69 L574.20 492.48 L574.45 493.13 L574.70 493.64 L574.95 494.03 L575.20 494.32 L575.45 494.52 L575.70 494.66 Z" fill="#d4d4d4" stroke="none" stroke-width="1"/>
<path d="M567.70 494.66 L567.95 494.52 L568.20 494.32 L568.45 494.03 L568.70 493.64 L568.95 493.13 L569.20 492.48 L569.45 491.69 L569.70 490.77 L569.95 489.73 L570.20 488.63 L570.45 487.52 L570.70 486.46 L570.95 485.54 L571.20 484.82 L571.45 484.36 L571.70 484.20 L571.95 484.36 L572.20 484.82 L572.45 485.54 L572.70 486.46 L572.95 487.52 L573.20 488.63 L573.45 489.73 L573.70 490.77 L573.95 491.69 L574.20 492.48 L574.45 493.13 L574.70 493.64 L574.95 494.03 L575.20 494.32 L575.45 494.52 L575.70 494.66" fill="none" stroke="#222" stroke-width="0.7"/>
<path d="M573.30 494.61 L573.55 494.44 L573.80 494.20 L574.05 493.85 L574.30 493.38 L574.55 492.76 L574.80 491.98 L575.05 491.03 L575.30 489.92 L575.55 488.67 L575.80 487.35 L576.05 486.00 L576.30 484.73 L576.55 483.62 L576.80 482.74 L577.05 482.19 L577.30 482.00 L577.55 482.19 L577.80 482.74 L578.05 483.62 L578.30 484.73 L578.55 486.00 L578.80 487.35 L579.05 488.67 L579.30 489.92 L579.55 491.03 L579.80 491.98 L580.05 492.76 L580.30 493.38 L580.55 493.85 L580.80 494.20 L581.05 494.44 L581.30 494.61 Z" fill="#f8d8d8" stroke="none" stroke-width="1"/>
<path d="M573.30 494.61 L573.55 494.44 L573.80 494.20 L574.05 493.85 L574.30 493.38 L574.55 492.76 L574.80 491.98 L575.05 491.03 L575.30 489.92 L575.55 488.67 L575.80 487.35 L576.05 486.00 L576.30 484.73 L576.55 483.62 L576.80 482.74 L577.05 482.19 L577.30 482.00 L577.55 482.19 L577.80 482.74 L578.05 483.62 L578.30 484.73 L578.55 486.00 L578.80 487.35 L579.05 488.67 L579.30 489.92 L579.55 491.03 L579.80 491.98 L580.05 492.76 L580.30 493.38 L580.55 493.85 L580.80 494.20 L581.05 494.44 L581.30 494.61" fill="none" stroke="#ee5a5a" stroke-width="0.7"/>
<path d="M579.60 494.72 L579.85 494.61 L580.10 494.46 L580.35 494.24 L580.60 493.95 L580.85 493.56 L581.10 493.07 L581.35 492.47 L581.60 491.77 L581.85 490.99 L582.10 490.16 L582.35 489.31 L582.60 488.51 L582.85 487.81 L583.10 487.27 L583.35 486.92 L583.60 486.80 L583.85 486.92 L584.10 487.27 L584.35 487.81 L584.60 488.51 L584.85 489.31 L585.10 490.16 L585.35 490.99 L585.60 491.77 L585.85 492.47 L586.10 493.07 L586.35 493.56 L586.60 493.95 L586.85 494.24 L587.10 494.46 L587.35 494.61 L587.60 494.72 Z" fill="#f8d8d8" stroke="none" stroke-width="1"/>
<path d="M579.60 494.72 L579.85 494.61 L580.10 494.46 L580.35 494.24 L580.60 493.95 L580.85 493.56 L581.10 493.07 L581.35 492.47 L581.60 491.77 L581.85 490.99 L582.10 490.16 L582.35 489.31 L582.60 488.51 L582.85 487.81 L583.10 487.27 L583.35 486.92 L583.60 486.80 L583.85 486.92 L584.10 487.27 L584.35 487.81 L584.60 488.51 L584.85 489.31 L585.10 490.16 L585.35 490.99 L585.60 491.77 L585.85 492.47 L586.10 493.07 L586.35 493.56 L586.60 493.95 L586.85 494.24 L587.10 494.46 L587.35 494.61 L587.60 494.72" fill="none" stroke="#ee5a5a" stroke-width="0.7"/>
<path d="M585.10 494.61 L585.35 494.44 L585.60 494.19 L585.85 493.84 L586.10 493.36 L586.35 492.73 L586.60 491.94 L586.85 490.97 L587.10 489.84 L587.35 488.58 L587.60 487.23 L587.85 485.87 L588.10 484.57 L588.35 483.44 L588.60 482.56 L588.85 481.99 L589.10 481.80 L589.35 481.99 L589.60 482.56 L589.85 483.44 L590.10 484.57 L590.35 485.87 L590.60 487.23 L590.85 488.58 L591.10 489.84 L591.35 490.97 L591.60 491.94 L591.85 492.73 L592.10 493.36 L592.35 493.84 L592.60 494.19 L592.85 494.44 L593.10 494.61 Z" fill="#d4d4d4" stroke="none" stroke-width="1"/>
<path d="M585.10 494.61 L585.35 494.44 L585.60 494.19 L585.85 493.84 L586.10 493.36 L586.35 492.73 L586.60 491.94 L586.85 490.97 L587.10 489.84 L587.35 488.58 L587.60 487.23 L587.85 485.87 L588.10 484.57 L588.35 483.44 L588.60 482.56 L588.85 481.99 L589.10 481.80 L589.35 481.99 L589.60 482.56 L589.85 483.44 L590.10 484.57 L590.35 485.87 L590.60 487.23 L590.85 488.58 L591.10 489.84 L591.35 490.97 L591.60 491.94 L591.85 492.73 L592.10 493.36 L592.35 493.84 L592.60 494.19 L592.85 494.44 L593.10 494.61" fill="none" stroke="#222" stroke-width="0.7"/>
<path d="M590.90 494.72 L591.15 494.61 L591.40 494.46 L591.65 494.24 L591.90 493.95 L592.15 493.56 L592.40 493.07 L592.65 492.47 L592.90 491.77 L593.15 490.99 L593.40 490.16 L593.65 489.31 L593.90 488.51 L594.15 487.81 L594.40 487.27 L594.65 486.92 L594.90 486.80 L595.15 486.92 L595.40 487.27 L595.65 487.81 L595.90 488.51 L596.15 489.31 L596.40 490.16 L596.65 490.99 L596.90 491.77 L597.15 492.47 L597.40 493.07 L597.65 493.56 L597.90 493.95 L598.15 494.24 L598.40 494.46 L598.65 494.61 L598.90 494.72 Z" fill="#d4d4d4" stroke="none" stroke-width="1"/>
<path d="M590.90 494.72 L591.15 494.61 L591.40 494.46 L591.65 494.24 L591.90 493.95 L592.15 493.56 L592.40 493.07 L592.65 492.47 L592.90 491.77 L593.15 490.99 L593.40 490.16 L593.65 489.31 L593.90 488.51 L594.15 487.81 L594.40 487.27 L594.65 486.92 L594.90 486.80 L595.15 486.92 L595.40 487.27 L595.65 487.81 L595.90 488.51 L596.15 489.31 L596.40 490.16 L596.65 490.99 L596.90 491.77 L597.15 492.47 L597.40 493.07 L597.65 493.56 L597.90 493.95 L598.15 494.24 L598.40 494.46 L598.65 494.61 L598.90 494.72" fill="none" stroke="#222" stroke-width="0.7"/>
<path d="M597.80 494.57 L598.05 494.38 L598.30 494.10 L598.55 493.71 L598.80 493.17 L599.05 492.47 L599.30 491.57 L599.55 490.49 L599.80 489.22 L600.05 487.80 L600.30 486.29 L600.55 484.76 L600.80 483.31 L601.05 482.04 L601.30 481.05 L601.55 480.42 L601.80 480.20 L602.05 480.42 L602.30 481.05 L602.55 482.04 L602.80 483.31 L603.05 484.76 L603.30 486.29 L603.55 487.80 L603.80 489.22 L604.05 490.49 L604.30 491.57 L604.55 492.47 L604.80 493.17 L605.05 493.71 L605.30 494.10 L605.55 494.38 L605.80 494.57 Z" fill="#d0daf6" stroke="none" stroke-width="1"/>
<path d="M597.80 494.57 L598.05 494.38 L598.30 494.10 L598.55 493.71 L598.80 493.17 L599.05 492.47 L599.30 491.57 L599.55 490.49 L599.80 489.22 L600.05 487.80 L600.30 486.29 L600.55 484.76 L600.80 483.31 L601.05 482.04 L601.30 481.05 L601.55 480.42 L601.80 480.20 L602.05 480.42 L602.30 481.05 L602.55 482.04 L602.80 483.31 L603.05 484.76 L603.30 486.29 L603.55 487.80 L603.80 489.22 L604.05 490.49 L604.30 491.57 L604.55 492.47 L604.80 493.17 L605.05 493.71 L605.30 494.10 L605.55 494.38 L605.80 494.57" fill="none" stroke="#3a5ad8" stroke-width="0.7"/>
<path d="M603.60 494.59 L603.85 494.41 L604.10 494.15 L604.35 493.78 L604.60 493.28 L604.85 492.62 L605.10 491.78 L605.35 490.76 L605.60 489.57 L605.85 488.24 L606.10 486.82 L606.35 485.38 L606.60 484.02 L606.85 482.83 L607.10 481.90 L607.35 481.30 L607.60 481.10 L607.85 481.30 L608.10 481.90 L608.35 482.83 L608.60 484.02 L608.85 485.38 L609.10 486.82 L609.35 488.24 L609.60 489.57 L609.85 490.76 L610.10 491.78 L610.35 492.62 L610.60 493.28 L610.85 493.78 L611.10 494.15 L611.35 494.41 L611.60 494.59 Z" fill="#c4eec4" stroke="none" stroke-width="1"/>
<path d="M603.60 494.59 L603.85 494.41 L604.10 494.15 L604.35 493.78 L604.60 493.28 L604.85 492.62 L605.10 491.78 L605.35 490.76 L605.60 489.57 L605.85 488.24 L606.10 486.82 L606.35 485.38 L606.60 484.02 L606.85 482.83 L607.10 481.90 L607.35 481.30 L607.60 481.10 L607.85 481.30 L608.10 481.90 L608.35 482.83 L608.60 484.02 L608.85 485.38 L609.10 486.82 L609.35 488.24 L609.60 489.57 L609.85 490.76 L610.10 491.78 L610.35 492.62 L610.60 493.28 L610.85 493.78 L611.10 494.15 L611.35 494.41 L611.60 494.59" fill="none" stroke="#3ad13a" stroke-width="0.7"/>
<path d="M610.60 494.58 L610.85 494.40 L611.10 494.13 L611.35 493.75 L611.60 493.23 L611.85 492.55 L612.10 491.69 L612.35 490.64 L612.60 489.42 L612.85 488.05 L613.10 486.58 L613.35 485.11 L613.60 483.71 L613.85 482.48 L614.10 481.52 L614.35 480.91 L614.60 480.70 L614.85 480.91 L615.10 481.52 L615.35 482.48 L615.60 483.71 L615.85 485.11 L616.10 486.58 L616.35 488.05 L616.60 489.42 L616.85 490.64 L617.10 491.69 L617.35 492.55 L617.60 493.23 L617.85 493.75 L618.10 494.13 L618.35 494.40 L618.60 494.58 Z" fill="#d4d4d4" stroke="none" stroke-width="1"/>
<path d="M610.60 494.58 L610.85 494.40 L611.10 494.13 L611.35 493.75 L611.60 493.23 L611.85 492.55 L612.10 491.69 L612.35 490.64 L612.60 489.42 L612.85 488.05 L613.10 486.58 L613.35 485.11 L613.60 483.71 L613.85 482.48 L614.10 481.52 L614.35 480.91 L614.60 480.70 L614.85 480.91 L615.10 481.52 L615.35 482.48 L615.60 483.71 L615.85 485.11 L616.10 486.58 L616.35 488.05 L616.60 489.42 L616.85 490.64 L617.10 491.69 L617.35 492.55 L617.60 493.23 L617.85 493.75 L618.10 494.13 L618.35 494.40 L618.60 494.58" fill="none" stroke="#222" stroke-width="0.7"/>
<path d="M616.20 494.58 L616.45 494.39 L616.70 494.12 L616.95 493.73 L617.20 493.21 L617.45 492.52 L617.70 491.64 L617.95 490.58 L618.20 489.34 L618.45 487.95 L618.70 486.47 L618.95 484.97 L619.20 483.55 L619.45 482.30 L619.70 481.33 L619.95 480.71 L620.20 480.50 L620.45 480.71 L620.70 481.33 L620.95 482.30 L621.20 483.55 L621.45 484.97 L621.70 486.47 L621.95 487.95 L622.20 489.34 L622.45 490.58 L622.70 491.64 L622.95 492.52 L623.20 493.21 L623.45 493.73 L623.70 494.12 L623.95 494.39 L624.20 494.58 Z" fill="#d4d4d4" stroke="none" stroke-width="1"/>
<path d="M616.20 494.58 L616.45 494.39 L616.70 494.12 L616.95 493.73 L617.20 493.21 L617.45 492.52 L617.70 491.64 L617.95 490.58 L618.20 489.34 L618.45 487.95 L618.70 486.47 L618.95 484.97 L619.20 483.55 L619.45 482.30 L619.70 481.33 L619.95 480.71 L620.20 480.50 L620.45 480.71 L620.70 481.33 L620.95 482.30 L621.20 483.55 L621.45 484.97 L621.70 486.47 L621.95 487.95 L622.20 489.34 L622.45 490.58 L622.70 491.64 L622.95 492.52 L623.20 493.21 L623.45 493.73 L623.70 494.12 L623.95 494.39 L624.20 494.58" fill="none" stroke="#222" stroke-width="0.7"/>
<path d="M622.80 494.63 L623.05 494.47 L623.30 494.24 L623.55 493.92 L623.80 493.48 L624.05 492.90 L624.30 492.16 L624.55 491.27 L624.80 490.23 L625.05 489.06 L625.30 487.81 L625.55 486.56 L625.80 485.36 L626.05 484.32 L626.30 483.50 L626.55 482.98 L626.80 482.80 L627.05 482.98 L627.30 483.50 L627.55 484.32 L627.80 485.36 L628.05 486.56 L628.30 487.81 L628.55 489.06 L628.80 490.23 L629.05 491.27 L629.30 492.16 L629.55 492.90 L629.80 493.48 L630.05 493.92 L630.30 494.24 L630.55 494.47 L630.80 494.63 Z" fill="#d4d4d4" stroke="none" stroke-width="1"/>
<path d="M622.80 494.63 L623.05 494.47 L623.30 494.24 L623.55 493.92 L623.80 493.48 L624.05 492.90 L624.30 492.16 L624.55 491.27 L624.80 490.23 L625.05 489.06 L625.30 487.81 L625.55 486.56 L625.80 485.36 L626.05 484.32 L626.30 483.50 L626.55 482.98 L626.80 482.80 L627.05 482.98 L627.30 483.50 L627.55 484.32 L627.80 485.36 L628.05 486.56 L628.30 487.81 L628.55 489.06 L628.80 490.23 L629.05 491.27 L629.30 492.16 L629.55 492.90 L629.80 493.48 L630.05 493.92 L630.30 494.24 L630.55 494.47 L630.80 494.63" fill="none" stroke="#222" stroke-width="0.7"/>
<path d="M628.30 494.67 L628.55 494.53 L628.80 494.33 L629.05 494.05 L629.30 493.67 L629.55 493.16 L629.80 492.52 L630.05 491.75 L630.30 490.84 L630.55 489.83 L630.80 488.75 L631.05 487.66 L631.30 486.62 L631.55 485.71 L631.80 485.01 L632.05 484.55 L632.30 484.40 L632.55 484.55 L632.80 485.01 L633.05 485.71 L633.30 486.62 L633.55 487.66 L633.80 488.75 L634.05 489.83 L634.30 490.84 L634.55 491.75 L634.80 492.52 L635.05 493.16 L635.30 493.67 L635.55 494.05 L635.80 494.33 L636.05 494.53 L636.30 494.67 Z" fill="#f8d8d8" stroke="none" stroke-width="1"/>
<path d="M628.30 494.67 L628.55 494.53 L628.80 494.33 L629.05 494.05 L629.30 493.67 L629.55 493.16 L629.80 492.52 L630.05 491.75 L630.30 490.84 L630.55 489.83 L630.80 488.75 L631.05 487.66 L631.30 486.62 L631.55 485.71 L631.80 485.01 L632.05 484.55 L632.30 484.40 L632.55 484.55 L632.80 485.01 L633.05 485.71 L633.30 486.62 L633.55 487.66 L633.80 488.75 L634.05 489.83 L634.30 490.84 L634.55 491.75 L634.80 492.52 L635.05 493.16 L635.30 493.67 L635.55 494.05 L635.80 494.33 L636.05 494.53 L636.30 494.67" fill="none" stroke="#ee5a5a" stroke-width="0.7"/>
<path d="M634.20 494.64 L634.45 494.48 L634.70 494.26 L634.95 493.94 L635.20 493.51 L635.45 492.95 L635.70 492.23 L635.95 491.36 L636.20 490.34 L636.45 489.20 L636.70 487.99 L636.95 486.76 L637.20 485.60 L637.45 484.58 L637.70 483.78 L637.95 483.27 L638.20 483.10 L638.45 483.27 L638.70 483.78 L638.95 484.58 L639.20 485.60 L639.45 486.76 L639.70 487.99 L639.95 489.20 L640.20 490.34 L640.45 491.36 L640.70 492.23 L640.95 492.95 L641.20 493.51 L641.45 493.94 L641.70 494.26 L641.95 494.48 L642.20 494.64 Z" fill="#f8d8d8" stroke="none" stroke-width="1"/>
<path d="M634.20 494.64 L634.45 494.48 L634.70 494.26 L634.95 493.94 L635.20 493.51 L635.45 492.95 L635.70 492.23 L635.95 491.36 L636.20 490.34 L636.45 489.20 L636.70 487.99 L636.95 486.76 L637.20 485.60 L637.45 484.58 L637.70 483.78 L637.95 483.27 L638.20 483.10 L638.45 483.27 L638.70 483.78 L638.95 484.58 L639.20 485.60 L639.45 486.76 L639.70 487.99 L639.95 489.20 L640.20 490.34 L640.45 491.36 L640.70 492.23 L640.95 492.95 L641.20 493.51 L641.45 493.94 L641.70 494.26 L641.95 494.48 L642.20 494.64" fill="none" stroke="#ee5a5a" stroke-width="0.7"/>
<path d="M640.80 494.65 L641.05 494.51 L641.30 494.30 L641.55 494.00 L641.80 493.59 L642.05 493.06 L642.30 492.39 L642.55 491.57 L642.80 490.61 L643.05 489.54 L643.30 488.40 L643.55 487.24 L643.80 486.15 L644.05 485.19 L644.30 484.44 L644.55 483.96 L644.80 483.80 L645.05 483.96 L645.30 484.44 L645.55 485.19 L645.80 486.15 L646.05 487.24 L646.30 488.40 L646.55 489.54 L646.80 490.61 L647.05 491.57 L647.30 492.39 L647.55 493.06 L647.80 493.59 L648.05 494.00 L648.30 494.30 L648.55 494.51 L648.80 494.65 Z" fill="#f8d8d8" stroke="none" stroke-width="1"/>
<path d="M640.80 494.65 L641.05 494.51 L641.30 494.30 L641.55 494.00 L641.80 493.59 L642.05 493.06 L642.30 492.39 L642.55 491.57 L642.80 490.61 L643.05 489.54 L643.30 488.40 L643.55 487.24 L643.80 486.15 L644.05 485.19 L644.30 484.44 L644.55 483.96 L644.80 483.80 L645.05 483.96 L645.30 484.44 L645.55 485.19 L645.80 486.15 L646.05 487.24 L646.30 488.40 L646.55 489.54 L646.80 490.61 L647.05 491.57 L647.30 492.39 L647.55 493.06 L647.80 493.59 L648.05 494.00 L648.30 494.30 L648.55 494.51 L648.80 494.65" fill="none" stroke="#ee5a5a" stroke-width="0.7"/>
<path d="M646.70 494.72 L646.95 494.62 L647.20 494.47 L647.45 494.26 L647.70 493.97 L647.95 493.59 L648.20 493.11 L648.45 492.53 L648.70 491.85 L648.95 491.09 L649.20 490.27 L649.45 489.45 L649.70 488.67 L649.95 487.99 L650.20 487.46 L650.45 487.12 L650.70 487.00 L650.95 487.12 L651.20 487.46 L651.45 487.99 L651.70 488.67 L651.95 489.45 L652.20 490.27 L652.45 491.09 L652.70 491.85 L652.95 492.53 L653.20 493.11 L653.45 493.59 L653.70 493.97 L653.95 494.26 L654.20 494.47 L654.45 494.62 L654.70 494.72 Z" fill="#f8d8d8" stroke="none" stroke-width="1"/>
<path d="M646.70 494.72 L646.95 494.62 L647.20 494.47 L647.45 494.26 L647.70 493.97 L647.95 493.59 L648.20 493.11 L648.45 492.53 L648.70 491.85 L648.95 491.09 L649.20 490.27 L649.45 489.45 L649.70 488.67 L649.95 487.99 L650.20 487.46 L650.45 487.12 L650.70 487.00 L650.95 487.12 L651.20 487.46 L651.45 487.99 L651.70 488.67 L651.95 489.45 L652.20 490.27 L652.45 491.09 L652.70 491.85 L652.95 492.53 L653.20 493.11 L653.45 493.59 L653.70 493.97 L653.95 494.26 L654.20 494.47 L654.45 494.62 L654.70 494.72" fill="none" stroke="#ee5a5a" stroke-width="0.7"/>
<path d="M653.00 494.70 L653.25 494.59 L653.50 494.42 L653.75 494.18 L654.00 493.85 L654.25 493.43 L654.50 492.89 L654.75 492.23 L655.00 491.46 L655.25 490.60 L655.50 489.69 L655.75 488.76 L656.00 487.88 L656.25 487.11 L656.50 486.51 L656.75 486.13 L657.00 486.00 L657.25 486.13 L657.50 486.51 L657.75 487.11 L658.00 487.88 L658.25 488.76 L658.50 489.69 L658.75 490.60 L659.00 491.46 L659.25 492.23 L659.50 492.89 L659.75 493.43 L660.00 493.85 L660.25 494.18 L660.50 494.42 L660.75 494.59 L661.00 494.70 Z" fill="#f8d8d8" stroke="none" stroke-width="1"/>
<path d="M653.00 494.70 L653.25 494.59 L653.50 494.42 L653.75 494.18 L654.00 493.85 L654.25 493.43 L654.50 492.89 L654.75 492.23 L655.00 491.46 L655.25 490.60 L655.50 489.69 L655.75 488.76 L656.00 487.88 L656.25 487.11 L656.50 486.51 L656.75 486.13 L657.00 486.00 L657.25 486.13 L657.50 486.51 L657.75 487.11 L658.00 487.88 L658.25 488.76 L658.50 489.69 L658.75 490.60 L659.00 491.46 L659.25 492.23 L659.50 492.89 L659.75 493.43 L660.00 493.85 L660.25 494.18 L660.50 494.42 L660.75 494.59 L661.00 494.70" fill="none" stroke="#ee5a5a" stroke-width="0.7"/>
<path d="M659.60 494.66 L659.85 494.52 L660.10 494.32 L660.35 494.03 L660.60 493.64 L660.85 493.13 L661.10 492.48 L661.35 491.69 L661.60 490.77 L661.85 489.73 L662.10 488.63 L662.35 487.52 L662.60 486.46 L662.85 485.54 L663.10 484.82 L663.35 484.36 L663.60 484.20 L663.85 484.36 L664.10 484.82 L664.35 485.54 L664.60 486.46 L664.85 487.52 L665.10 488.63 L665.35 489.73 L665.60 490.77 L665.85 491.69 L666.10 492.48 L666.35 493.13 L666.60 493.64 L666.85 494.03 L667.10 494.32 L667.35 494.52 L667.60 494.66 Z" fill="#d4d4d4" stroke="none" stroke-width="1"/>
<path d="M659.60 494.66 L659.85 494.52 L660.10 494.32 L660.35 494.03 L660.60 493.64 L660.85 493.13 L661.10 492.48 L661.35 491.69 L661.60 490.77 L661.85 489.73 L662.10 488.63 L662.35 487.52 L662.60 486.46 L662.85 485.54 L663.10 484.82 L663.35 484.36 L663.60 484.20 L663.85 484.36 L664.10 484.82 L664.35 485.54 L664.60 486.46 L664.85 487.52 L665.10 488.63 L665.35 489.73 L665.60 490.77 L665.85 491.69 L666.10 492.48 L666.35 493.13 L666.60 493.64 L666.85 494.03 L667.10 494.32 L667.35 494.52 L667.60 494.66" fill="none" stroke="#222" stroke-width="0.7"/>
<line x1="509.6" y1="495.1" x2="668" y2="495.1" stroke="#e06060" stroke-width="0.7"/>
<rect x="509.6" y="496.6" width="158.4" height="6.3" fill="#eeeeee"/>
<rect x="660" y="498.5" width="8" height="4.3" fill="#cccccc"/>
<text x="547.5" y="499.6" font-size="2.6" text-anchor="middle" fill="#999" stroke="#999" stroke-width="0.22">210</text>
<text x="605.5" y="499.6" font-size="2.6" text-anchor="middle" fill="#999" stroke="#999" stroke-width="0.22">220</text>
<text x="2" y="583.4" font-size="10.5" font-weight="bold" text-anchor="start" fill="#000" stroke="#000" stroke-width="0.12">I</text>
<line x1="39.7" y1="604" x2="39.7" y2="687.45" stroke="#222" stroke-width="0.9"/>
<line x1="39.25" y1="687" x2="121" y2="687" stroke="#222" stroke-width="0.9"/>
<line x1="36.7" y1="687" x2="39.7" y2="687" stroke="#222" stroke-width="0.8"/>
<text x="35.7" y="689.4" font-size="6.9" font-weight="bold" text-anchor="end" fill="#111" stroke="#111" stroke-width="0.12">0.0</text>
<line x1="36.7" y1="659.5" x2="39.7" y2="659.5" stroke="#222" stroke-width="0.8"/>
<text x="35.7" y="661.9" font-size="6.9" font-weight="bold" text-anchor="end" fill="#111" stroke="#111" stroke-width="0.12">0.5</text>
<line x1="36.7" y1="632" x2="39.7" y2="632" stroke="#222" stroke-width="0.8"/>
<text x="35.7" y="634.4" font-size="6.9" font-weight="bold" text-anchor="end" fill="#111" stroke="#111" stroke-width="0.12">1.0</text>
<line x1="36.7" y1="604.5" x2="39.7" y2="604.5" stroke="#222" stroke-width="0.8"/>
<text x="35.7" y="606.9" font-size="6.9" font-weight="bold" text-anchor="end" fill="#111" stroke="#111" stroke-width="0.12">1.5</text>
<rect x="42" y="632" width="8.2" height="55" fill="#a3a1a8"/>
<line x1="46.1" y1="632" x2="46.1" y2="628.15" stroke="#9a98a0" stroke-width="0.7"/>
<line x1="44.5" y1="628.15" x2="47.7" y2="628.15" stroke="#9a98a0" stroke-width="0.7"/>
<rect x="54.2" y="666.65" width="7.7" height="20.35" fill="#a6c9ea"/>
<text x="58.05" y="666.85" font-size="6.6" font-weight="bold" text-anchor="middle" fill="#222">**</text>
<rect x="65.4" y="666.65" width="8.2" height="20.35" fill="#a6c9ea"/>
<line x1="69.5" y1="666.65" x2="69.5" y2="666.1" stroke="#96bde2" stroke-width="0.7"/>
<line x1="67.9" y1="666.1" x2="71.1" y2="666.1" stroke="#96bde2" stroke-width="0.7"/>
<text x="69.5" y="666.3" font-size="6.6" font-weight="bold" text-anchor="middle" fill="#222">**</text>
<rect x="86" y="632" width="7.9" height="55" fill="#a3a1a8"/>
<line x1="89.95" y1="632" x2="89.95" y2="625.4" stroke="#9a98a0" stroke-width="0.7"/>
<line x1="88.35" y1="625.4" x2="91.55" y2="625.4" stroke="#9a98a0" stroke-width="0.7"/>
<rect x="97" y="654.55" width="8.1" height="32.45" fill="#a6c9ea"/>
<line x1="101.05" y1="654.55" x2="101.05" y2="651.8" stroke="#96bde2" stroke-width="0.7"/>
<line x1="99.45" y1="651.8" x2="102.65" y2="651.8" stroke="#96bde2" stroke-width="0.7"/>
<text x="101.05" y="652" font-size="6.6" font-weight="bold" text-anchor="middle" fill="#222">**</text>
<rect x="108.6" y="656.75" width="8.2" height="30.25" fill="#a6c9ea"/>
<line x1="112.7" y1="656.75" x2="112.7" y2="655.1" stroke="#96bde2" stroke-width="0.7"/>
<line x1="111.1" y1="655.1" x2="114.3" y2="655.1" stroke="#96bde2" stroke-width="0.7"/>
<text x="112.7" y="655.3" font-size="6.6" font-weight="bold" text-anchor="middle" fill="#222">**</text>
<line x1="57.9" y1="687" x2="57.9" y2="689.6" stroke="#222" stroke-width="0.8"/>
<text x="57.9" y="699" font-size="7.7" font-weight="bold" text-anchor="middle" fill="#111" stroke="#111" stroke-width="0.12">NUSN2</text>
<line x1="101.6" y1="687" x2="101.6" y2="689.6" stroke="#222" stroke-width="0.8"/>
<text x="101.6" y="699" font-size="7.7" font-weight="bold" text-anchor="middle" fill="#111" stroke="#111" stroke-width="0.12">EREG</text>
<text x="79.4" y="594" font-size="7.6" font-weight="bold" text-anchor="middle" fill="#111" stroke="#111" stroke-width="0.12">HT-29</text>
<rect x="47.9" y="599.7" width="8.9" height="6" fill="#a3a1a8"/>
<text x="61.4" y="605.4" font-size="7.7" font-weight="bold" text-anchor="start" fill="#111" stroke="#111" stroke-width="0.12">siNC</text>
<rect x="47.9" y="607.7" width="8.9" height="6" fill="#a6c9ea"/>
<text x="61.4" y="613.4" font-size="7.7" font-weight="bold" text-anchor="start" fill="#111" stroke="#111" stroke-width="0.12">siNUSN2-1</text>
<rect x="47.9" y="615.9" width="8.9" height="6" fill="#a6c9ea"/>
<text x="61.4" y="621.6" font-size="7.7" font-weight="bold" text-anchor="start" fill="#111" stroke="#111" stroke-width="0.12">siNUSN2-2</text>
<text x="20" y="646.25" font-size="7.9" font-weight="bold" text-anchor="middle" fill="#111" stroke="#111" stroke-width="0.12" transform="rotate(-90 20 646.25)">Relative mRNA expression</text>
<line x1="209.9" y1="602.8" x2="209.9" y2="686.55" stroke="#222" stroke-width="0.9"/>
<line x1="209.45" y1="686.1" x2="291.9" y2="686.1" stroke="#222" stroke-width="0.9"/>
<line x1="206.9" y1="686.1" x2="209.9" y2="686.1" stroke="#222" stroke-width="0.8"/>
<text x="205.9" y="688.5" font-size="6.9" font-weight="bold" text-anchor="end" fill="#111" stroke="#111" stroke-width="0.12">0.0</text>
<line x1="206.9" y1="658.5" x2="209.9" y2="658.5" stroke="#222" stroke-width="0.8"/>
<text x="205.9" y="660.9" font-size="6.9" font-weight="bold" text-anchor="end" fill="#111" stroke="#111" stroke-width="0.12">0.5</text>
<line x1="206.9" y1="630.9" x2="209.9" y2="630.9" stroke="#222" stroke-width="0.8"/>
<text x="205.9" y="633.3" font-size="6.9" font-weight="bold" text-anchor="end" fill="#111" stroke="#111" stroke-width="0.12">1.0</text>
<line x1="206.9" y1="603.3" x2="209.9" y2="603.3" stroke="#222" stroke-width="0.8"/>
<text x="205.9" y="605.7" font-size="6.9" font-weight="bold" text-anchor="end" fill="#111" stroke="#111" stroke-width="0.12">1.5</text>
<rect x="213.1" y="630.35" width="8.6" height="55.75" fill="#a3a1a8"/>
<line x1="217.4" y1="630.35" x2="217.4" y2="625.38" stroke="#9a98a0" stroke-width="0.7"/>
<line x1="215.8" y1="625.38" x2="219" y2="625.38" stroke="#9a98a0" stroke-width="0.7"/>
<rect x="224.9" y="661.26" width="8.4" height="24.84" fill="#a6c9ea"/>
<line x1="229.1" y1="661.26" x2="229.1" y2="659.6" stroke="#96bde2" stroke-width="0.7"/>
<line x1="227.5" y1="659.6" x2="230.7" y2="659.6" stroke="#96bde2" stroke-width="0.7"/>
<text x="229.1" y="659.8" font-size="6.6" font-weight="bold" text-anchor="middle" fill="#222">**</text>
<rect x="236.7" y="659.6" width="8.4" height="26.5" fill="#a6c9ea"/>
<line x1="240.9" y1="659.6" x2="240.9" y2="659.05" stroke="#96bde2" stroke-width="0.7"/>
<line x1="239.3" y1="659.05" x2="242.5" y2="659.05" stroke="#96bde2" stroke-width="0.7"/>
<text x="240.9" y="659.25" font-size="6.6" font-weight="bold" text-anchor="middle" fill="#222">**</text>
<rect x="256.4" y="630.35" width="8.4" height="55.75" fill="#a3a1a8"/>
<line x1="260.6" y1="630.35" x2="260.6" y2="626.48" stroke="#9a98a0" stroke-width="0.7"/>
<line x1="259" y1="626.48" x2="262.2" y2="626.48" stroke="#9a98a0" stroke-width="0.7"/>
<rect x="268.2" y="655.19" width="8.4" height="30.91" fill="#a6c9ea"/>
<line x1="272.4" y1="655.19" x2="272.4" y2="651.88" stroke="#96bde2" stroke-width="0.7"/>
<line x1="270.8" y1="651.88" x2="274" y2="651.88" stroke="#96bde2" stroke-width="0.7"/>
<text x="272.4" y="652.08" font-size="6.6" font-weight="bold" text-anchor="middle" fill="#222">**</text>
<rect x="280" y="653.53" width="8.5" height="32.57" fill="#a6c9ea"/>
<line x1="284.25" y1="653.53" x2="284.25" y2="651.88" stroke="#96bde2" stroke-width="0.7"/>
<line x1="282.65" y1="651.88" x2="285.85" y2="651.88" stroke="#96bde2" stroke-width="0.7"/>
<text x="284.25" y="652.08" font-size="6.6" font-weight="bold" text-anchor="middle" fill="#222">**</text>
<line x1="228.8" y1="686.1" x2="228.8" y2="688.7" stroke="#222" stroke-width="0.8"/>
<text x="228.8" y="698.1" font-size="7.7" font-weight="bold" text-anchor="middle" fill="#111" stroke="#111" stroke-width="0.12">NUSN2</text>
<line x1="272.2" y1="686.1" x2="272.2" y2="688.7" stroke="#222" stroke-width="0.8"/>
<text x="272.2" y="698.1" font-size="7.7" font-weight="bold" text-anchor="middle" fill="#111" stroke="#111" stroke-width="0.12">EREG</text>
<text x="250.4" y="590.2" font-size="7.6" font-weight="bold" text-anchor="middle" fill="#111" stroke="#111" stroke-width="0.12">DLD-1</text>
<rect x="218.8" y="597.7" width="9.5" height="6" fill="#a3a1a8"/>
<text x="232" y="603.4" font-size="7.7" font-weight="bold" text-anchor="start" fill="#111" stroke="#111" stroke-width="0.12">siNC</text>
<rect x="218.8" y="606.4" width="9.5" height="6" fill="#a6c9ea"/>
<text x="232" y="612.1" font-size="7.7" font-weight="bold" text-anchor="start" fill="#111" stroke="#111" stroke-width="0.12">siNUSN2-1</text>
<rect x="218.8" y="614.8" width="9.5" height="6" fill="#a6c9ea"/>
<text x="232" y="620.5" font-size="7.7" font-weight="bold" text-anchor="start" fill="#111" stroke="#111" stroke-width="0.12">siNUSN2-2</text>
<text x="189.6" y="645.2" font-size="7.9" font-weight="bold" text-anchor="middle" fill="#111" stroke="#111" stroke-width="0.12" transform="rotate(-90 189.6 645.2)">Relative mRNA expression</text>
<text x="340.6" y="590.2" font-size="10.5" font-weight="bold" text-anchor="start" fill="#000" stroke="#000" stroke-width="0.12">J</text>
<line x1="406.2" y1="596" x2="406.2" y2="656" stroke="#222" stroke-width="0.9"/>
<line x1="406.2" y1="663" x2="406.2" y2="678.55" stroke="#222" stroke-width="0.9"/>
<line x1="404" y1="658.4" x2="408.4" y2="656.2" stroke="#222" stroke-width="0.9"/>
<line x1="404" y1="663.2" x2="408.4" y2="660.9" stroke="#222" stroke-width="0.9"/>
<line x1="405.75" y1="678.1" x2="488.2" y2="678.1" stroke="#222" stroke-width="0.9"/>
<line x1="402.8" y1="636.7" x2="406.2" y2="636.7" stroke="#222" stroke-width="0.9"/>
<text x="401.9" y="639.1" font-size="6.8" font-weight="bold" text-anchor="end" fill="#111" stroke="#111" stroke-width="0.12">2</text>
<line x1="402.8" y1="616.5" x2="406.2" y2="616.5" stroke="#222" stroke-width="0.9"/>
<text x="401.9" y="618.9" font-size="6.8" font-weight="bold" text-anchor="end" fill="#111" stroke="#111" stroke-width="0.12">4</text>
<line x1="402.8" y1="596.3" x2="406.2" y2="596.3" stroke="#222" stroke-width="0.9"/>
<text x="401.9" y="598.7" font-size="6.8" font-weight="bold" text-anchor="end" fill="#111" stroke="#111" stroke-width="0.12">6</text>
<line x1="402.8" y1="678.1" x2="406.2" y2="678.1" stroke="#222" stroke-width="0.9"/>
<text x="402.2" y="680.6" font-size="6.9" font-weight="bold" text-anchor="end" fill="#111" stroke="#111" stroke-width="0.12">0.000</text>
<line x1="402.8" y1="670.6" x2="406.2" y2="670.6" stroke="#222" stroke-width="0.9"/>
<text x="402.2" y="673.1" font-size="6.9" font-weight="bold" text-anchor="end" fill="#111" stroke="#111" stroke-width="0.12">0.005</text>
<line x1="402.8" y1="663.1" x2="406.2" y2="663.1" stroke="#222" stroke-width="0.9"/>
<text x="402.2" y="665.6" font-size="6.9" font-weight="bold" text-anchor="end" fill="#111" stroke="#111" stroke-width="0.12">0.010</text>
<rect x="410.3" y="664.6" width="7.2" height="13.5" fill="#a3a1a8"/>
<rect x="421.2" y="663" width="6.8" height="15.1" fill="#f07a88"/>
<rect x="421.2" y="620.03" width="6.8" height="35.97" fill="#f07a88"/>
<line x1="424.6" y1="620.03" x2="424.6" y2="616" stroke="#f07a88" stroke-width="0.8"/>
<line x1="422.9" y1="616" x2="426.3" y2="616" stroke="#f07a88" stroke-width="0.8"/>
<rect x="439" y="665.35" width="6.8" height="12.75" fill="#a3a1a8"/>
<rect x="449.3" y="663" width="6.8" height="15.1" fill="#f07a88"/>
<rect x="449.3" y="655.1" width="6.8" height="0.9" fill="#f07a88"/>
<rect x="468" y="668.35" width="6.6" height="9.75" fill="#a3a1a8"/>
<rect x="478" y="663" width="6.8" height="15.1" fill="#f07a88"/>
<text x="452.7" y="655.8" font-size="6" font-weight="bold" text-anchor="middle" fill="#222">***</text>
<text x="481.4" y="662.2" font-size="6" font-weight="bold" text-anchor="middle" fill="#222">***</text>
<line x1="418.5" y1="678.1" x2="418.5" y2="681.5" stroke="#222" stroke-width="0.9"/>
<text x="420.7" y="687.7" font-size="6.5" font-weight="bold" text-anchor="end" fill="#111" stroke="#111" stroke-width="0.12" transform="rotate(-45 420.7 687.7)">NC</text>
<line x1="447.4" y1="678.1" x2="447.4" y2="681.5" stroke="#222" stroke-width="0.9"/>
<text x="449.6" y="687.7" font-size="6.5" font-weight="bold" text-anchor="end" fill="#111" stroke="#111" stroke-width="0.12" transform="rotate(-45 449.6 687.7)">si-NUSN2-1</text>
<line x1="476" y1="678.1" x2="476" y2="681.5" stroke="#222" stroke-width="0.9"/>
<text x="478.2" y="687.7" font-size="6.5" font-weight="bold" text-anchor="end" fill="#111" stroke="#111" stroke-width="0.12" transform="rotate(-45 478.2 687.7)">si-NUSN2-1</text>
<text x="447.4" y="584" font-size="7.5" font-weight="bold" text-anchor="middle" fill="#111" stroke="#111" stroke-width="0.12">DLD1-1</text>
<rect x="463.2" y="602.3" width="9.5" height="4.8" fill="#a3a1a8"/>
<text x="477.1" y="607" font-size="6.5" text-anchor="start" fill="#222" stroke="#222" stroke-width="0.22">IgG</text>
<rect x="463.2" y="611.5" width="9.5" height="4.8" fill="#f07a88"/>
<text x="477.1" y="616.2" font-size="6.5" text-anchor="start" fill="#222" stroke="#222" stroke-width="0.22">m5C</text>
<text x="381.4" y="637" font-size="7" font-weight="bold" text-anchor="middle" fill="#111" stroke="#111" stroke-width="0.12" transform="rotate(-90 381.4 637)">Enrichmen(%Input)</text>
<line x1="563.5" y1="588.5" x2="563.5" y2="650.6" stroke="#222" stroke-width="0.9"/>
<line x1="563.5" y1="656.3" x2="563.5" y2="672.35" stroke="#222" stroke-width="0.9"/>
<line x1="561.3" y1="653" x2="565.7" y2="650.8" stroke="#222" stroke-width="0.9"/>
<line x1="561.3" y1="656.5" x2="565.7" y2="654.2" stroke="#222" stroke-width="0.9"/>
<line x1="563.05" y1="671.9" x2="646" y2="671.9" stroke="#222" stroke-width="0.9"/>
<line x1="560.1" y1="630.6" x2="563.5" y2="630.6" stroke="#222" stroke-width="0.9"/>
<text x="559.2" y="633" font-size="6.8" font-weight="bold" text-anchor="end" fill="#111" stroke="#111" stroke-width="0.12">2</text>
<line x1="560.1" y1="610" x2="563.5" y2="610" stroke="#222" stroke-width="0.9"/>
<text x="559.2" y="612.4" font-size="6.8" font-weight="bold" text-anchor="end" fill="#111" stroke="#111" stroke-width="0.12">4</text>
<line x1="560.1" y1="589.4" x2="563.5" y2="589.4" stroke="#222" stroke-width="0.9"/>
<text x="559.2" y="591.8" font-size="6.8" font-weight="bold" text-anchor="end" fill="#111" stroke="#111" stroke-width="0.12">6</text>
<line x1="560.1" y1="671.9" x2="563.5" y2="671.9" stroke="#222" stroke-width="0.9"/>
<text x="559.5" y="674.4" font-size="6.9" font-weight="bold" text-anchor="end" fill="#111" stroke="#111" stroke-width="0.12">0.000</text>
<line x1="560.1" y1="664.3" x2="563.5" y2="664.3" stroke="#222" stroke-width="0.9"/>
<text x="559.5" y="666.8" font-size="6.9" font-weight="bold" text-anchor="end" fill="#111" stroke="#111" stroke-width="0.12">0.002</text>
<line x1="560.1" y1="656.7" x2="563.5" y2="656.7" stroke="#222" stroke-width="0.9"/>
<text x="559.5" y="659.2" font-size="6.9" font-weight="bold" text-anchor="end" fill="#111" stroke="#111" stroke-width="0.12">0.004</text>
<rect x="567.2" y="656.7" width="7" height="15.2" fill="#a3a1a8"/>
<rect x="577.7" y="656.3" width="6.4" height="15.6" fill="#f07a88"/>
<rect x="577.7" y="592.49" width="6.4" height="58.11" fill="#f07a88"/>
<line x1="580.9" y1="592.49" x2="580.9" y2="591.46" stroke="#f07a88" stroke-width="0.8"/>
<line x1="579.2" y1="591.46" x2="582.6" y2="591.46" stroke="#f07a88" stroke-width="0.8"/>
<rect x="596" y="662.4" width="6.7" height="9.5" fill="#a3a1a8"/>
<rect x="607.1" y="656.3" width="6.5" height="15.6" fill="#f07a88"/>
<rect x="607.1" y="649.7" width="6.5" height="0.9" fill="#f07a88"/>
<rect x="624.6" y="658.6" width="6.5" height="13.3" fill="#a3a1a8"/>
<rect x="635.5" y="656.3" width="6.5" height="15.6" fill="#f07a88"/>
<rect x="635.5" y="649.7" width="6.5" height="0.9" fill="#f07a88"/>
<text x="610.4" y="649.6" font-size="6" font-weight="bold" text-anchor="middle" fill="#222">***</text>
<text x="638.8" y="649.6" font-size="6" font-weight="bold" text-anchor="middle" fill="#222">***</text>
<line x1="575.9" y1="671.9" x2="575.9" y2="675.3" stroke="#222" stroke-width="0.9"/>
<text x="578.1" y="681.5" font-size="6.5" font-weight="bold" text-anchor="end" fill="#111" stroke="#111" stroke-width="0.12" transform="rotate(-45 578.1 681.5)">NC</text>
<line x1="604.8" y1="671.9" x2="604.8" y2="675.3" stroke="#222" stroke-width="0.9"/>
<text x="607" y="681.5" font-size="6.5" font-weight="bold" text-anchor="end" fill="#111" stroke="#111" stroke-width="0.12" transform="rotate(-45 607 681.5)">si-NUSN2-1</text>
<line x1="633.4" y1="671.9" x2="633.4" y2="675.3" stroke="#222" stroke-width="0.9"/>
<text x="635.6" y="681.5" font-size="6.5" font-weight="bold" text-anchor="end" fill="#111" stroke="#111" stroke-width="0.12" transform="rotate(-45 635.6 681.5)">si-NUSN2-1</text>
<text x="604.3" y="577.7" font-size="7.5" font-weight="bold" text-anchor="middle" fill="#111" stroke="#111" stroke-width="0.12">HT-29</text>
<rect x="620.6" y="592.3" width="9.5" height="4.8" fill="#a3a1a8"/>
<text x="634.3" y="597" font-size="6.5" text-anchor="start" fill="#222" stroke="#222" stroke-width="0.22">IgG</text>
<rect x="620.6" y="601" width="9.5" height="4.8" fill="#f07a88"/>
<text x="634.3" y="605.7" font-size="6.5" text-anchor="start" fill="#222" stroke="#222" stroke-width="0.22">m5C</text>
<text x="538" y="629.6" font-size="6.8" font-weight="bold" text-anchor="middle" fill="#111" stroke="#111" stroke-width="0.12" transform="rotate(-90 538 629.6)">Enrichmen(%Input)</text>
<filter id="soft" x="-2%" y="-2%" width="104%" height="104%"><feGaussianBlur stdDeviation="0.45"/></filter>
<filter id="tx1" x="0" y="0" width="100%" height="100%"><feTurbulence type="turbulence" baseFrequency="0.2 0.5" numOctaves="2" seed="4" result="t"/><feColorMatrix in="t" type="matrix" values="0 0 0 0 0.86  0 0 0 0 0.86  0 0 0 0 0.91  -4.5 0 0 0 1.0"/></filter>
<filter id="tx2" x="0" y="0" width="100%" height="100%"><feTurbulence type="turbulence" baseFrequency="0.2 0.5" numOctaves="2" seed="5" result="t"/><feColorMatrix in="t" type="matrix" values="0 0 0 0 0.86  0 0 0 0 0.86  0 0 0 0 0.91  -4.5 0 0 0 1.0"/></filter>
<filter id="tx3" x="0" y="0" width="100%" height="100%"><feTurbulence type="turbulence" baseFrequency="0.2 0.5" numOctaves="2" seed="6" result="t"/><feColorMatrix in="t" type="matrix" values="0 0 0 0 0.86  0 0 0 0 0.86  0 0 0 0 0.91  -4.5 0 0 0 1.0"/></filter>
<filter id="tx4" x="0" y="0" width="100%" height="100%"><feTurbulence type="turbulence" baseFrequency="0.2 0.5" numOctaves="2" seed="7" result="t"/><feColorMatrix in="t" type="matrix" values="0 0 0 0 0.86  0 0 0 0 0.86  0 0 0 0 0.91  -4.5 0 0 0 1.0"/></filter>
<filter id="tx5" x="0" y="0" width="100%" height="100%"><feTurbulence type="turbulence" baseFrequency="0.2 0.5" numOctaves="2" seed="8" result="t"/><feColorMatrix in="t" type="matrix" values="0 0 0 0 0.86  0 0 0 0 0.86  0 0 0 0 0.91  -4.5 0 0 0 1.0"/></filter>
<filter id="tx6" x="0" y="0" width="100%" height="100%"><feTurbulence type="turbulence" baseFrequency="0.2 0.5" numOctaves="2" seed="9" result="t"/><feColorMatrix in="t" type="matrix" values="0 0 0 0 0.86  0 0 0 0 0.86  0 0 0 0 0.91  -4.5 0 0 0 1.0"/></filter>
<text x="6.8" y="731.9" font-size="10.5" font-weight="bold" text-anchor="start" fill="#000" stroke="#000" stroke-width="0.12">K</text>
<clipPath id="kt4"><rect x="28.30" y="733.30" width="81.30" height="48.30"/></clipPath>
<g clip-path="url(#kt4)"><g filter="url(#soft)">
<rect x="27.3" y="732.3" width="83.3" height="50.3" fill="#948884"/>
<g transform="rotate(35 69.0 757.4)"><rect x="-1.0" y="687.4" width="140.0" height="140.0" filter="url(#tx1)" opacity="0.42"/></g>
<path d="M28.3 739.3 Q39.3 746.8 44.3 749.8 Q49.3 752.9 54.3 756.6 Q59.3 760.3 64.3 764.3" fill="none" stroke="#aab2c8" stroke-width="2.4" stroke-linecap="round"/>
<path d="M28.3 734.3 Q36.3 733.8 46.3 735.3" fill="none" stroke="#b8bfd2" stroke-width="1.6" stroke-linecap="round"/>
<path d="M34.3 750.3 Q41.8 759.0 46.7 763.3 Q51.6 767.6 57.1 771.9 Q62.6 776.2 67.5 781.8" fill="none" stroke="#d8dbe4" stroke-width="1.4" stroke-linecap="round"/>
<path d="M29.3 772.3 Q36.9 773.7 41.8 781.3" fill="none" stroke="#b4bbd0" stroke-width="1.2" stroke-linecap="round"/>
<path d="M29.3 762.7 Q34.4 768.9 36.9 775.0" fill="none" stroke="#c4c9d8" stroke-width="1.1" stroke-linecap="round"/>
<path d="M85.9 732.3 Q95.7 738.2 100.6 741.2 Q105.5 744.3 110.3 746.8" fill="none" stroke="#c6cbdb" stroke-width="2.6" stroke-linecap="round"/>
<path d="M95.7 768.9 L110.3 770.1" fill="none" stroke="#d8dbe4" stroke-width="1.4" stroke-linecap="round"/>
<path d="M60.2 766.4 Q67.5 768.9 73.0 770.7 Q78.6 772.5 85.9 777.4" fill="none" stroke="#ccd0dc" stroke-width="1.1" stroke-linecap="round"/>
<path d="M51.3 741.9 Q57.3 744.3 64.3 746.3" fill="none" stroke="#c0c6d6" stroke-width="0.9" stroke-linecap="round"/>
<path d="M72.3 774.3 Q80.3 778.3 88.3 782.3" fill="none" stroke="#b4bbd0" stroke-width="0.9" stroke-linecap="round"/>
<path d="M98.3 753.3 Q104.3 757.3 110.3 759.3" fill="none" stroke="#b9bfd1" stroke-width="0.9" stroke-linecap="round"/>
</g></g>
<clipPath id="kt10"><rect x="28.30" y="788.20" width="81.30" height="47.60"/></clipPath>
<g clip-path="url(#kt10)"><g filter="url(#soft)">
<rect x="27.3" y="787.2" width="83.3" height="49.6" fill="#8e8582"/>
<g transform="rotate(30 69.0 812.0)"><rect x="-1.0" y="742.0" width="140.0" height="140.0" filter="url(#tx2)" opacity="0.42"/></g>
<path d="M28.3 798.2 Q48.3 810.2 53.3 816.7 Q58.3 823.2 68.3 836.2" fill="none" stroke="#aab1c6" stroke-width="0.9" stroke-linecap="round"/>
<path d="M58.3 788.2 Q73.3 798.2 81.8 805.7 Q90.3 813.2 110.3 828.2" fill="none" stroke="#aab1c6" stroke-width="1" stroke-linecap="round"/>
<path d="M73.3 788.2 Q88.3 796.2 110.3 806.2" fill="none" stroke="#aab1c6" stroke-width="0.8" stroke-linecap="round"/>
<path d="M44.3 792.2 L52.3 794.2" fill="none" stroke="#c8ccd8" stroke-width="1.4" stroke-linecap="round"/>
<path d="M28.3 807.2 L36.3 810.2" fill="none" stroke="#c0c6d4" stroke-width="1.2" stroke-linecap="round"/>
<path d="M63.3 810.2 L68.3 812.2" fill="none" stroke="#c0c6d4" stroke-width="1.1" stroke-linecap="round"/>
</g></g>
<clipPath id="ky4"><rect x="116.60" y="733.30" width="81.00" height="48.30"/></clipPath>
<g clip-path="url(#ky4)"><g filter="url(#soft)">
<rect x="115.6" y="732.3" width="83" height="50.3" fill="#948374"/>
<g transform="rotate(8 157.1 757.4)"><rect x="87.1" y="687.4" width="140.0" height="140.0" filter="url(#tx3)" opacity="0.42"/></g>
<path d="M124.6 734.3 Q135.1 737.7 139.8 736.6 Q144.6 735.5 148.3 735.6 Q152.0 735.8 153.9 738.0 Q155.8 740.2 163.3 741.1 Q170.8 742.1 177.7 742.4 Q184.6 742.7 198.6 740.8" fill="none" stroke="#d9dbe4" stroke-width="1.3" stroke-linecap="round"/>
<path d="M136.6 738.3 Q140.6 742.3 146.1 743.3 Q151.6 744.3 158.1 745.3 Q164.6 746.3 170.6 746.8 Q176.6 747.3 198.6 747.3" fill="none" stroke="#c3c8d8" stroke-width="1.1" stroke-linecap="round"/>
<path d="M158.3 749.0 Q171.6 749.8 179.1 749.5 Q186.6 749.3 198.6 749.0" fill="none" stroke="#d4d7e1" stroke-width="1.5" stroke-linecap="round"/>
<path d="M161.6 752.8 Q176.6 753.3 198.6 754.3" fill="none" stroke="#c8cddb" stroke-width="1.2" stroke-linecap="round"/>
<path d="M174.6 759.0 Q186.6 758.8 198.6 759.3" fill="none" stroke="#d6d9e2" stroke-width="1.5" stroke-linecap="round"/>
<path d="M179.6 767.8 Q188.6 767.3 198.6 768.1" fill="none" stroke="#d6d9e2" stroke-width="1.5" stroke-linecap="round"/>
<path d="M182.6 774.1 Q190.6 773.3 198.6 774.3" fill="none" stroke="#d0d4de" stroke-width="1.3" stroke-linecap="round"/>
<path d="M116.6 762.8 Q121.6 760.8 125.6 759.0" fill="none" stroke="#dcdfe7" stroke-width="1.6" stroke-linecap="round"/>
<path d="M116.6 779.3 Q126.6 780.3 138.6 779.8" fill="none" stroke="#c8cddb" stroke-width="1.2" stroke-linecap="round"/>
<path d="M116.6 739.3 Q122.6 736.3 128.6 733.3" fill="none" stroke="#c0c6d8" stroke-width="1.3" stroke-linecap="round"/>
<path d="M146.6 763.3 Q154.6 766.3 164.6 767.3" fill="none" stroke="#c8ccda" stroke-width="0.8" stroke-linecap="round"/>
<path d="M126.6 748.3 Q132.6 755.3 136.6 763.3" fill="none" stroke="#c4c9d8" stroke-width="0.8" stroke-linecap="round"/>
</g></g>
<clipPath id="ky10"><rect x="116.60" y="788.20" width="81.00" height="47.60"/></clipPath>
<g clip-path="url(#ky10)"><g filter="url(#soft)">
<rect x="115.6" y="787.2" width="83" height="49.6" fill="#968472"/>
<g transform="rotate(20 157.1 812.0)"><rect x="87.1" y="742.0" width="140.0" height="140.0" filter="url(#tx4)" opacity="0.42"/></g>
<path d="M156.6 788.2 Q171.6 793.2 198.6 796.2" fill="none" stroke="#b3bad0" stroke-width="3" stroke-linecap="round"/>
<path d="M116.6 796.2 Q146.6 800.2 176.6 802.2" fill="none" stroke="#aab1c6" stroke-width="0.8" stroke-linecap="round"/>
<path d="M121.6 828.2 Q131.6 816.2 138.1 809.7 Q144.6 803.2 158.6 798.2" fill="none" stroke="#aab1c6" stroke-width="0.8" stroke-linecap="round"/>
<path d="M173.6 820.2 L189.6 821.2" fill="none" stroke="#d6d9e2" stroke-width="1.5" stroke-linecap="round"/>
<path d="M167.6 801.2 L172.6 804.2" fill="none" stroke="#d6d9e2" stroke-width="1.1" stroke-linecap="round"/>
</g></g>
<clipPath id="ke4"><rect x="204.10" y="733.30" width="81.20" height="48.30"/></clipPath>
<g clip-path="url(#ke4)"><g filter="url(#soft)">
<rect x="203.1" y="732.3" width="83.2" height="50.3" fill="#ae9f8d"/>
<g transform="rotate(80 244.7 757.4)"><rect x="174.7" y="687.4" width="140.0" height="140.0" filter="url(#tx5)" opacity="0.42"/></g>
<path d="M205.1 732.3 Q206.1 753.3 208.1 782.3" fill="none" stroke="#c9cede" stroke-width="3.2" stroke-linecap="round"/>
<path d="M217.1 732.3 Q216.6 748.3 218.1 763.3" fill="none" stroke="#ccd1df" stroke-width="1.6" stroke-linecap="round"/>
<path d="M226.1 732.3 Q225.1 753.3 226.1 763.3 Q227.1 773.3 228.1 782.3" fill="none" stroke="#c9cede" stroke-width="1.8" stroke-linecap="round"/>
<path d="M233.1 732.3 Q231.1 753.3 230.1 782.3" fill="none" stroke="#c6cbdc" stroke-width="2.4" stroke-linecap="round"/>
<path d="M261.1 732.3 Q258.1 748.3 256.6 755.8 Q255.1 763.3 253.1 782.3" fill="none" stroke="#c6cbdc" stroke-width="5" stroke-linecap="round"/>
<path d="M266.1 738.3 Q267.1 758.3 272.1 782.3" fill="none" stroke="#c9cede" stroke-width="2.2" stroke-linecap="round"/>
<path d="M269.1 732.3 Q278.1 737.3 286.1 741.3" fill="none" stroke="#cbd0df" stroke-width="5" stroke-linecap="round"/>
<path d="M244.1 738.3 Q245.1 753.3 244.1 768.3" fill="none" stroke="#d2d5e0" stroke-width="1.1" stroke-linecap="round"/>
<path d="M212.1 741.3 L213.1 758.3" fill="none" stroke="#d6d9e2" stroke-width="1" stroke-linecap="round"/>
<path d="M282.1 751.3 Q284.1 768.3 286.1 781.3" fill="none" stroke="#c9cede" stroke-width="2.4" stroke-linecap="round"/>
<path d="M237.1 763.3 Q240.1 773.3 242.1 782.3" fill="none" stroke="#cfd3df" stroke-width="1.2" stroke-linecap="round"/>
</g></g>
<clipPath id="ke10"><rect x="204.10" y="788.20" width="81.20" height="47.60"/></clipPath>
<g clip-path="url(#ke10)"><g filter="url(#soft)">
<rect x="203.1" y="787.2" width="83.2" height="49.6" fill="#a99d93"/>
<g transform="rotate(70 244.7 812.0)"><rect x="174.7" y="742.0" width="140.0" height="140.0" filter="url(#tx6)" opacity="0.42"/></g>
<path d="M283.1 787.2 Q279.1 806.2 276.6 814.7 Q274.1 823.2 270.1 837.2" fill="none" stroke="#c3c8da" stroke-width="8" stroke-linecap="round"/>
<path d="M240.1 787.2 Q237.1 808.2 234.1 837.2" fill="none" stroke="#c2c8da" stroke-width="2.6" stroke-linecap="round"/>
<path d="M210.1 787.2 Q209.1 813.2 208.1 837.2" fill="none" stroke="#c2c8da" stroke-width="2.6" stroke-linecap="round"/>
<path d="M223.1 807.2 Q228.1 811.2 232.1 814.2" fill="none" stroke="#dcdfe6" stroke-width="3.4" stroke-linecap="round"/>
<path d="M254.1 793.2 Q257.1 806.2 259.1 818.2" fill="none" stroke="#c6cbdd" stroke-width="1.3" stroke-linecap="round"/>
<path d="M226.1 790.2 L230.1 796.2" fill="none" stroke="#d6d9e2" stroke-width="1.6" stroke-linecap="round"/>
<path d="M216.1 818.2 Q220.1 826.2 222.1 833.2" fill="none" stroke="#d6d9e2" stroke-width="1.4" stroke-linecap="round"/>
<path d="M246.1 808.2 L250.1 812.2" fill="none" stroke="#d6d9e2" stroke-width="1.2" stroke-linecap="round"/>
<path d="M284.1 793.2 L286.1 813.2" fill="none" stroke="#c6cbdd" stroke-width="2" stroke-linecap="round"/>
<path d="M218.1 796.2 L221.1 803.2" fill="none" stroke="#d0d4df" stroke-width="1" stroke-linecap="round"/>
</g></g>
<rect x="275.5" y="832.9" width="7.9" height="1.2" fill="#111"/>
<rect x="61.4" y="742.4" width="32.2" height="19.5" fill="none" stroke="#222" stroke-width="0.8"/>
<line x1="61.4" y1="761.9" x2="28.3" y2="788" stroke="#222" stroke-width="0.7"/>
<line x1="93.6" y1="761.9" x2="109.6" y2="788" stroke="#222" stroke-width="0.7"/>
<rect x="140.7" y="746.5" width="32.4" height="19.7" fill="none" stroke="#222" stroke-width="0.8"/>
<line x1="140.7" y1="766.2" x2="116.6" y2="788" stroke="#222" stroke-width="0.7"/>
<line x1="173.1" y1="766.2" x2="197.6" y2="788" stroke="#222" stroke-width="0.7"/>
<rect x="226.4" y="753.3" width="32.0" height="19.7" fill="none" stroke="#222" stroke-width="0.8"/>
<line x1="226.4" y1="773" x2="204.1" y2="788" stroke="#222" stroke-width="0.7"/>
<line x1="258.4" y1="773" x2="285.3" y2="788" stroke="#222" stroke-width="0.7"/>
<text x="66.4" y="729" font-size="7.5" font-weight="bold" text-anchor="middle" fill="#111" stroke="#111" stroke-width="0.12">TRIM31</text>
<text x="150.7" y="729" font-size="7.5" font-weight="bold" text-anchor="middle" fill="#111" stroke="#111" stroke-width="0.12">YBX1</text>
<text x="245.8" y="729" font-size="7.5" font-weight="bold" text-anchor="middle" fill="#111" stroke="#111" stroke-width="0.12">EREG</text>
<text x="26" y="761.2" font-size="7.6" font-weight="bold" text-anchor="end" fill="#111" stroke="#111" stroke-width="0.12">4 X</text>
<text x="26.2" y="815.2" font-size="7.6" font-weight="bold" text-anchor="end" fill="#111" stroke="#111" stroke-width="0.12">10 X</text>
<text x="304" y="727.4" font-size="10.5" font-weight="bold" text-anchor="start" fill="#000" stroke="#000" stroke-width="0.12">L</text>
<line x1="344.9" y1="741.95" x2="344.9" y2="825.55" stroke="#222" stroke-width="0.9"/>
<line x1="344.45" y1="825.1" x2="468.55" y2="825.1" stroke="#222" stroke-width="0.9"/>
<line x1="342.3" y1="825.1" x2="344.9" y2="825.1" stroke="#222" stroke-width="0.8"/>
<text x="341.5" y="827.4" font-size="6.6" font-weight="bold" text-anchor="end" fill="#111" stroke="#111" stroke-width="0.12">0</text>
<line x1="342.3" y1="797.45" x2="344.9" y2="797.45" stroke="#222" stroke-width="0.8"/>
<text x="341.5" y="799.75" font-size="6.6" font-weight="bold" text-anchor="end" fill="#111" stroke="#111" stroke-width="0.12">5</text>
<line x1="342.3" y1="769.8" x2="344.9" y2="769.8" stroke="#222" stroke-width="0.8"/>
<text x="341.5" y="772.1" font-size="6.6" font-weight="bold" text-anchor="end" fill="#111" stroke="#111" stroke-width="0.12">10</text>
<line x1="342.3" y1="742.15" x2="344.9" y2="742.15" stroke="#222" stroke-width="0.8"/>
<text x="341.5" y="744.45" font-size="6.6" font-weight="bold" text-anchor="end" fill="#111" stroke="#111" stroke-width="0.12">15</text>
<line x1="344.9" y1="825.1" x2="344.9" y2="827.7" stroke="#222" stroke-width="0.8"/>
<text x="344.9" y="835.3" font-size="6.6" font-weight="bold" text-anchor="middle" fill="#111" stroke="#111" stroke-width="0.12">2</text>
<line x1="369.54" y1="825.1" x2="369.54" y2="827.7" stroke="#222" stroke-width="0.8"/>
<text x="369.54" y="835.3" font-size="6.6" font-weight="bold" text-anchor="middle" fill="#111" stroke="#111" stroke-width="0.12">4</text>
<line x1="394.18" y1="825.1" x2="394.18" y2="827.7" stroke="#222" stroke-width="0.8"/>
<text x="394.18" y="835.3" font-size="6.6" font-weight="bold" text-anchor="middle" fill="#111" stroke="#111" stroke-width="0.12">6</text>
<line x1="418.82" y1="825.1" x2="418.82" y2="827.7" stroke="#222" stroke-width="0.8"/>
<text x="418.82" y="835.3" font-size="6.6" font-weight="bold" text-anchor="middle" fill="#111" stroke="#111" stroke-width="0.12">8</text>
<line x1="443.46" y1="825.1" x2="443.46" y2="827.7" stroke="#222" stroke-width="0.8"/>
<text x="443.46" y="835.3" font-size="6.6" font-weight="bold" text-anchor="middle" fill="#111" stroke="#111" stroke-width="0.12">10</text>
<line x1="468.1" y1="825.1" x2="468.1" y2="827.7" stroke="#222" stroke-width="0.8"/>
<text x="468.1" y="835.3" font-size="6.6" font-weight="bold" text-anchor="middle" fill="#111" stroke="#111" stroke-width="0.12">12</text>
<line x1="369.54" y1="805.19" x2="468.1" y2="768.42" stroke="#111" stroke-width="0.9"/>
<circle cx="369.54" cy="791.92" r="1.8" fill="#e3342f"/>
<circle cx="369.54" cy="802.98" r="1.8" fill="#e3342f"/>
<circle cx="394.18" cy="791.92" r="1.8" fill="#e3342f"/>
<circle cx="394.18" cy="802.98" r="1.8" fill="#e3342f"/>
<circle cx="418.82" cy="780.86" r="1.8" fill="#e3342f"/>
<circle cx="418.82" cy="791.92" r="1.8" fill="#e3342f"/>
<circle cx="431.14" cy="780.86" r="1.8" fill="#e3342f"/>
<circle cx="431.14" cy="791.92" r="1.8" fill="#e3342f"/>
<circle cx="468.1" cy="758.74" r="1.8" fill="#e3342f"/>
<circle cx="468.1" cy="775.33" r="1.8" fill="#e3342f"/>
<text x="358.0" y="748.8" font-size="6.9" font-weight="bold" fill="#111" stroke="#111" stroke-width="0.12">R<tspan font-size="4.3" dy="-2.6">2</tspan><tspan dy="2.6">=0.7577</tspan></text>
<text x="358.0" y="757.1" font-size="6.9" font-weight="bold" fill="#111" stroke="#111" stroke-width="0.12">P<tspan dx="0.9" font-weight="normal" stroke-width="0.35">&lt;</tspan><tspan dx="0.9">0.0001</tspan></text>
<text x="331" y="783.62" font-size="6.4" font-weight="bold" text-anchor="middle" fill="#111" stroke="#111" stroke-width="0.12" transform="rotate(-90 331 783.62)">YBX1</text>
<text x="406.5" y="845" font-size="6.8" font-weight="bold" text-anchor="middle" fill="#111" stroke="#111" stroke-width="0.12">TRIM31</text>
<line x1="523.6" y1="743.95" x2="523.6" y2="826.95" stroke="#222" stroke-width="0.9"/>
<line x1="523.15" y1="826.5" x2="647.55" y2="826.5" stroke="#222" stroke-width="0.9"/>
<line x1="521" y1="826.5" x2="523.6" y2="826.5" stroke="#222" stroke-width="0.8"/>
<text x="520.2" y="828.8" font-size="6.6" font-weight="bold" text-anchor="end" fill="#111" stroke="#111" stroke-width="0.12">0</text>
<line x1="521" y1="799.05" x2="523.6" y2="799.05" stroke="#222" stroke-width="0.8"/>
<text x="520.2" y="801.35" font-size="6.6" font-weight="bold" text-anchor="end" fill="#111" stroke="#111" stroke-width="0.12">5</text>
<line x1="521" y1="771.6" x2="523.6" y2="771.6" stroke="#222" stroke-width="0.8"/>
<text x="520.2" y="773.9" font-size="6.6" font-weight="bold" text-anchor="end" fill="#111" stroke="#111" stroke-width="0.12">10</text>
<line x1="521" y1="744.15" x2="523.6" y2="744.15" stroke="#222" stroke-width="0.8"/>
<text x="520.2" y="746.45" font-size="6.6" font-weight="bold" text-anchor="end" fill="#111" stroke="#111" stroke-width="0.12">15</text>
<line x1="523.6" y1="826.5" x2="523.6" y2="829.1" stroke="#222" stroke-width="0.8"/>
<text x="523.6" y="836.7" font-size="6.6" font-weight="bold" text-anchor="middle" fill="#111" stroke="#111" stroke-width="0.12">2</text>
<line x1="548.3" y1="826.5" x2="548.3" y2="829.1" stroke="#222" stroke-width="0.8"/>
<text x="548.3" y="836.7" font-size="6.6" font-weight="bold" text-anchor="middle" fill="#111" stroke="#111" stroke-width="0.12">4</text>
<line x1="573" y1="826.5" x2="573" y2="829.1" stroke="#222" stroke-width="0.8"/>
<text x="573" y="836.7" font-size="6.6" font-weight="bold" text-anchor="middle" fill="#111" stroke="#111" stroke-width="0.12">6</text>
<line x1="597.7" y1="826.5" x2="597.7" y2="829.1" stroke="#222" stroke-width="0.8"/>
<text x="597.7" y="836.7" font-size="6.6" font-weight="bold" text-anchor="middle" fill="#111" stroke="#111" stroke-width="0.12">8</text>
<line x1="622.4" y1="826.5" x2="622.4" y2="829.1" stroke="#222" stroke-width="0.8"/>
<text x="622.4" y="836.7" font-size="6.6" font-weight="bold" text-anchor="middle" fill="#111" stroke="#111" stroke-width="0.12">10</text>
<line x1="647.1" y1="826.5" x2="647.1" y2="829.1" stroke="#222" stroke-width="0.8"/>
<text x="647.1" y="836.7" font-size="6.6" font-weight="bold" text-anchor="middle" fill="#111" stroke="#111" stroke-width="0.12">12</text>
<line x1="548.3" y1="808.38" x2="647.1" y2="769.95" stroke="#111" stroke-width="0.9"/>
<path d="M548.30 802.84L550.10 805.94L546.50 805.94Z" fill="#3c5cc8" stroke="none" stroke-width="1"/>
<path d="M573.00 791.86L574.80 794.96L571.20 794.96Z" fill="#3c5cc8" stroke="none" stroke-width="1"/>
<path d="M573.00 802.84L574.80 805.94L571.20 805.94Z" fill="#3c5cc8" stroke="none" stroke-width="1"/>
<path d="M597.70 780.88L599.50 783.98L595.90 783.98Z" fill="#3c5cc8" stroke="none" stroke-width="1"/>
<path d="M597.70 791.86L599.50 794.96L595.90 794.96Z" fill="#3c5cc8" stroke="none" stroke-width="1"/>
<path d="M610.05 780.88L611.85 783.98L608.25 783.98Z" fill="#3c5cc8" stroke="none" stroke-width="1"/>
<path d="M610.05 791.86L611.85 794.96L608.25 794.96Z" fill="#3c5cc8" stroke="none" stroke-width="1"/>
<path d="M647.10 758.92L648.90 762.02L645.30 762.02Z" fill="#3c5cc8" stroke="none" stroke-width="1"/>
<path d="M647.10 780.88L648.90 783.98L645.30 783.98Z" fill="#3c5cc8" stroke="none" stroke-width="1"/>
<text x="536.6" y="750.5" font-size="6.9" font-weight="bold" fill="#111" stroke="#111" stroke-width="0.12">R<tspan font-size="4.3" dy="-2.6">2</tspan><tspan dy="2.6">=0.7792</tspan></text>
<text x="536.6" y="758.8" font-size="6.9" font-weight="bold" fill="#111" stroke="#111" stroke-width="0.12">P<tspan dx="0.9" font-weight="normal" stroke-width="0.35">&lt;</tspan><tspan dx="0.9">0.0001</tspan></text>
<text x="508.3" y="785.33" font-size="6.4" font-weight="bold" text-anchor="middle" fill="#111" stroke="#111" stroke-width="0.12" transform="rotate(-90 508.3 785.33)">EREG</text>
<text x="585.35" y="846.3" font-size="6.8" font-weight="bold" text-anchor="middle" fill="#111" stroke="#111" stroke-width="0.12">TRIM31</text>
</svg>
</body></html>
